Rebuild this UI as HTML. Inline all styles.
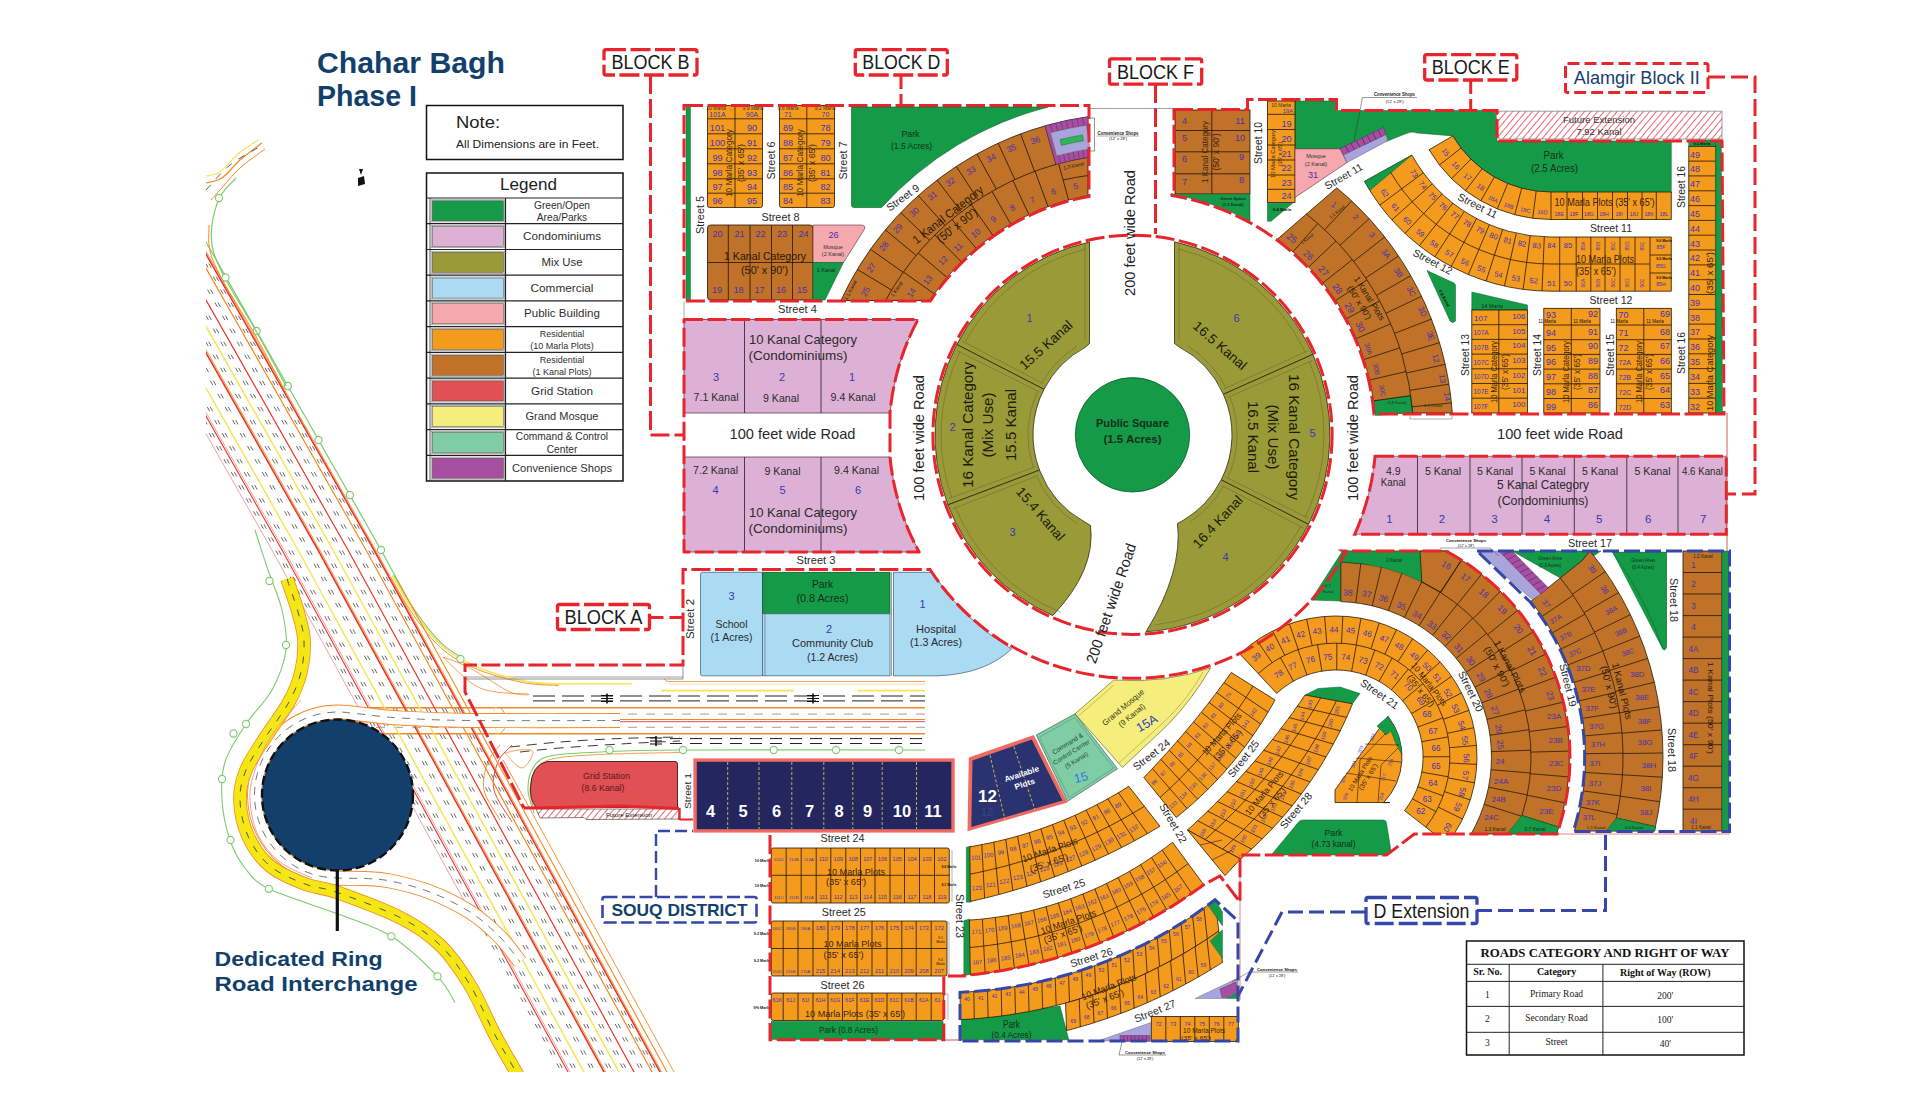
<!DOCTYPE html>
<html><head><meta charset="utf-8"><title>Chahar Bagh Phase I</title>
<style>html,body{margin:0;padding:0;background:#fff;}svg{display:block;}text{font-family:"Liberation Sans",sans-serif;}</style>
</head><body>
<svg width="1921" height="1101" viewBox="0 0 1921 1101">
<defs>
<pattern id="hatch" width="5" height="5" patternUnits="userSpaceOnUse" patternTransform="rotate(40)"><rect width="5" height="5" fill="#fff"/><line x1="0" y1="0" x2="0" y2="5" stroke="#E0444C" stroke-width="1.6"/></pattern>
<clipPath id="mapclip"><rect x="206" y="138" width="800" height="934"/></clipPath><clipPath id="clipRing"><rect x="1200" y="560" width="300" height="274"/></clipPath><clipPath id="clipA"><rect x="1600" y="440" width="126" height="100"/></clipPath>
</defs>
<rect x="0" y="0" width="1921" height="1101" fill="#fff" stroke="none" stroke-width="1" />
<g clip-path="url(#mapclip)">
<line x1="466" y1="677" x2="683" y2="677" stroke="#888" stroke-width="0.8" />
<path d="M664 679 Q665 681.5 670 681.5 H925" fill="none" stroke="#E9A25A" stroke-width="1" />
<line x1="668" y1="684" x2="925" y2="684" stroke="#F6DDA0" stroke-width="0.9" />
<line x1="535" y1="683.7" x2="632" y2="683.7" stroke="#F7E45A" stroke-width="1.6" />
<line x1="661" y1="690.6" x2="794" y2="690.6" stroke="#F7E45A" stroke-width="1.8" />
<line x1="857" y1="690.6" x2="925" y2="690.6" stroke="#F7E45A" stroke-width="1.8" />
<line x1="533" y1="696" x2="925" y2="696" stroke="#222" stroke-width="1" stroke-dasharray="22 7"/>
<line x1="533" y1="700.9" x2="925" y2="700.9" stroke="#222" stroke-width="1" stroke-dasharray="22 7"/>
<line x1="340" y1="707.7" x2="925" y2="707.7" stroke="#F08A24" stroke-width="1.4" />
<line x1="340" y1="714.1" x2="925" y2="714.1" stroke="#777" stroke-width="0.7" stroke-dasharray="9 9"/>
<line x1="340" y1="719.5" x2="925" y2="719.5" stroke="#F08A24" stroke-width="1.2" />
<line x1="340" y1="721.7" x2="925" y2="721.7" stroke="#E8372C" stroke-width="0.9" />
<line x1="340" y1="727.3" x2="925" y2="727.3" stroke="#777" stroke-width="0.7" stroke-dasharray="9 9"/>
<line x1="340" y1="733.7" x2="925" y2="733.7" stroke="#F08A24" stroke-width="1.4" />
<line x1="670" y1="738.6" x2="925" y2="738.6" stroke="#222" stroke-width="1" stroke-dasharray="12 8"/>
<line x1="670" y1="743.5" x2="925" y2="743.5" stroke="#222" stroke-width="1" stroke-dasharray="12 8"/>
<path d="M520 752 C526.7 751.3 543.3 749.3 560 748 C576.7 746.7 600 745.2 620 744 C640 742.8 670 741.5 680 741" fill="none" stroke="#222" stroke-width="0.9" stroke-dasharray="10 7"/>
<path d="M510 747 C518.3 746.2 541.7 743.4 560 742 C578.3 740.6 600 739.3 620 738.5 C640 737.7 670 737.2 680 737" fill="none" stroke="#222" stroke-width="0.9" stroke-dasharray="10 7"/>
<path d="M534 813 C533 809.2 528.2 797.5 528 790 C527.8 782.5 529.3 773.7 533 768 C536.7 762.3 538.8 758.7 550 756 C561.2 753.3 578.3 753 600 752 C621.7 751 625.8 750.3 680 750 C734.2 749.7 884.2 750 925 750" fill="none" stroke="#7CCB6E" stroke-width="1.1" />
<path d="M534 810 C533.3 806.7 529.7 796.7 530 790 C530.3 783.3 532.3 775.2 536 770 C539.7 764.8 541.3 761.6 552 759 C562.7 756.4 578.7 755.6 600 754.5 C621.3 753.4 666.7 752.8 680 752.5" fill="none" stroke="#F08A24" stroke-width="0.8" />
<circle cx="609.5" cy="750" r="3.6" fill="#fff" stroke="#7CCB6E" stroke-width="1.1" />
<circle cx="683" cy="750" r="3.6" fill="#fff" stroke="#7CCB6E" stroke-width="1.1" />
<circle cx="773.7" cy="750" r="3.6" fill="#fff" stroke="#7CCB6E" stroke-width="1.1" />
<circle cx="836" cy="750" r="3.6" fill="#fff" stroke="#7CCB6E" stroke-width="1.1" />
<circle cx="899" cy="750" r="3.6" fill="#fff" stroke="#7CCB6E" stroke-width="1.1" />
<path d="M601 695.5h12M601 698.5h12M601 701.5h12" fill="none" stroke="#111" stroke-width="1.1" />
<line x1="607" y1="693.5" x2="607" y2="703.5" stroke="#111" stroke-width="1.6" />
<path d="M807 695.5h12M807 698.5h12M807 701.5h12" fill="none" stroke="#111" stroke-width="1.1" />
<line x1="813" y1="693.5" x2="813" y2="703.5" stroke="#111" stroke-width="1.6" />
<path d="M650 738h12M650 741h12M650 744h12" fill="none" stroke="#111" stroke-width="1.1" />
<line x1="656" y1="736" x2="656" y2="746" stroke="#111" stroke-width="1.6" />
<path d="M392.5 576 C395.1 580.5 402.6 594.5 408 603 C413.4 611.5 419.3 619.8 425 627 C430.7 634.2 435.9 640.5 442 646 C448.1 651.5 453.6 655.4 461.6 659.7 C469.6 664 479.1 668.4 490 672 C500.9 675.6 515.3 679.5 527 681.5 C538.7 683.5 554.5 683.6 560 684" fill="none" stroke="#F7E45A" stroke-width="1.6" />
<path d="M391 577.5 C393.6 582 401.1 596 406.5 604.5 C411.9 613 417.8 621.3 423.5 628.5 C429.2 635.7 434.4 642 440.5 647.5 C446.6 653 452.1 656.9 460.1 661.2 C468.1 665.5 477.6 669.9 488.5 673.5 C499.4 677.1 513.8 681 525.5 683 C537.2 685 553 685.1 558.5 685.5" fill="none" stroke="#F08A24" stroke-width="0.9" />
<path d="M393.7 574.8 C396.3 579.3 403.8 593.3 409.2 601.8 C414.6 610.3 420.5 618.6 426.2 625.8 C431.9 633 437.1 639.3 443.2 644.8 C449.3 650.2 459.5 656.2 462.8 658.5" fill="none" stroke="#7CCB6E" stroke-width="1.1" />
<circle cx="460.5" cy="659" r="3.6" fill="#fff" stroke="#7CCB6E" stroke-width="1.1" />
<path d="M443 657 C447.5 658.8 458.8 662.2 470 668 C481.2 673.8 500.3 687.7 510 692 C519.7 696.3 533 694.7 528 694 C523 693.3 494.2 694.2 480 688 C465.8 681.8 449.2 662.2 443 657" fill="none" stroke="#F08A24" stroke-width="0.8" />
<path d="M500 707 C501 708.5 505 712.8 506 716 C507 719.2 507 723 506 726 C505 729 501 732.7 500 734" fill="none" stroke="#F08A24" stroke-width="0.9" />
<path d="M496 707 C495.3 709.2 491.7 715.5 492 720 C492.3 724.5 497 731.7 498 734" fill="none" stroke="#F7E45A" stroke-width="0.9" />
<path d="M500 745 C498 747.8 490.7 754.5 488 762 C485.3 769.5 482 780.3 484 790 C486 799.7 497.3 815 500 820" fill="none" stroke="#F08A24" stroke-width="0.9" />
<path d="M512 745 C509.7 747.8 501 754.5 498 762 C495 769.5 491.7 780 494 790 C496.3 800 509 816.7 512 822" fill="none" stroke="#E8372C" stroke-width="0.9" />
<path d="M505 753 C507.5 752.5 515.3 750.2 520 750 C524.7 749.8 532.7 749 533 752 C533.3 755 526.7 767.8 522 768 C517.3 768.2 507.8 755.5 505 753" fill="none" stroke="#F08A24" stroke-width="0.8" />
<polyline points="73.2,200 272,550 466.5,905" fill="none" stroke="#EE8A8A" stroke-width="0.8" />
<polyline points="83.2,200 282,550 572.4,1080" fill="none" stroke="#E8372C" stroke-width="1.1" />
<polyline points="85.2,200 284,550 574.4,1080" fill="none" stroke="#EE8A8A" stroke-width="0.8" />
<polyline points="53.8,120 298,550 588.4,1080" fill="none" stroke="#F7E45A" stroke-width="1.5" />
<polyline points="73.8,120 318,550 608.4,1080" fill="none" stroke="#E8372C" stroke-width="1.6" />
<polyline points="75.5,120 319.7,550 610.1,1080" fill="none" stroke="#F08A24" stroke-width="0.9" />
<polyline points="88.8,120 333,550 623.4,1080" fill="none" stroke="#F7E45A" stroke-width="1.5" />
<polyline points="103.8,120 348,550 638.4,1080" fill="none" stroke="#E8372C" stroke-width="1.2" />
<polyline points="121.8,120 366,550 656.4,1080" fill="none" stroke="#F08A24" stroke-width="1.2" />
<polyline points="129.8,120 374,550 664.4,1080" fill="none" stroke="#E8372C" stroke-width="1.6" />
<polyline points="131.4,120 375.6,550 666,1080" fill="none" stroke="#F08A24" stroke-width="0.9" />
<polyline points="182.2,200 381,550 396.3,578" fill="none" stroke="#7CCB6E" stroke-width="1.2" />
<polyline points="396.3,578 671.4,1080" fill="none" stroke="#F08A24" stroke-width="1.1" />
<polyline points="503.1,760 678.4,1080" fill="none" stroke="#F08A24" stroke-width="0.9" />
<polyline points="31.3,120 275.5,550 565.9,1080" fill="none" stroke="#444" stroke-width="0.8" stroke-dasharray="5 10"/>
<polyline points="34.3,120 278.5,550 568.9,1080" fill="none" stroke="#444" stroke-width="0.8" stroke-dasharray="5 10"/>
<polyline points="44.3,120 288.5,550 578.9,1080" fill="none" stroke="#444" stroke-width="0.8" stroke-dasharray="5 10"/>
<polyline points="47.3,120 291.5,550 581.9,1080" fill="none" stroke="#444" stroke-width="0.8" stroke-dasharray="5 10"/>
<polyline points="62.3,120 306.5,550 596.9,1080" fill="none" stroke="#444" stroke-width="0.8" stroke-dasharray="5 10"/>
<polyline points="65.3,120 309.5,550 599.9,1080" fill="none" stroke="#444" stroke-width="0.8" stroke-dasharray="5 10"/>
<polyline points="79.8,120 324,550 614.4,1080" fill="none" stroke="#444" stroke-width="0.8" stroke-dasharray="5 10"/>
<polyline points="82.8,120 327,550 617.4,1080" fill="none" stroke="#444" stroke-width="0.8" stroke-dasharray="5 10"/>
<polyline points="94.8,120 339,550 629.4,1080" fill="none" stroke="#444" stroke-width="0.8" stroke-dasharray="5 10"/>
<polyline points="97.8,120 342,550 632.4,1080" fill="none" stroke="#444" stroke-width="0.8" stroke-dasharray="5 10"/>
<polyline points="111.3,120 355.5,550 645.9,1080" fill="none" stroke="#444" stroke-width="0.8" stroke-dasharray="5 10"/>
<polyline points="114.3,120 358.5,550 648.9,1080" fill="none" stroke="#444" stroke-width="0.8" stroke-dasharray="5 10"/>
<polyline points="124.3,120 368.5,550 658.9,1080" fill="none" stroke="#444" stroke-width="0.8" stroke-dasharray="5 10"/>
<polyline points="127.3,120 371.5,550 661.9,1080" fill="none" stroke="#444" stroke-width="0.8" stroke-dasharray="5 10"/>
<circle cx="256.6" cy="331" r="3.6" fill="#fff" stroke="#7CCB6E" stroke-width="1.1" />
<circle cx="287.8" cy="386" r="3.6" fill="#fff" stroke="#7CCB6E" stroke-width="1.1" />
<circle cx="318.5" cy="440" r="3.6" fill="#fff" stroke="#7CCB6E" stroke-width="1.1" />
<circle cx="349.8" cy="495" r="3.6" fill="#fff" stroke="#7CCB6E" stroke-width="1.1" />
<circle cx="381" cy="550" r="3.6" fill="#fff" stroke="#7CCB6E" stroke-width="1.1" />
<path d="M206 183 C208.7 182.2 216.3 181.8 222 178 C227.7 174.2 233.3 165.8 240 160 C246.7 154.2 258.3 145.8 262 143" fill="none" stroke="#F08A24" stroke-width="1.2" />
<path d="M206 176 C208.3 175.3 214.7 175.7 220 172 C225.3 168.3 231.7 159.3 238 154 C244.3 148.7 254.7 142.3 258 140" fill="none" stroke="#F7E45A" stroke-width="1.2" />
<path d="M211 200 C212.5 198.3 215.2 195.3 220 190 C224.8 184.7 232.5 174.8 240 168 C247.5 161.2 260.8 152.2 265 149" fill="none" stroke="#F08A24" stroke-width="1" />
<path d="M206 190 C210 185.8 220.8 172.3 230 165 C239.2 157.7 255.8 149.2 261 146" fill="none" stroke="#333" stroke-width="0.8" stroke-dasharray="7 8"/>
<path d="M286 386 C281 376.8 266 348.7 256 331 C246 313.3 233.2 293.5 226 280 C218.8 266.5 215.3 259.2 213 250 C210.7 240.8 210.8 233.8 212 225 C213.2 216.2 216 204.8 220 197 C224 189.2 233.3 181.2 236 178" fill="none" stroke="#7CCB6E" stroke-width="1.2" />
<path d="M284 389 C279 379.7 264.2 351 254 333 C243.8 315 230.3 294.7 223 281 C215.7 267.3 212.3 260.3 210 251 C207.7 241.7 209.2 229.3 209 225" fill="none" stroke="#F08A24" stroke-width="1" />
<circle cx="219" cy="198" r="3.6" fill="#fff" stroke="#7CCB6E" stroke-width="1.1" />
<circle cx="225.5" cy="277.5" r="3.6" fill="#fff" stroke="#7CCB6E" stroke-width="1.1" />
<path d="M620 720.5 C595 720.5 506.7 720.9 470 720.5 C433.3 720.1 418.3 719.1 400 718 C381.7 716.9 370.4 715 360 714 C349.6 713 344.8 711.9 337.5 712 C330.2 712.1 322.9 713 316 714.8 C309.1 716.7 302.2 719.5 296 723.1 C289.8 726.7 283.9 731.2 278.8 736.3 C273.7 741.4 269.2 747.3 265.6 753.5 C262 759.7 259.2 766.6 257.3 773.5 C255.5 780.4 254.5 787.8 254.5 795 C254.5 802.2 255.5 809.6 257.3 816.5 C259.2 823.4 262 830.3 265.6 836.5 C269.2 842.7 273.7 848.6 278.8 853.7 C283.9 858.8 289.8 863.3 296 866.9 C302.2 870.5 309.1 873.3 316 875.2 C322.9 877 329.3 877.4 337.5 878 C345.7 878.6 356.2 878 365 878.5 C373.8 879 379.2 878.8 390 881 C400.8 883.2 416.7 886.8 430 892 C443.3 897.2 458.3 904.5 470 912 C481.7 919.5 491.7 928.7 500 937 C508.3 945.3 516.7 957.8 520 962" fill="none" stroke="#F08A24" stroke-width="15" />
<path d="M620 720.5 C595 720.5 506.7 720.9 470 720.5 C433.3 720.1 418.3 719.1 400 718 C381.7 716.9 370.4 715 360 714 C349.6 713 344.8 711.9 337.5 712 C330.2 712.1 322.9 713 316 714.8 C309.1 716.7 302.2 719.5 296 723.1 C289.8 726.7 283.9 731.2 278.8 736.3 C273.7 741.4 269.2 747.3 265.6 753.5 C262 759.7 259.2 766.6 257.3 773.5 C255.5 780.4 254.5 787.8 254.5 795 C254.5 802.2 255.5 809.6 257.3 816.5 C259.2 823.4 262 830.3 265.6 836.5 C269.2 842.7 273.7 848.6 278.8 853.7 C283.9 858.8 289.8 863.3 296 866.9 C302.2 870.5 309.1 873.3 316 875.2 C322.9 877 329.3 877.4 337.5 878 C345.7 878.6 356.2 878 365 878.5 C373.8 879 379.2 878.8 390 881 C400.8 883.2 416.7 886.8 430 892 C443.3 897.2 458.3 904.5 470 912 C481.7 919.5 491.7 928.7 500 937 C508.3 945.3 516.7 957.8 520 962" fill="none" stroke="#fff" stroke-width="13.2" />
<path d="M620 720.5 C595 720.5 506.7 720.9 470 720.5 C433.3 720.1 418.3 719.1 400 718 C381.7 716.9 370.4 715 360 714 C349.6 713 344.8 711.9 337.5 712 C330.2 712.1 322.9 713 316 714.8 C309.1 716.7 302.2 719.5 296 723.1 C289.8 726.7 283.9 731.2 278.8 736.3 C273.7 741.4 269.2 747.3 265.6 753.5 C262 759.7 259.2 766.6 257.3 773.5 C255.5 780.4 254.5 787.8 254.5 795 C254.5 802.2 255.5 809.6 257.3 816.5 C259.2 823.4 262 830.3 265.6 836.5 C269.2 842.7 273.7 848.6 278.8 853.7 C283.9 858.8 289.8 863.3 296 866.9 C302.2 870.5 309.1 873.3 316 875.2 C322.9 877 329.3 877.4 337.5 878 C345.7 878.6 356.2 878 365 878.5 C373.8 879 379.2 878.8 390 881 C400.8 883.2 416.7 886.8 430 892 C443.3 897.2 458.3 904.5 470 912 C481.7 919.5 491.7 928.7 500 937 C508.3 945.3 516.7 957.8 520 962" fill="none" stroke="#555" stroke-width="0.8" stroke-dasharray="8 7"/>
<path d="M287 579 C288.8 584.5 295.2 601.8 298 612 C300.8 622.2 303.5 630 304 640 C304.5 650 303.5 661.7 301 672 C298.5 682.3 295 691 289 702 C283 713 272.2 726.7 265 738 C257.8 749.3 250.2 759.7 246 770 C241.8 780.3 239.7 789 240 800 C240.3 811 243 825 248 836 C253 847 260.5 858 270 866 C279.5 874 293.8 879.6 305 884 C316.2 888.4 321.7 886.9 337.5 892.5 C353.3 898.1 382.9 908.8 400 917.5 C417.1 926.2 428.3 933.8 440 945 C451.7 956.2 460.8 970 470 985 C479.2 1000 487.3 1020.5 495 1035 C502.7 1049.5 511.5 1063.7 516 1072 C520.5 1080.3 521 1082.8 522 1085" fill="none" stroke="#F08A24" stroke-width="13.6" />
<path d="M287 579 C288.8 584.5 295.2 601.8 298 612 C300.8 622.2 303.5 630 304 640 C304.5 650 303.5 661.7 301 672 C298.5 682.3 295 691 289 702 C283 713 272.2 726.7 265 738 C257.8 749.3 250.2 759.7 246 770 C241.8 780.3 239.7 789 240 800 C240.3 811 243 825 248 836 C253 847 260.5 858 270 866 C279.5 874 293.8 879.6 305 884 C316.2 888.4 321.7 886.9 337.5 892.5 C353.3 898.1 382.9 908.8 400 917.5 C417.1 926.2 428.3 933.8 440 945 C451.7 956.2 460.8 970 470 985 C479.2 1000 487.3 1020.5 495 1035 C502.7 1049.5 511.5 1063.7 516 1072 C520.5 1080.3 521 1082.8 522 1085" fill="none" stroke="#F5E616" stroke-width="12" />
<path d="M287 579 C288.8 584.5 295.2 601.8 298 612 C300.8 622.2 303.5 630 304 640 C304.5 650 303.5 661.7 301 672 C298.5 682.3 295 691 289 702 C283 713 272.2 726.7 265 738 C257.8 749.3 250.2 759.7 246 770 C241.8 780.3 239.7 789 240 800 C240.3 811 243 825 248 836 C253 847 260.5 858 270 866 C279.5 874 293.8 879.6 305 884 C316.2 888.4 321.7 886.9 337.5 892.5 C353.3 898.1 382.9 908.8 400 917.5 C417.1 926.2 428.3 933.8 440 945 C451.7 956.2 460.8 970 470 985 C479.2 1000 487.3 1020.5 495 1035 C502.7 1049.5 511.5 1063.7 516 1072 C520.5 1080.3 521 1082.8 522 1085" fill="none" stroke="#444" stroke-width="0.9" stroke-dasharray="7 9"/>
<path d="M301 700 C296.2 705.8 279.7 723.3 272 735 C264.3 746.7 258.7 759.2 255 770 C251.3 780.8 249.5 789.2 250 800 C250.5 810.8 253 824.7 258 835 C263 845.3 271 854.8 280 862 C289 869.2 306.7 875.3 312 878" fill="none" stroke="#EE8A8A" stroke-width="0.8" />
<path d="M255 530 C257.2 536.7 263.5 556.7 268 570 C272.5 583.3 279 596.7 282 610 C285 623.3 287.7 636.7 286 650 C284.3 663.3 278.7 677.7 272 690 C265.3 702.3 253.8 712 246 724 C238.2 736 229 749.3 225 762 C221 774.7 221.2 787 222 800 C222.8 813 226.2 828.7 230 840 C233.8 851.3 238.5 859.9 245 868 C251.5 876.1 253.4 881.2 268.8 888.8 C284.2 896.4 317.1 905.9 337.5 913.8 C357.9 921.7 374.6 925.9 391.3 936.3 C408 946.7 426.9 965.3 437.5 976.3 C448.1 987.3 452.1 998.1 455 1002.5" fill="none" stroke="#7CCB6E" stroke-width="1.1" />
<circle cx="269.5" cy="581" r="3.6" fill="#fff" stroke="#7CCB6E" stroke-width="1.1" />
<circle cx="286" cy="645" r="3.6" fill="#fff" stroke="#7CCB6E" stroke-width="1.1" />
<circle cx="246" cy="724" r="3.6" fill="#fff" stroke="#7CCB6E" stroke-width="1.1" />
<circle cx="233.5" cy="733.5" r="3.6" fill="#fff" stroke="#7CCB6E" stroke-width="1.1" />
<circle cx="222" cy="779" r="3.6" fill="#fff" stroke="#7CCB6E" stroke-width="1.1" />
<circle cx="230.5" cy="840" r="3.6" fill="#fff" stroke="#7CCB6E" stroke-width="1.1" />
<circle cx="268.8" cy="888.8" r="3.6" fill="#fff" stroke="#7CCB6E" stroke-width="1.1" />
<circle cx="391.3" cy="936.3" r="3.6" fill="#fff" stroke="#7CCB6E" stroke-width="1.1" />
<circle cx="437.5" cy="976.3" r="3.6" fill="#fff" stroke="#7CCB6E" stroke-width="1.1" />
</g>
<circle cx="337.5" cy="795" r="75.5" fill="#123F6B" stroke="#111" stroke-width="2.4" stroke-dasharray="9 4"/>
<line x1="337.3" y1="870" x2="337.3" y2="931" stroke="#111" stroke-width="3.2" />
<path d="M547 761.5 H675 Q677.5 761.5 677.5 764 V807.5 H536 Q530 800 530.5 788 Q531 765 547 761.5 Z" fill="#E05055" stroke="#3a1a1a" stroke-width="0.9" />
<text x="606.5" y="779" font-size="8.6" fill="#5a1a1a" text-anchor="middle" textLength="47" lengthAdjust="spacingAndGlyphs" >Grid Station</text>
<text x="603" y="790.5" font-size="8.6" fill="#5a1a1a" text-anchor="middle" textLength="43" lengthAdjust="spacingAndGlyphs" >(8.6 Kanal)</text>
<polygon points="536,809 679,809 679,819 586,819.5 584,817.5 540,818" fill="url(#hatch)" stroke="#333" stroke-width="0.6" />
<text x="629" y="817" font-size="5.4" fill="#222" text-anchor="middle" textLength="46" lengthAdjust="spacingAndGlyphs" >Future Extension</text>
<polyline points="524,808 560,807.5 620,806 679,808.5" fill="none" stroke="#E8242C" stroke-width="2.8" />
<line x1="679.5" y1="808" x2="679.5" y2="820" stroke="#E8242C" stroke-width="2.4" />
<polyline points="679.5,819.5 693,819.5" fill="none" stroke="#E8242C" stroke-width="2" />
<path d="M956.8 344.5 A197.5 197.5 0 0 1 1089.5 242 L1089.5 343.5 L1085.5 347.1 A99.5 99.5 0 0 0 1044 389.3 Z" fill="#9A9A38" stroke="#2b2b10" stroke-width="0.8" />
<path d="M1174.5 241.8 A197.5 197.5 0 0 1 1312.9 354.4 L1223.4 394.3 A99.5 99.5 0 0 0 1178.5 346.5 L1174.5 343.5 Z" fill="#9A9A38" stroke="#2b2b10" stroke-width="0.8" />
<path d="M947.9 504.9 A197.5 197.5 0 0 1 956.8 344.5 L1044 389.3 A99.5 99.5 0 0 0 1039.5 470.1 Z" fill="#9A9A38" stroke="#2b2b10" stroke-width="0.8" />
<path d="M1312.9 354.4 A197.5 197.5 0 0 1 1308.5 524.4 L1221.2 479.9 A99.5 99.5 0 0 0 1223.4 394.3 Z" fill="#9A9A38" stroke="#2b2b10" stroke-width="0.8" />
<path d="M1052.8 615.5 A197.5 197.5 0 0 1 947.9 504.9 L1039.5 470.1 A99.5 99.5 0 0 0 1085.1 522.2 L1090.5 525.5 Q1096 570 1052.8 615.5 Z" fill="#9A9A38" stroke="#2b2b10" stroke-width="0.8" />
<path d="M1308.5 524.4 A197.5 197.5 0 0 1 1146 631.8 Q1183 571.5 1177.5 523.5 L1183.1 520.4 A99.5 99.5 0 0 0 1221.2 479.9 Z" fill="#9A9A38" stroke="#2b2b10" stroke-width="0.8" />
<path d="M965.3 341.3 A191.5 191.5 0 0 1 1085.9 249" fill="none" stroke="#6b6b3a" stroke-width="0.6" />
<path d="M951.8 498 A191.5 191.5 0 0 1 959.9 351.7" fill="none" stroke="#6b6b3a" stroke-width="0.6" />
<path d="M1060.8 612.3 A191.5 191.5 0 0 1 955.3 507.4" fill="none" stroke="#6b6b3a" stroke-width="0.6" />
<path d="M1178.1 248.8 A191.5 191.5 0 0 1 1305.3 352.3" fill="none" stroke="#6b6b3a" stroke-width="0.6" />
<path d="M1309.4 361.5 A191.5 191.5 0 0 1 1305.3 517.2" fill="none" stroke="#6b6b3a" stroke-width="0.6" />
<path d="M1300.8 526.1 A191.5 191.5 0 0 1 1155.8 624.8" fill="none" stroke="#6b6b3a" stroke-width="0.6" />
<path d="M1042.2 382.2 A104.5 104.5 0 0 1 1077.1 346.1" fill="none" stroke="#6b6b3a" stroke-width="0.6" />
<path d="M1033 466.7 A104.5 104.5 0 0 1 1037.2 391.9" fill="none" stroke="#6b6b3a" stroke-width="0.6" />
<path d="M1077.1 523.4 A104.5 104.5 0 0 1 1036.9 476.9" fill="none" stroke="#6b6b3a" stroke-width="0.6" />
<path d="M1187.9 346.1 A104.5 104.5 0 0 1 1225.6 387.3" fill="none" stroke="#6b6b3a" stroke-width="0.6" />
<path d="M1230.1 397.3 A104.5 104.5 0 0 1 1228 477.3" fill="none" stroke="#6b6b3a" stroke-width="0.6" />
<path d="M1223 487 A104.5 104.5 0 0 1 1190.9 521.4" fill="none" stroke="#6b6b3a" stroke-width="0.6" />
<path d="M1039.3 392L957.1 350.7M1043.5 383.9L962.1 341M1038.4 475.4L952.7 508.9M1035.2 466.8L948.8 498.7M1224.2 388.9L1307.9 350.7M1227.9 397.3L1312.3 360.6M1225.8 477.2L1308.2 518.2M1221.7 485.3L1303.3 527.9M1085 243V341M1179 243V341" fill="none" stroke="#6b6b3a" stroke-width="0.6" />
<circle cx="1132.5" cy="434.8" r="57.2" fill="#159A48" stroke="#0b5a2a" stroke-width="0.8" />
<text x="1132.5" y="426.5" font-size="11" fill="#10301c" text-anchor="middle" font-weight="bold" textLength="73" lengthAdjust="spacingAndGlyphs" >Public Square</text>
<text x="1132.5" y="442.5" font-size="11" fill="#10301c" text-anchor="middle" font-weight="bold" textLength="58" lengthAdjust="spacingAndGlyphs" >(1.5 Acres)</text>
<circle cx="1132.5" cy="434.8" r="199.6" fill="none" stroke="#E8242C" stroke-width="3" stroke-dasharray="19 4.5"/>
<text x="1029.5" y="322" font-size="11" fill="#3838B0" text-anchor="middle" >1</text>
<text x="1236.5" y="322" font-size="11" fill="#3838B0" text-anchor="middle" >6</text>
<text x="952.5" y="431" font-size="11" fill="#3838B0" text-anchor="middle" >2</text>
<text x="1312.5" y="437" font-size="11" fill="#3838B0" text-anchor="middle" >5</text>
<text x="1012.5" y="536" font-size="11" fill="#3838B0" text-anchor="middle" >3</text>
<text x="1225.5" y="561" font-size="11" fill="#3838B0" text-anchor="middle" >4</text>
<text x="1049" y="348.5" font-size="13.5" fill="#1c1c08" text-anchor="middle" transform="rotate(-42 1049 348.5)" textLength="66" lengthAdjust="spacingAndGlyphs" >15.5 Kanal</text>
<text x="1217" y="349" font-size="13.5" fill="#1c1c08" text-anchor="middle" transform="rotate(41 1217 349)" textLength="66" lengthAdjust="spacingAndGlyphs" >16.5 Kanal</text>
<text x="1037" y="517" font-size="13.5" fill="#1c1c08" text-anchor="middle" transform="rotate(49 1037 517)" textLength="66" lengthAdjust="spacingAndGlyphs" >15.4 Kanal</text>
<text x="1221" y="525" font-size="13.5" fill="#1c1c08" text-anchor="middle" transform="rotate(-47 1221 525)" textLength="66" lengthAdjust="spacingAndGlyphs" >16.4 Kanal</text>
<text x="973" y="425" font-size="15" fill="#1c1c08" text-anchor="middle" transform="rotate(-90 973 425)" textLength="126" lengthAdjust="spacingAndGlyphs" >16 Kanal Category</text>
<text x="993" y="425" font-size="15" fill="#1c1c08" text-anchor="middle" transform="rotate(-90 993 425)" textLength="65" lengthAdjust="spacingAndGlyphs" >(Mix Use)</text>
<text x="1016" y="425" font-size="15" fill="#1c1c08" text-anchor="middle" transform="rotate(-90 1016 425)" textLength="72" lengthAdjust="spacingAndGlyphs" >15.5 Kanal</text>
<text x="1289" y="437" font-size="15" fill="#1c1c08" text-anchor="middle" transform="rotate(90 1289 437)" textLength="126" lengthAdjust="spacingAndGlyphs" >16 Kanal Category</text>
<text x="1268" y="437" font-size="15" fill="#1c1c08" text-anchor="middle" transform="rotate(90 1268 437)" textLength="65" lengthAdjust="spacingAndGlyphs" >(Mix Use)</text>
<text x="1248" y="437" font-size="15" fill="#1c1c08" text-anchor="middle" transform="rotate(90 1248 437)" textLength="72" lengthAdjust="spacingAndGlyphs" >16.5 Kanal</text>
<text x="1135" y="233" font-size="15" fill="#222" text-anchor="middle" transform="rotate(-90 1135 233)" textLength="126" lengthAdjust="spacingAndGlyphs" >200 feet wide Road</text>
<text x="1116" y="605" font-size="15" fill="#222" text-anchor="middle" transform="rotate(-71 1116 605)" textLength="126" lengthAdjust="spacingAndGlyphs" >200 feet wide Road</text>
<text x="924" y="438" font-size="15" fill="#222" text-anchor="middle" transform="rotate(-90 924 438)" textLength="126" lengthAdjust="spacingAndGlyphs" >100 feet wide Road</text>
<text x="1358" y="438" font-size="15" fill="#222" text-anchor="middle" transform="rotate(-90 1358 438)" textLength="126" lengthAdjust="spacingAndGlyphs" >100 feet wide Road</text>
<line x1="1155.5" y1="84" x2="1155.5" y2="234" stroke="#E8242C" stroke-width="3" stroke-dasharray="19 5"/>
<path d="M684 319.5 L918 319.5 A243.5 243.5 0 0 0 890 413 L684 413 Z" fill="#DDB1D6" stroke="#5a3a55" stroke-width="0.8" />
<path d="M744.5 319.5V413M821 319.5V413" fill="none" stroke="#3a2a3a" stroke-width="0.9" />
<path d="M684 457 L890 457 A243.5 243.5 0 0 0 919.1 552 L684 552 Z" fill="#DDB1D6" stroke="#5a3a55" stroke-width="0.8" />
<path d="M744.5 457V552M821 457V552" fill="none" stroke="#3a2a3a" stroke-width="0.9" />
<path d="M684 319.5 L918 319.5 A243.5 243.5 0 0 0 890 413 L890 457 A243.5 243.5 0 0 0 919.1 552 L684 552 Z" fill="none" stroke="#E8242C" stroke-width="3" stroke-dasharray="19 4.5" stroke-linejoin="round"/>
<text x="803" y="343.5" font-size="13" fill="#2a2a2a" text-anchor="middle" textLength="108" lengthAdjust="spacingAndGlyphs" >10 Kanal Category</text>
<text x="798" y="360" font-size="13" fill="#2a2a2a" text-anchor="middle" textLength="99" lengthAdjust="spacingAndGlyphs" >(Condominiums)</text>
<text x="716" y="380.5" font-size="11" fill="#3838B0" text-anchor="middle" >3</text>
<text x="782" y="380.5" font-size="11" fill="#3838B0" text-anchor="middle" >2</text>
<text x="852" y="381" font-size="11" fill="#3838B0" text-anchor="middle" >1</text>
<text x="716" y="401" font-size="10.5" fill="#2a2a2a" text-anchor="middle" textLength="45" lengthAdjust="spacingAndGlyphs" >7.1 Kanal</text>
<text x="781" y="401.5" font-size="10.5" fill="#2a2a2a" text-anchor="middle" textLength="36" lengthAdjust="spacingAndGlyphs" >9 Kanal</text>
<text x="853" y="401" font-size="10.5" fill="#2a2a2a" text-anchor="middle" textLength="45" lengthAdjust="spacingAndGlyphs" >9.4 Kanal</text>
<text x="792.5" y="438.5" font-size="14.5" fill="#2a2a2a" text-anchor="middle" textLength="126" lengthAdjust="spacingAndGlyphs" >100 feet wide Road</text>
<text x="715.5" y="474" font-size="10.5" fill="#2a2a2a" text-anchor="middle" textLength="45" lengthAdjust="spacingAndGlyphs" >7.2 Kanal</text>
<text x="782.5" y="475" font-size="10.5" fill="#2a2a2a" text-anchor="middle" textLength="36" lengthAdjust="spacingAndGlyphs" >9 Kanal</text>
<text x="856.5" y="474" font-size="10.5" fill="#2a2a2a" text-anchor="middle" textLength="45" lengthAdjust="spacingAndGlyphs" >9.4 Kanal</text>
<text x="715.5" y="494" font-size="11" fill="#3838B0" text-anchor="middle" >4</text>
<text x="782.5" y="494" font-size="11" fill="#3838B0" text-anchor="middle" >5</text>
<text x="858" y="494" font-size="11" fill="#3838B0" text-anchor="middle" >6</text>
<text x="803" y="516.5" font-size="13" fill="#2a2a2a" text-anchor="middle" textLength="108" lengthAdjust="spacingAndGlyphs" >10 Kanal Category</text>
<text x="798" y="533" font-size="13" fill="#2a2a2a" text-anchor="middle" textLength="99" lengthAdjust="spacingAndGlyphs" >(Condominiums)</text>
<text x="797.5" y="313" font-size="10.5" fill="#2a2a2a" text-anchor="middle" textLength="39" lengthAdjust="spacingAndGlyphs" >Street 4</text>
<text x="816" y="564" font-size="10.5" fill="#2a2a2a" text-anchor="middle" textLength="39" lengthAdjust="spacingAndGlyphs" >Street 3</text>
<polyline points="650.5,75 650.5,435 684,435" fill="none" stroke="#E8242C" stroke-width="3" stroke-dasharray="19 5"/>
<rect x="700.5" y="572.3" width="62" height="103.5" fill="#ABDBF3" stroke="#4a6a7a" stroke-width="0.8" rx="2"/>
<rect x="762.5" y="572.3" width="127.5" height="41.5" fill="#159A48" stroke="#0b5a2a" stroke-width="0.8" />
<rect x="762.5" y="613.8" width="127.5" height="62" fill="#ABDBF3" stroke="#4a6a7a" stroke-width="0.8" />
<path d="M893.5 572.3 H932 A247 247 0 0 0 1011.5 649 Q985 674 938 675.8 H893.5 Z" fill="#ABDBF3" stroke="#4a6a7a" stroke-width="0.8" />
<path d="M765 572.3V675.8M891.5 572.3V675.8" fill="none" stroke="#4a6a7a" stroke-width="0.6" />
<text x="731.5" y="600" font-size="11" fill="#3838B0" text-anchor="middle" >3</text>
<text x="829" y="633" font-size="11" fill="#3838B0" text-anchor="middle" >2</text>
<text x="922.5" y="607.5" font-size="11" fill="#3838B0" text-anchor="middle" >1</text>
<text x="731.5" y="627.5" font-size="10.5" fill="#2a2a2a" text-anchor="middle" textLength="32" lengthAdjust="spacingAndGlyphs" >School</text>
<text x="731.5" y="641" font-size="10.5" fill="#2a2a2a" text-anchor="middle" textLength="42" lengthAdjust="spacingAndGlyphs" >(1 Acres)</text>
<text x="822.5" y="588" font-size="10.5" fill="#10301c" text-anchor="middle" textLength="21" lengthAdjust="spacingAndGlyphs" >Park</text>
<text x="822.5" y="602" font-size="10.5" fill="#10301c" text-anchor="middle" textLength="52" lengthAdjust="spacingAndGlyphs" >(0.8 Acres)</text>
<text x="832.5" y="647" font-size="10.5" fill="#2a2a2a" text-anchor="middle" textLength="81" lengthAdjust="spacingAndGlyphs" >Community Club</text>
<text x="832.5" y="660.5" font-size="10.5" fill="#2a2a2a" text-anchor="middle" textLength="51" lengthAdjust="spacingAndGlyphs" >(1.2 Acres)</text>
<text x="936" y="633" font-size="10.5" fill="#2a2a2a" text-anchor="middle" textLength="40" lengthAdjust="spacingAndGlyphs" >Hospital</text>
<text x="936" y="645.5" font-size="10.5" fill="#2a2a2a" text-anchor="middle" textLength="52" lengthAdjust="spacingAndGlyphs" >(1.3 Acres)</text>
<text x="694" y="619" font-size="10" fill="#2a2a2a" text-anchor="middle" transform="rotate(-90 694 619)" textLength="40" lengthAdjust="spacingAndGlyphs" >Street 2</text>
<path d="M1008 645 A243.5 243.5 0 0 1 930 569.5 H683 V665 H465 V692 L524 808 " fill="none" stroke="#E8242C" stroke-width="3" stroke-dasharray="19 4.5"/>
<line x1="649.5" y1="617.5" x2="683" y2="617.5" stroke="#E8242C" stroke-width="3" stroke-dasharray="14 6"/>
<polyline points="683,665 683,679 466,679" fill="none" stroke="#666" stroke-width="0.7" />
<rect x="686" y="106.5" width="4.5" height="194" fill="#159A48" stroke="#0b5a2a" stroke-width="0.4" />
<rect x="707.5" y="105.5" width="55" height="102" fill="#F49B1E" stroke="#20140a" stroke-width="0.8" rx="2"/>
<path d="M735 105.5V207.5M707.5 118.8H762.5M707.5 133.8H762.5M707.5 148.8H762.5M707.5 163.8H762.5M707.5 178.8H762.5M707.5 193.2H762.5" fill="none" stroke="#20140a" stroke-width="0.8" />
<rect x="779.5" y="105.5" width="55" height="102" fill="#F49B1E" stroke="#20140a" stroke-width="0.8" rx="2"/>
<path d="M806.8 105.5V207.5M779.5 118.8H834.5M779.5 133.8H834.5M779.5 148.8H834.5M779.5 163.8H834.5M779.5 178.8H834.5M779.5 193.2H834.5" fill="none" stroke="#20140a" stroke-width="0.8" />
<text x="717.5" y="117.2" font-size="7" fill="#4A2FB0" text-anchor="middle" >101A</text>
<text x="752" y="117.2" font-size="7" fill="#4A2FB0" text-anchor="middle" >90A</text>
<text x="788" y="117.2" font-size="7" fill="#4A2FB0" text-anchor="middle" >71</text>
<text x="825.5" y="117.2" font-size="7" fill="#4A2FB0" text-anchor="middle" >70</text>
<text x="717.5" y="130.6" font-size="9.2" fill="#4A2FB0" text-anchor="middle" >101</text>
<text x="752" y="130.6" font-size="9.2" fill="#4A2FB0" text-anchor="middle" >90</text>
<text x="788" y="130.6" font-size="9.2" fill="#4A2FB0" text-anchor="middle" >89</text>
<text x="825.5" y="130.6" font-size="9.2" fill="#4A2FB0" text-anchor="middle" >78</text>
<text x="717.5" y="145.6" font-size="9.2" fill="#4A2FB0" text-anchor="middle" >100</text>
<text x="752" y="145.6" font-size="9.2" fill="#4A2FB0" text-anchor="middle" >91</text>
<text x="788" y="145.6" font-size="9.2" fill="#4A2FB0" text-anchor="middle" >88</text>
<text x="825.5" y="145.6" font-size="9.2" fill="#4A2FB0" text-anchor="middle" >79</text>
<text x="717.5" y="160.6" font-size="9.2" fill="#4A2FB0" text-anchor="middle" >99</text>
<text x="752" y="160.6" font-size="9.2" fill="#4A2FB0" text-anchor="middle" >92</text>
<text x="788" y="160.6" font-size="9.2" fill="#4A2FB0" text-anchor="middle" >87</text>
<text x="825.5" y="160.6" font-size="9.2" fill="#4A2FB0" text-anchor="middle" >80</text>
<text x="717.5" y="175.6" font-size="9.2" fill="#4A2FB0" text-anchor="middle" >98</text>
<text x="752" y="175.6" font-size="9.2" fill="#4A2FB0" text-anchor="middle" >93</text>
<text x="788" y="175.6" font-size="9.2" fill="#4A2FB0" text-anchor="middle" >86</text>
<text x="825.5" y="175.6" font-size="9.2" fill="#4A2FB0" text-anchor="middle" >81</text>
<text x="717.5" y="190.1" font-size="9.2" fill="#4A2FB0" text-anchor="middle" >97</text>
<text x="752" y="190.1" font-size="9.2" fill="#4A2FB0" text-anchor="middle" >94</text>
<text x="788" y="190.1" font-size="9.2" fill="#4A2FB0" text-anchor="middle" >85</text>
<text x="825.5" y="190.1" font-size="9.2" fill="#4A2FB0" text-anchor="middle" >82</text>
<text x="717.5" y="204.3" font-size="9.2" fill="#4A2FB0" text-anchor="middle" >96</text>
<text x="752" y="204.3" font-size="9.2" fill="#4A2FB0" text-anchor="middle" >95</text>
<text x="788" y="204.3" font-size="9.2" fill="#4A2FB0" text-anchor="middle" >84</text>
<text x="825.5" y="204.3" font-size="9.2" fill="#4A2FB0" text-anchor="middle" >83</text>
<text x="716" y="109.8" font-size="5" fill="#333" text-anchor="middle" >10 Marla</text>
<text x="753" y="109.8" font-size="5" fill="#333" text-anchor="middle" >9.9 Marla</text>
<text x="788" y="109.8" font-size="5" fill="#333" text-anchor="middle" >9.6 Marla</text>
<text x="825" y="109.8" font-size="5" fill="#333" text-anchor="middle" >9.2 Marla</text>
<text x="732" y="163" font-size="9.5" fill="#3a2a10" text-anchor="middle" transform="rotate(-90 732 163)" textLength="68" lengthAdjust="spacingAndGlyphs" >10 Marla Category</text>
<text x="744" y="163" font-size="9.5" fill="#3a2a10" text-anchor="middle" transform="rotate(-90 744 163)" textLength="38" lengthAdjust="spacingAndGlyphs" >(35' x 65')</text>
<text x="803" y="163" font-size="9.5" fill="#3a2a10" text-anchor="middle" transform="rotate(-90 803 163)" textLength="68" lengthAdjust="spacingAndGlyphs" >10 Marla Category</text>
<text x="815" y="163" font-size="9.5" fill="#3a2a10" text-anchor="middle" transform="rotate(-90 815 163)" textLength="38" lengthAdjust="spacingAndGlyphs" >(35' x 65')</text>
<text x="703.5" y="215" font-size="10.5" fill="#2a2a2a" text-anchor="middle" transform="rotate(-90 703.5 215)" textLength="38" lengthAdjust="spacingAndGlyphs" >Street 5</text>
<text x="774.5" y="160.5" font-size="10.5" fill="#2a2a2a" text-anchor="middle" transform="rotate(-90 774.5 160.5)" textLength="38" lengthAdjust="spacingAndGlyphs" >Street 6</text>
<text x="847" y="160.5" font-size="10.5" fill="#2a2a2a" text-anchor="middle" transform="rotate(-90 847 160.5)" textLength="38" lengthAdjust="spacingAndGlyphs" >Street 7</text>
<text x="780.5" y="221" font-size="10.5" fill="#2a2a2a" text-anchor="middle" textLength="38" lengthAdjust="spacingAndGlyphs" >Street 8</text>
<text x="905" y="200.5" font-size="10.5" fill="#2a2a2a" text-anchor="middle" transform="rotate(-36 905 200.5)" textLength="38" lengthAdjust="spacingAndGlyphs" >Street 9</text>
<path d="M851.5 107 H1047.9 A338.5 338.5 0 0 0 881.6 207.5 L854 207.5 Q851.5 207.5 851.5 205 Z" fill="#159A48" stroke="#0b5a2a" stroke-width="0.6" />
<text x="910.5" y="137" font-size="9.5" fill="#10301c" text-anchor="middle" textLength="18" lengthAdjust="spacingAndGlyphs" >Park</text>
<text x="911.5" y="148.5" font-size="9.5" fill="#10301c" text-anchor="middle" textLength="41" lengthAdjust="spacingAndGlyphs" >(1.5 Acres)</text>
<rect x="707.5" y="225" width="105.5" height="75" fill="#BF7228" stroke="#20140a" stroke-width="0.8" rx="3"/>
<path d="M728.3 225V300M750 225V300M771.5 225V300M792.5 225V300M707.5 262.5H813" fill="none" stroke="#20140a" stroke-width="0.8" />
<text x="717.5" y="237" font-size="9.2" fill="#4A2FB0" text-anchor="middle" >20</text>
<text x="739.5" y="237" font-size="9.2" fill="#4A2FB0" text-anchor="middle" >21</text>
<text x="760.5" y="237" font-size="9.2" fill="#4A2FB0" text-anchor="middle" >22</text>
<text x="782" y="237" font-size="9.2" fill="#4A2FB0" text-anchor="middle" >23</text>
<text x="803.5" y="237" font-size="9.2" fill="#4A2FB0" text-anchor="middle" >24</text>
<text x="717" y="292.5" font-size="9.2" fill="#4A2FB0" text-anchor="middle" >19</text>
<text x="738.5" y="292.5" font-size="9.2" fill="#4A2FB0" text-anchor="middle" >18</text>
<text x="759.5" y="292.5" font-size="9.2" fill="#4A2FB0" text-anchor="middle" >17</text>
<text x="781" y="292.5" font-size="9.2" fill="#4A2FB0" text-anchor="middle" >16</text>
<text x="802" y="292.5" font-size="9.2" fill="#4A2FB0" text-anchor="middle" >15</text>
<text x="765" y="260" font-size="11.5" fill="#2a1a08" text-anchor="middle" textLength="82" lengthAdjust="spacingAndGlyphs" >1 Kanal Category</text>
<text x="764.5" y="273.5" font-size="11.5" fill="#2a1a08" text-anchor="middle" textLength="47" lengthAdjust="spacingAndGlyphs" >(50' x 90')</text>
<path d="M813 225 H861 Q866.5 225 864 230 L843.5 262.5 H813 Z" fill="#F5A8AE" stroke="#5a3030" stroke-width="0.6" />
<text x="833.5" y="238" font-size="9.2" fill="#4A2FB0" text-anchor="middle" >26</text>
<text x="833" y="248.5" font-size="5.5" fill="#333" text-anchor="middle" >Mosque</text>
<text x="833" y="255.5" font-size="5.5" fill="#333" text-anchor="middle" >(2 Kanal)</text>
<polygon points="813,262.5 843.5,262.5 825,300 813,300" fill="#159A48" stroke="#0b5a2a" stroke-width="0.5" />
<text x="826" y="272" font-size="5.5" fill="#10301c" text-anchor="middle" >1 Kanal</text>
<path d="M840.9 300.5 A321 321 0 0 1 1088 116.8 L1088 195.4 A243.5 243.5 0 0 0 929.4 300.5 Z" fill="#BF7228" stroke="#20140a" stroke-width="0.8" />
<path d="M885.6 300.5 A281 281 0 0 1 1088 157.3M891.6 290L857.3 269.4M903.2 272.4L870.5 249.3M916.1 255.4L885.3 229.9M929.7 240.3L900.8 212.6M945 225.4L918.3 195.6M961.4 211.8L937.1 180.1M978.2 199.9L956.3 166.5M996.3 189L976.9 154M1014.9 179.6L998.1 143.2M1034.6 171.4L1020.6 133.9M1056 164.4L1045.1 125.9M934 293.7L903.4 272M946.8 277.3L918.2 253M961.2 261.7L934.8 235M976 248.2L951.9 219.5M992.8 235.3L971.3 204.6M1010.7 223.9L992 191.4M1028.8 214.4L1012.9 180.5M1048 206.4L1035 171.2M1068.5 199.8L1058.6 163.6M1063.1 180 A263 263 0 0 1 1088 175.5" fill="none" stroke="#20140a" stroke-width="0.8" />
<path d="M1045.1 125.9 A321 321 0 0 1 1088 116.8 L1088 157.3 A281 281 0 0 0 1056 164.4 Z" fill="#A84EA0" stroke="#5a2a5a" stroke-width="0.5" />
<path d="M1050.4 132.7 A313 313 0 0 1 1086.4 125.2 L1089.9 148.9 A289 289 0 0 0 1056.7 155.9 Z" fill="#A9A4DB" stroke="#555" stroke-width="0.4" />
<path d="M1060 139.5 A304 304 0 0 1 1082.5 134.9 L1083.5 140.8 A298 298 0 0 0 1061.4 145.4 Z" fill="#2FB457" stroke="#0b5a2a" stroke-width="0.4" />
<path d="M1060.6 163.1L1058.6 155.4M1052.4 132.2L1050.4 124.4M1065.3 161.9L1063.4 154.1M1057.6 130.8L1055.7 123.1M1069.9 160.8L1068.2 153M1062.8 129.6L1061 121.8M1074.6 159.8L1073 151.9M1068 128.5L1066.4 120.6M1079.3 158.8L1077.8 151M1073.3 127.4L1071.8 119.5M1084.1 158L1082.7 150.1M1078.5 126.4L1077.2 118.6M1088.8 157.2L1087.6 149.3M1083.8 125.6L1082.6 117.7" fill="none" stroke="#4a2a6a" stroke-width="0.5" />
<text x="868" y="293" font-size="8.5" fill="#4A2FB0" text-anchor="middle" transform="rotate(-61.3 868 293)" >25</text>
<text x="873.8" y="269.2" font-size="8.5" fill="#4A2FB0" text-anchor="middle" transform="rotate(-56.9 873.8 269.2)" >27</text>
<text x="886.2" y="248" font-size="8.5" fill="#4A2FB0" text-anchor="middle" transform="rotate(-52.4 886.2 248)" >28</text>
<text x="900" y="230.5" font-size="8.5" fill="#4A2FB0" text-anchor="middle" transform="rotate(-48.3 900 230.5)" >29</text>
<text x="916.2" y="214.2" font-size="8.5" fill="#4A2FB0" text-anchor="middle" transform="rotate(-44.1 916.2 214.2)" >30</text>
<text x="934.2" y="198" font-size="8.5" fill="#4A2FB0" text-anchor="middle" transform="rotate(-39.6 934.2 198)" >31</text>
<text x="952" y="184.2" font-size="8.5" fill="#4A2FB0" text-anchor="middle" transform="rotate(-35.5 952 184.2)" >32</text>
<text x="972.5" y="173" font-size="8.5" fill="#4A2FB0" text-anchor="middle" transform="rotate(-31.1 972.5 173)" >33</text>
<text x="992.5" y="160.5" font-size="8.5" fill="#4A2FB0" text-anchor="middle" transform="rotate(-26.8 992.5 160.5)" >34</text>
<text x="1012.5" y="151" font-size="8.5" fill="#4A2FB0" text-anchor="middle" transform="rotate(-22.7 1012.5 151)" >35</text>
<text x="1036.2" y="143" font-size="8.5" fill="#4A2FB0" text-anchor="middle" transform="rotate(-18.1 1036.2 143)" >36</text>
<text x="913.8" y="294.2" font-size="8.5" fill="#4A2FB0" text-anchor="middle" transform="rotate(-56.7 913.8 294.2)" >14</text>
<text x="930" y="281.7" font-size="8.5" fill="#4A2FB0" text-anchor="middle" transform="rotate(-52.4 930 281.7)" >13</text>
<text x="945" y="262.5" font-size="8.5" fill="#4A2FB0" text-anchor="middle" transform="rotate(-46.9 945 262.5)" >12</text>
<text x="960" y="249.2" font-size="8.5" fill="#4A2FB0" text-anchor="middle" transform="rotate(-42.5 960 249.2)" >11</text>
<text x="977.5" y="235.5" font-size="8.5" fill="#4A2FB0" text-anchor="middle" transform="rotate(-37.5 977.5 235.5)" >10</text>
<text x="995" y="221.7" font-size="8.5" fill="#4A2FB0" text-anchor="middle" transform="rotate(-32.5 995 221.7)" >9</text>
<text x="1013.8" y="210.5" font-size="8.5" fill="#4A2FB0" text-anchor="middle" transform="rotate(-27.6 1013.8 210.5)" >8</text>
<text x="1033.8" y="202.5" font-size="8.5" fill="#4A2FB0" text-anchor="middle" transform="rotate(-22.8 1033.8 202.5)" >7</text>
<text x="1054.5" y="194.2" font-size="8.5" fill="#4A2FB0" text-anchor="middle" transform="rotate(-17.8 1054.5 194.2)" >6</text>
<text x="1076.2" y="189" font-size="8.5" fill="#4A2FB0" text-anchor="middle" transform="rotate(-12.7 1076.2 189)" >5</text>
<text x="1074" y="167.5" font-size="5" fill="#222" text-anchor="middle" transform="rotate(-12 1074 167.5)" >1.3 Kanal</text>
<text x="852" y="291" font-size="5" fill="#222" text-anchor="middle" transform="rotate(-62 852 291)" >1.1 Kanal</text>
<text x="898" y="290" font-size="5" fill="#222" text-anchor="middle" transform="rotate(-55 898 290)" >1 Kanal</text>
<text x="950.5" y="218" font-size="12" fill="#2a1a08" text-anchor="middle" transform="rotate(-38 950.5 218)" textLength="86" lengthAdjust="spacingAndGlyphs" >1 Kanal Category</text>
<text x="959.5" y="228.5" font-size="12" fill="#2a1a08" text-anchor="middle" transform="rotate(-38 959.5 228.5)" textLength="48" lengthAdjust="spacingAndGlyphs" >(50' x 90')</text>
<polyline points="1090,118 1094.5,118 1094.5,151 1090,151" fill="none" stroke="#666" stroke-width="0.7" />
<text x="1118" y="134.5" font-size="4.6" fill="#222" text-anchor="middle" font-weight="bold" textLength="41" lengthAdjust="spacingAndGlyphs" >Convenience Shops</text>
<text x="1118" y="140" font-size="4.2" fill="#222" text-anchor="middle" >(12' x 28')</text>
<line x1="1097" y1="136" x2="1139" y2="136" stroke="#333" stroke-width="0.4" />
<path d="M684 105.5 H1089 V196.4 A242.5 242.5 0 0 0 930.2 301.1 H684 Z" fill="none" stroke="#E8242C" stroke-width="3" stroke-dasharray="19 4.5"/>
<line x1="901" y1="75" x2="901" y2="105" stroke="#E8242C" stroke-width="3" stroke-dasharray="14 5"/>
<line x1="1089" y1="108.5" x2="1174" y2="108.5" stroke="#777" stroke-width="0.7" />
<line x1="684" y1="301" x2="684" y2="319" stroke="#777" stroke-width="0.6" />
<path d="M1295 101 H1336 V110.5 H1497 V141 H1671.3 V193 H1551 A114 114 0 0 1 1452.8 135.9 L1417 133 Q1412 130.5 1405 134 L1387.5 141 L1340 149 H1295 Z" fill="#159A48" stroke="#0b5a2a" stroke-width="0.5" />
<text x="1553.5" y="159" font-size="10.5" fill="#10301c" text-anchor="middle" textLength="20" lengthAdjust="spacingAndGlyphs" >Park</text>
<text x="1554.5" y="171.5" font-size="10.5" fill="#10301c" text-anchor="middle" textLength="47" lengthAdjust="spacingAndGlyphs" >(2.5 Acres)</text>
<polygon points="1495.5,111.2 1722,111.2 1722,139 1499,139" fill="url(#hatch)" stroke="#777" stroke-width="0.7" />
<text x="1599" y="123" font-size="9.5" fill="#333" text-anchor="middle" textLength="72" lengthAdjust="spacingAndGlyphs" >Future Extension</text>
<text x="1599" y="134.5" font-size="9.5" fill="#333" text-anchor="middle" textLength="45" lengthAdjust="spacingAndGlyphs" >7.92 Kanal</text>
<rect x="1175" y="110" width="75" height="84" fill="#BF7228" stroke="#20140a" stroke-width="0.8" />
<path d="M1211.8 110V194M1175 130.5H1250M1175 151.8H1250M1175 173.8H1250" fill="none" stroke="#20140a" stroke-width="0.8" />
<text x="1184.5" y="124" font-size="9.2" fill="#4A2FB0" text-anchor="middle" >4</text>
<text x="1240" y="124" font-size="9.2" fill="#4A2FB0" text-anchor="middle" >11</text>
<text x="1184.5" y="140.5" font-size="9.2" fill="#4A2FB0" text-anchor="middle" >5</text>
<text x="1240" y="140.5" font-size="9.2" fill="#4A2FB0" text-anchor="middle" >10</text>
<text x="1184.5" y="161.5" font-size="9.2" fill="#4A2FB0" text-anchor="middle" >6</text>
<text x="1241.5" y="160" font-size="9.2" fill="#4A2FB0" text-anchor="middle" >9</text>
<text x="1184.5" y="184.5" font-size="9.2" fill="#4A2FB0" text-anchor="middle" >7</text>
<text x="1241.5" y="183" font-size="9.2" fill="#4A2FB0" text-anchor="middle" >8</text>
<text x="1208" y="152" font-size="8.5" fill="#3a2410" text-anchor="middle" transform="rotate(-90 1208 152)" textLength="62" lengthAdjust="spacingAndGlyphs" >1 Kanal Category</text>
<text x="1219" y="152" font-size="8.5" fill="#3a2410" text-anchor="middle" transform="rotate(-90 1219 152)" textLength="37" lengthAdjust="spacingAndGlyphs" >(50' x 90')</text>
<path d="M1170.9 194.3 H1250 V221.5 A243.5 243.5 0 0 0 1170.9 194.3 Z" fill="#159A48" stroke="#0b5a2a" stroke-width="0.5" />
<text x="1233" y="199.5" font-size="4.2" fill="#10301c" text-anchor="middle" font-weight="bold" >Green Space</text>
<text x="1233" y="205.5" font-size="4.2" fill="#10301c" text-anchor="middle" font-weight="bold" >(1.1 Kanal)</text>
<text x="1262" y="143" font-size="10.5" fill="#2a2a2a" text-anchor="middle" transform="rotate(-90 1262 143)" textLength="42" lengthAdjust="spacingAndGlyphs" >Street 10</text>
<rect x="1267.5" y="101" width="27.5" height="101.5" fill="#F49B1E" stroke="#20140a" stroke-width="0.8" />
<path d="M1267.5 114.3H1295M1267.5 129.5H1295M1267.5 145H1295M1267.5 160H1295M1267.5 175H1295M1267.5 189.3H1295" fill="none" stroke="#20140a" stroke-width="0.8" />
<text x="1288" y="113" font-size="6" fill="#4A2FB0" text-anchor="middle" >19A</text>
<text x="1286.5" y="126.5" font-size="9.2" fill="#4A2FB0" text-anchor="middle" >19</text>
<text x="1286.5" y="141.5" font-size="9.2" fill="#4A2FB0" text-anchor="middle" >20</text>
<text x="1286.5" y="156.5" font-size="9.2" fill="#4A2FB0" text-anchor="middle" >21</text>
<text x="1286.5" y="171" font-size="9.2" fill="#4A2FB0" text-anchor="middle" >22</text>
<text x="1286.5" y="186" font-size="9.2" fill="#4A2FB0" text-anchor="middle" >23</text>
<text x="1286.5" y="199" font-size="9.2" fill="#4A2FB0" text-anchor="middle" >24</text>
<text x="1281" y="106.5" font-size="5" fill="#333" text-anchor="middle" >10 Marla</text>
<text x="1275" y="154" font-size="5.8" fill="#3a2410" text-anchor="middle" transform="rotate(-90 1275 154)" textLength="48" lengthAdjust="spacingAndGlyphs" >10 Marla Category</text>
<text x="1282" y="154" font-size="5.8" fill="#3a2410" text-anchor="middle" transform="rotate(-90 1282 154)" textLength="24" lengthAdjust="spacingAndGlyphs" >(35' x 65')</text>
<polygon points="1267.5,203.3 1292.5,203.3 1271,221.3 1267.5,221.3" fill="#159A48" stroke="#0b5a2a" stroke-width="0.5" />
<text x="1282" y="211" font-size="4.2" fill="#111" text-anchor="middle" font-weight="bold" >0.4 Marla</text>
<polygon points="1295,148.8 1340,148.8 1347,162.5 1295,197.5" fill="#F5A8AE" stroke="#5a3030" stroke-width="0.6" />
<text x="1316" y="158" font-size="5.5" fill="#333" text-anchor="middle" >Mosque</text>
<text x="1316" y="166" font-size="5.5" fill="#333" text-anchor="middle" >(2 Kanal)</text>
<text x="1313" y="177.5" font-size="9.2" fill="#4A2FB0" text-anchor="middle" >31</text>
<polygon points="1340,148.5 1383.5,127.5 1386,134.5 1343.5,155" fill="#A84EA0" stroke="#4a2a6a" stroke-width="0.5" />
<polygon points="1343.5,155 1386,134.5 1388,140.5 1347,162.5" fill="#A9A4DB" stroke="#555" stroke-width="0.5" />
<path d="M1345.4 145.9L1348.9 152.4M1350.9 143.2L1354.4 149.8M1356.3 140.6L1359.8 147.1M1361.8 138L1365.2 144.5M1367.2 135.4L1370.7 141.9M1372.6 132.8L1376.1 139.2M1378.1 130.1L1381.6 136.6" fill="none" stroke="#3a1a5a" stroke-width="0.6" />
<polyline points="1354,141 1362.5,97.5 1417,97.5" fill="none" stroke="#333" stroke-width="0.5" />
<text x="1394.5" y="96" font-size="4.6" fill="#222" text-anchor="middle" font-weight="bold" textLength="41" lengthAdjust="spacingAndGlyphs" >Convenience Shops</text>
<text x="1394.5" y="102.5" font-size="4.2" fill="#222" text-anchor="middle" >(12' x 28')</text>
<text x="1345.5" y="179.5" font-size="10.5" fill="#2a2a2a" text-anchor="middle" transform="rotate(-30 1345.5 179.5)" textLength="42" lengthAdjust="spacingAndGlyphs" >Street 11</text>
<path d="M1429.1 149.8 A141.5 141.5 0 0 0 1551 219.5 H1671.3 V192 H1551 A114 114 0 0 1 1452.8 135.9 Z" fill="#F49B1E" stroke="#2a1a08" stroke-width="0.8" />
<path d="M1461.1 148.1L1439.4 165M1470.9 159.1L1451.6 178.7M1482.1 168.8L1465.5 190.7M1494.4 177L1480.8 200.9M1507.7 183.5L1497.3 208.9M1521.7 188.2L1514.7 214.8M1536.2 191L1532.7 218.3M1551 192L1551 219.5M1567 192V219.5M1582.5 192V219.5M1597.5 192V219.5M1612.5 192V219.5M1627.5 192V219.5M1642 192V219.5M1656.3 192V219.5" fill="none" stroke="#2a1a08" stroke-width="0.8" />
<text x="1443.5" y="153.6" font-size="7.2" fill="#4A2FB0" text-anchor="middle" transform="rotate(55.8 1443.5 153.6)" >15</text>
<text x="1453.9" y="166.9" font-size="7.2" fill="#4A2FB0" text-anchor="middle" transform="rotate(48.3 1453.9 166.9)" >16</text>
<text x="1465.9" y="178.8" font-size="7.2" fill="#4A2FB0" text-anchor="middle" transform="rotate(40.9 1465.9 178.8)" >17</text>
<text x="1479.3" y="188.9" font-size="7.2" fill="#4A2FB0" text-anchor="middle" transform="rotate(33.5 1479.3 188.9)" >18</text>
<text x="1492.2" y="200.9" font-size="5.6" fill="#4A2FB0" text-anchor="middle" transform="rotate(26 1492.2 200.9)" >18A</text>
<text x="1508.3" y="207.5" font-size="5.6" fill="#4A2FB0" text-anchor="middle" transform="rotate(18.6 1508.3 207.5)" >18B</text>
<text x="1525.1" y="212" font-size="5.6" fill="#4A2FB0" text-anchor="middle" transform="rotate(11.2 1525.1 212)" >18C</text>
<text x="1542.3" y="214.2" font-size="5.6" fill="#4A2FB0" text-anchor="middle" transform="rotate(3.7 1542.3 214.2)" >18D</text>
<text x="1559" y="216" font-size="5.2" fill="#4A2FB0" text-anchor="middle" >18E</text>
<text x="1574" y="216" font-size="5.2" fill="#4A2FB0" text-anchor="middle" >18F</text>
<text x="1589" y="216" font-size="5.2" fill="#4A2FB0" text-anchor="middle" >18G</text>
<text x="1604" y="216" font-size="5.2" fill="#4A2FB0" text-anchor="middle" >18H</text>
<text x="1619" y="216" font-size="5.2" fill="#4A2FB0" text-anchor="middle" >18I</text>
<text x="1634" y="216" font-size="5.2" fill="#4A2FB0" text-anchor="middle" >18J</text>
<text x="1649" y="216" font-size="5.2" fill="#4A2FB0" text-anchor="middle" >18K</text>
<text x="1664" y="216" font-size="5.2" fill="#4A2FB0" text-anchor="middle" >18L</text>
<text x="1604.5" y="206" font-size="10.5" fill="#3a2410" text-anchor="middle" textLength="100" lengthAdjust="spacingAndGlyphs" >10 Marla Plots (35' x 65')</text>
<path d="M1364.5 181.4 A213.2 213.2 0 0 0 1551 291.2 H1671.3 V237 H1551 A159 159 0 0 1 1411.9 155.1 Z" fill="#F49B1E" stroke="#2a1a08" stroke-width="0.8" />
<polygon points="1364.5,181.4 1411.9,155.1 1369.8,190.4" fill="#159A48" stroke="#0b5a2a" stroke-width="0.5" />
<path d="M1390.7 172.4 A186 186 0 0 0 1551 264 H1650M1423.3 172.8L1379.8 205.1M1432.3 183.8L1391.8 219.9M1442.1 193.9L1405 233.4M1452.9 203.1L1419.4 245.8M1464.4 211.3L1434.8 256.8M1476.6 218.5L1451.2 266.4M1489.4 224.6L1468.3 274.6M1502.6 229.5L1486.1 281.1M1516.3 233.2L1504.4 286.1M1530.2 235.6L1523.1 289.4M1544.3 236.9L1542 291.1M1559.7 237V291.25M1576.2 237V291.25M1590.8 237V291.25M1605 237V291.25M1620 237V291.25M1635 237V291.25M1650 237V291.25M1650 255H1671.3M1650 273H1671.3" fill="none" stroke="#2a1a08" stroke-width="0.8" />
<text x="1411.8" y="174.9" font-size="7.6" fill="#4A2FB0" text-anchor="middle" transform="rotate(56 1411.8 174.9)" >73</text>
<text x="1382.6" y="194.6" font-size="7.6" fill="#4A2FB0" text-anchor="middle" transform="rotate(56 1382.6 194.6)" >62</text>
<text x="1420.7" y="186.9" font-size="7.6" fill="#4A2FB0" text-anchor="middle" transform="rotate(50.9 1420.7 186.9)" >74</text>
<text x="1393.4" y="209.1" font-size="7.6" fill="#4A2FB0" text-anchor="middle" transform="rotate(50.9 1393.4 209.1)" >61</text>
<text x="1430.7" y="198" font-size="7.6" fill="#4A2FB0" text-anchor="middle" transform="rotate(45.8 1430.7 198)" >75</text>
<text x="1405.4" y="222.6" font-size="7.6" fill="#4A2FB0" text-anchor="middle" transform="rotate(45.8 1405.4 222.6)" >60</text>
<text x="1441.5" y="208.3" font-size="7.6" fill="#4A2FB0" text-anchor="middle" transform="rotate(40.7 1441.5 208.3)" >76</text>
<text x="1418.6" y="235" font-size="7.6" fill="#4A2FB0" text-anchor="middle" transform="rotate(40.7 1418.6 235)" >59</text>
<text x="1453.3" y="217.5" font-size="7.6" fill="#4A2FB0" text-anchor="middle" transform="rotate(35.6 1453.3 217.5)" >77</text>
<text x="1432.8" y="246.2" font-size="7.6" fill="#4A2FB0" text-anchor="middle" transform="rotate(35.6 1432.8 246.2)" >58</text>
<text x="1465.8" y="225.6" font-size="7.6" fill="#4A2FB0" text-anchor="middle" transform="rotate(30.5 1465.8 225.6)" >78</text>
<text x="1448" y="256" font-size="7.6" fill="#4A2FB0" text-anchor="middle" transform="rotate(30.5 1448 256)" >57</text>
<text x="1479" y="232.6" font-size="7.6" fill="#4A2FB0" text-anchor="middle" transform="rotate(25.4 1479 232.6)" >79</text>
<text x="1463.9" y="264.5" font-size="7.6" fill="#4A2FB0" text-anchor="middle" transform="rotate(25.4 1463.9 264.5)" >56</text>
<text x="1492.8" y="238.4" font-size="7.6" fill="#4A2FB0" text-anchor="middle" transform="rotate(20.3 1492.8 238.4)" >80</text>
<text x="1480.6" y="271.5" font-size="7.6" fill="#4A2FB0" text-anchor="middle" transform="rotate(20.3 1480.6 271.5)" >55</text>
<text x="1507.1" y="243" font-size="7.6" fill="#4A2FB0" text-anchor="middle" transform="rotate(15.2 1507.1 243)" >81</text>
<text x="1497.8" y="277" font-size="7.6" fill="#4A2FB0" text-anchor="middle" transform="rotate(15.2 1497.8 277)" >54</text>
<text x="1521.6" y="246.2" font-size="7.6" fill="#4A2FB0" text-anchor="middle" transform="rotate(10.1 1521.6 246.2)" >82</text>
<text x="1515.5" y="280.9" font-size="7.6" fill="#4A2FB0" text-anchor="middle" transform="rotate(10.1 1515.5 280.9)" >53</text>
<text x="1536.5" y="248.2" font-size="7.6" fill="#4A2FB0" text-anchor="middle" transform="rotate(5 1536.5 248.2)" >83</text>
<text x="1533.4" y="283.3" font-size="7.6" fill="#4A2FB0" text-anchor="middle" transform="rotate(5 1533.4 283.3)" >52</text>
<text x="1551.4" y="248.3" font-size="7.6" fill="#4A2FB0" text-anchor="middle" >84</text>
<text x="1551.4" y="286.3" font-size="7.6" fill="#4A2FB0" text-anchor="middle" >51</text>
<text x="1568" y="248.3" font-size="7.6" fill="#4A2FB0" text-anchor="middle" >85</text>
<text x="1568" y="286.3" font-size="7.6" fill="#4A2FB0" text-anchor="middle" >50</text>
<text x="1585" y="246" font-size="5" fill="#4A2FB0" text-anchor="middle" transform="rotate(-90 1585 246)" >85A</text>
<text x="1599.8" y="246" font-size="5" fill="#4A2FB0" text-anchor="middle" transform="rotate(-90 1599.8 246)" >85B</text>
<text x="1614.5" y="246" font-size="5" fill="#4A2FB0" text-anchor="middle" transform="rotate(-90 1614.5 246)" >85C</text>
<text x="1629.2" y="246" font-size="5" fill="#4A2FB0" text-anchor="middle" transform="rotate(-90 1629.2 246)" >85D</text>
<text x="1644" y="246" font-size="5" fill="#4A2FB0" text-anchor="middle" transform="rotate(-90 1644 246)" >85E</text>
<text x="1585" y="283" font-size="5" fill="#4A2FB0" text-anchor="middle" transform="rotate(-90 1585 283)" >50A</text>
<text x="1599.8" y="283" font-size="5" fill="#4A2FB0" text-anchor="middle" transform="rotate(-90 1599.8 283)" >50B</text>
<text x="1614.5" y="283" font-size="5" fill="#4A2FB0" text-anchor="middle" transform="rotate(-90 1614.5 283)" >50C</text>
<text x="1629.2" y="283" font-size="5" fill="#4A2FB0" text-anchor="middle" transform="rotate(-90 1629.2 283)" >50D</text>
<text x="1644" y="283" font-size="5" fill="#4A2FB0" text-anchor="middle" transform="rotate(-90 1644 283)" >50E</text>
<text x="1661" y="249" font-size="5.2" fill="#4A2FB0" text-anchor="middle" >85F</text>
<text x="1664" y="241.5" font-size="3.6" fill="#111" text-anchor="middle" font-weight="bold" >9.0 Marla</text>
<text x="1661" y="267.5" font-size="5.2" fill="#4A2FB0" text-anchor="middle" >85G</text>
<text x="1664" y="260" font-size="3.6" fill="#111" text-anchor="middle" font-weight="bold" >9.0 Marla</text>
<text x="1661" y="286" font-size="5.2" fill="#4A2FB0" text-anchor="middle" >85H</text>
<text x="1664" y="278.5" font-size="3.6" fill="#111" text-anchor="middle" font-weight="bold" >9.0 Marla</text>
<text x="1605" y="262.5" font-size="10.5" fill="#3a2410" text-anchor="middle" textLength="58" lengthAdjust="spacingAndGlyphs" >10 Marla Plots</text>
<text x="1596" y="274.5" font-size="10.5" fill="#3a2410" text-anchor="middle" textLength="40" lengthAdjust="spacingAndGlyphs" >(35' x 65')</text>
<text x="1611" y="232" font-size="10.5" fill="#2a2a2a" text-anchor="middle" textLength="42" lengthAdjust="spacingAndGlyphs" >Street 11</text>
<text x="1611" y="303.8" font-size="10.5" fill="#2a2a2a" text-anchor="middle" textLength="43" lengthAdjust="spacingAndGlyphs" >Street 12</text>
<text x="1476" y="209" font-size="10.5" fill="#2a2a2a" text-anchor="middle" transform="rotate(27 1476 209)" textLength="43" lengthAdjust="spacingAndGlyphs" >Street 11</text>
<text x="1431" y="265" font-size="10.5" fill="#2a2a2a" text-anchor="middle" transform="rotate(28 1431 265)" textLength="43" lengthAdjust="spacingAndGlyphs" >Street 12</text>
<path d="M1427 270.5 L1454 283 Q1455.5 284 1455.5 286 V321 Q1453 324 1450 321 Z" fill="#159A48" stroke="#0b5a2a" stroke-width="0.5" />
<text x="1443" y="299" font-size="4.2" fill="#111" text-anchor="middle" transform="rotate(62 1443 299)" font-weight="bold" >0.8 Kanal</text>
<polygon points="1471.8,292 1527.5,305 1527.5,310 1471.8,310" fill="#159A48" stroke="#0b5a2a" stroke-width="0.5" />
<text x="1492" y="308" font-size="5.5" fill="#10301c" text-anchor="middle" >14 Marla</text>
<rect x="1471.8" y="310" width="55.7" height="103" fill="#F49B1E" stroke="#20140a" stroke-width="0.8" />
<path d="M1498.8 310V413M1471.8 324.7H1527.5M1471.8 339.4H1527.5M1471.8 354.1H1527.5M1471.8 368.8H1527.5M1471.8 383.5H1527.5M1471.8 398.2H1527.5" fill="none" stroke="#20140a" stroke-width="0.8" />
<text x="1474" y="320.5" font-size="8" fill="#4A2FB0" text-anchor="start" >107</text>
<text x="1525.5" y="319" font-size="8" fill="#4A2FB0" text-anchor="end" >106</text>
<text x="1473.5" y="335.2" font-size="6.5" fill="#4A2FB0" text-anchor="start" >107A</text>
<text x="1525.5" y="333.7" font-size="8" fill="#4A2FB0" text-anchor="end" >105</text>
<text x="1473.5" y="349.9" font-size="6.5" fill="#4A2FB0" text-anchor="start" >107B</text>
<text x="1525.5" y="348.4" font-size="8" fill="#4A2FB0" text-anchor="end" >104</text>
<text x="1473.5" y="364.6" font-size="6.5" fill="#4A2FB0" text-anchor="start" >107C</text>
<text x="1525.5" y="363.1" font-size="8" fill="#4A2FB0" text-anchor="end" >103</text>
<text x="1473.5" y="379.3" font-size="6.5" fill="#4A2FB0" text-anchor="start" >107D</text>
<text x="1525.5" y="377.8" font-size="8" fill="#4A2FB0" text-anchor="end" >102</text>
<text x="1473.5" y="394" font-size="6.5" fill="#4A2FB0" text-anchor="start" >107E</text>
<text x="1525.5" y="392.5" font-size="8" fill="#4A2FB0" text-anchor="end" >101</text>
<text x="1473.5" y="408.7" font-size="6.5" fill="#4A2FB0" text-anchor="start" >107F</text>
<text x="1525.5" y="407.2" font-size="8" fill="#4A2FB0" text-anchor="end" >100</text>
<rect x="1543.8" y="308.3" width="56.2" height="104.7" fill="#F49B1E" stroke="#20140a" stroke-width="0.8" />
<path d="M1571.3 308.3V413M1543.8 325H1600M1543.8 339.7H1600M1543.8 354.4H1600M1543.8 369.1H1600M1543.8 383.8H1600M1543.8 398.5H1600" fill="none" stroke="#20140a" stroke-width="0.8" />
<text x="1546" y="318.3" font-size="9" fill="#4A2FB0" text-anchor="start" >93</text>
<text x="1598" y="316.8" font-size="9" fill="#4A2FB0" text-anchor="end" >92</text>
<text x="1546" y="336" font-size="9" fill="#4A2FB0" text-anchor="start" >94</text>
<text x="1598" y="334.5" font-size="9" fill="#4A2FB0" text-anchor="end" >91</text>
<text x="1546" y="350.7" font-size="9" fill="#4A2FB0" text-anchor="start" >95</text>
<text x="1598" y="349.2" font-size="9" fill="#4A2FB0" text-anchor="end" >90</text>
<text x="1546" y="365.4" font-size="9" fill="#4A2FB0" text-anchor="start" >96</text>
<text x="1598" y="363.9" font-size="9" fill="#4A2FB0" text-anchor="end" >89</text>
<text x="1546" y="380.1" font-size="9" fill="#4A2FB0" text-anchor="start" >97</text>
<text x="1598" y="378.6" font-size="9" fill="#4A2FB0" text-anchor="end" >88</text>
<text x="1546" y="394.8" font-size="9" fill="#4A2FB0" text-anchor="start" >98</text>
<text x="1598" y="393.3" font-size="9" fill="#4A2FB0" text-anchor="end" >87</text>
<text x="1546" y="409.5" font-size="9" fill="#4A2FB0" text-anchor="start" >99</text>
<text x="1598" y="408" font-size="9" fill="#4A2FB0" text-anchor="end" >86</text>
<rect x="1616.3" y="308.3" width="55" height="104.7" fill="#F49B1E" stroke="#20140a" stroke-width="0.8" />
<path d="M1643.8 308.3V413M1616.3 325H1671.3M1616.3 339.7H1671.3M1616.3 354.4H1671.3M1616.3 369.1H1671.3M1616.3 383.8H1671.3M1616.3 398.5H1671.3" fill="none" stroke="#20140a" stroke-width="0.8" />
<text x="1618.5" y="318.3" font-size="9" fill="#4A2FB0" text-anchor="start" >70</text>
<text x="1670" y="316.8" font-size="9" fill="#4A2FB0" text-anchor="end" >69</text>
<text x="1618.5" y="336" font-size="9" fill="#4A2FB0" text-anchor="start" >71</text>
<text x="1670" y="334.5" font-size="9" fill="#4A2FB0" text-anchor="end" >68</text>
<text x="1618.5" y="350.7" font-size="9" fill="#4A2FB0" text-anchor="start" >72</text>
<text x="1670" y="349.2" font-size="9" fill="#4A2FB0" text-anchor="end" >67</text>
<text x="1618.5" y="365.4" font-size="7" fill="#4A2FB0" text-anchor="start" >72A</text>
<text x="1670" y="363.9" font-size="9" fill="#4A2FB0" text-anchor="end" >66</text>
<text x="1618.5" y="380.1" font-size="7" fill="#4A2FB0" text-anchor="start" >72B</text>
<text x="1670" y="378.6" font-size="9" fill="#4A2FB0" text-anchor="end" >65</text>
<text x="1618.5" y="394.8" font-size="7" fill="#4A2FB0" text-anchor="start" >72C</text>
<text x="1670" y="393.3" font-size="9" fill="#4A2FB0" text-anchor="end" >64</text>
<text x="1618.5" y="409.5" font-size="7" fill="#4A2FB0" text-anchor="start" >72D</text>
<text x="1670" y="408" font-size="9" fill="#4A2FB0" text-anchor="end" >63</text>
<text x="1547" y="323" font-size="4.6" fill="#111" text-anchor="middle" >11 Marla</text>
<text x="1582" y="323" font-size="4.6" fill="#111" text-anchor="middle" >11 Marla</text>
<text x="1619" y="323" font-size="4.6" fill="#111" text-anchor="middle" >11 Marla</text>
<text x="1655" y="323" font-size="4.6" fill="#111" text-anchor="middle" >11 Marla</text>
<text x="1497" y="372" font-size="8.5" fill="#3a2410" text-anchor="middle" transform="rotate(-90 1497 372)" textLength="62" lengthAdjust="spacingAndGlyphs" >10 Marla Category</text>
<text x="1507.5" y="372" font-size="8.5" fill="#3a2410" text-anchor="middle" transform="rotate(-90 1507.5 372)" textLength="36" lengthAdjust="spacingAndGlyphs" >(35' x 65')</text>
<text x="1569" y="372" font-size="8.5" fill="#3a2410" text-anchor="middle" transform="rotate(-90 1569 372)" textLength="62" lengthAdjust="spacingAndGlyphs" >10 Marla Category</text>
<text x="1579.5" y="372" font-size="8.5" fill="#3a2410" text-anchor="middle" transform="rotate(-90 1579.5 372)" textLength="36" lengthAdjust="spacingAndGlyphs" >(35' x 65')</text>
<text x="1641.5" y="372" font-size="8.5" fill="#3a2410" text-anchor="middle" transform="rotate(-90 1641.5 372)" textLength="62" lengthAdjust="spacingAndGlyphs" >10 Marla Category</text>
<text x="1652" y="372" font-size="8.5" fill="#3a2410" text-anchor="middle" transform="rotate(-90 1652 372)" textLength="36" lengthAdjust="spacingAndGlyphs" >(35' x 65')</text>
<text x="1468.5" y="355" font-size="10.5" fill="#2a2a2a" text-anchor="middle" transform="rotate(-90 1468.5 355)" textLength="42" lengthAdjust="spacingAndGlyphs" >Street 13</text>
<text x="1541" y="355" font-size="10.5" fill="#2a2a2a" text-anchor="middle" transform="rotate(-90 1541 355)" textLength="42" lengthAdjust="spacingAndGlyphs" >Street 14</text>
<text x="1613.5" y="355" font-size="10.5" fill="#2a2a2a" text-anchor="middle" transform="rotate(-90 1613.5 355)" textLength="42" lengthAdjust="spacingAndGlyphs" >Street 15</text>
<text x="1684.5" y="353" font-size="10.5" fill="#2a2a2a" text-anchor="middle" transform="rotate(-90 1684.5 353)" textLength="42" lengthAdjust="spacingAndGlyphs" >Street 16</text>
<text x="1684.5" y="187" font-size="10.5" fill="#2a2a2a" text-anchor="middle" transform="rotate(-90 1684.5 187)" textLength="42" lengthAdjust="spacingAndGlyphs" >Street 16</text>
<rect x="1688.8" y="140" width="27" height="6.3" fill="#159A48" stroke="#0b5a2a" stroke-width="0.4" />
<text x="1702" y="145" font-size="4" fill="#111" text-anchor="middle" font-weight="bold" >9.5 Marla</text>
<rect x="1688.8" y="146.3" width="27" height="266.7" fill="#F49B1E" stroke="#20140a" stroke-width="0.8" />
<path d="M1688.8 161.1H1715.8M1688.8 175.9H1715.8M1688.8 190.8H1715.8M1688.8 205.6H1715.8M1688.8 220.4H1715.8M1688.8 235.2H1715.8M1688.8 250H1715.8M1688.8 264.9H1715.8M1688.8 279.7H1715.8M1688.8 294.5H1715.8M1688.8 309.3H1715.8M1688.8 324.1H1715.8M1688.8 339H1715.8M1688.8 353.8H1715.8M1688.8 368.6H1715.8M1688.8 383.4H1715.8M1688.8 398.2H1715.8" fill="none" stroke="#20140a" stroke-width="0.8" />
<text x="1690" y="157.6" font-size="9" fill="#4A2FB0" text-anchor="start" >49</text>
<text x="1690" y="172.4" font-size="9" fill="#4A2FB0" text-anchor="start" >48</text>
<text x="1690" y="187.2" font-size="9" fill="#4A2FB0" text-anchor="start" >47</text>
<text x="1690" y="202.1" font-size="9" fill="#4A2FB0" text-anchor="start" >46</text>
<text x="1690" y="216.9" font-size="9" fill="#4A2FB0" text-anchor="start" >45</text>
<text x="1690" y="231.7" font-size="9" fill="#4A2FB0" text-anchor="start" >44</text>
<text x="1690" y="246.5" font-size="9" fill="#4A2FB0" text-anchor="start" >43</text>
<text x="1690" y="261.3" font-size="9" fill="#4A2FB0" text-anchor="start" >42</text>
<text x="1690" y="276.2" font-size="9" fill="#4A2FB0" text-anchor="start" >41</text>
<text x="1690" y="291" font-size="9" fill="#4A2FB0" text-anchor="start" >40</text>
<text x="1690" y="305.8" font-size="9" fill="#4A2FB0" text-anchor="start" >39</text>
<text x="1690" y="320.6" font-size="9" fill="#4A2FB0" text-anchor="start" >38</text>
<text x="1690" y="335.4" font-size="9" fill="#4A2FB0" text-anchor="start" >37</text>
<text x="1690" y="350.3" font-size="9" fill="#4A2FB0" text-anchor="start" >36</text>
<text x="1690" y="365.1" font-size="9" fill="#4A2FB0" text-anchor="start" >35</text>
<text x="1690" y="379.9" font-size="9" fill="#4A2FB0" text-anchor="start" >34</text>
<text x="1690" y="394.7" font-size="9" fill="#4A2FB0" text-anchor="start" >33</text>
<text x="1690" y="409.5" font-size="9" fill="#4A2FB0" text-anchor="start" >32</text>
<text x="1712.5" y="373" font-size="8.5" fill="#3a2410" text-anchor="middle" transform="rotate(-90 1712.5 373)" textLength="76" lengthAdjust="spacingAndGlyphs" >10 Marla Category</text>
<text x="1712.5" y="273" font-size="8.5" fill="#3a2410" text-anchor="middle" transform="rotate(-90 1712.5 273)" textLength="42" lengthAdjust="spacingAndGlyphs" >(35' x 65')</text>
<polygon points="1715.8,140 1721.3,140 1722.5,413 1715.8,413" fill="#159A48" stroke="#0b5a2a" stroke-width="0.4" />
<path d="M1336.8 187.8 A320.5 320.5 0 0 1 1452.3 413 H1375 A243.5 243.5 0 0 0 1277.5 239.1 Z" fill="#BF7228" stroke="#2a1a08" stroke-width="0.8" />
<path d="M1410.8 395.6 A281 281 0 0 1 1412.6 412.6 L1375.2 415.5 A243.5 243.5 0 0 0 1373.6 400.9 Z" fill="#159A48" stroke="#0b5a2a" stroke-width="0.5" />
<path d="M1305.8 213.6 A281 281 0 0 1 1412.7 413M1293.1 251.7L1317.8 223.5M1308.8 266.8L1336 241M1322.9 283L1352.3 259.6M1335.7 300.5L1367 279.9M1346.6 318.7L1379.6 300.9M1356.2 338.6L1390.7 323.8M1364.1 359.5L1399.7 347.9M1369.8 380L1406.3 371.5M1373.6 400.9L1410.8 395.6M1324.7 229.7L1351.7 200.9M1340 245.3L1369.2 218.6M1353.6 261.4L1384.7 237M1365.7 278L1398.5 256M1376.5 295.3L1410.8 275.7M1385.9 313.3L1421.5 296.3M1394.6 333.4L1431.4 319.1M1401.6 354L1439.5 342.7M1406.6 373L1445.2 364.3M1410 390.3L1449 384.1M1412.1 406.8L1451.4 402.9" fill="none" stroke="#2a1a08" stroke-width="0.8" />
<text x="1290" y="240.7" font-size="9.2" fill="#4A2FB0" text-anchor="middle" transform="rotate(38.6 1290 240.7)" >25</text>
<text x="1306.2" y="257.5" font-size="9.2" fill="#4A2FB0" text-anchor="middle" transform="rotate(43.9 1306.2 257.5)" >26</text>
<text x="1321.2" y="273.2" font-size="9.2" fill="#4A2FB0" text-anchor="middle" transform="rotate(48.9 1321.2 273.2)" >27</text>
<text x="1335" y="290.7" font-size="9.2" fill="#4A2FB0" text-anchor="middle" transform="rotate(54 1335 290.7)" >28</text>
<text x="1347" y="309.5" font-size="9.2" fill="#4A2FB0" text-anchor="middle" transform="rotate(59.1 1347 309.5)" >29</text>
<text x="1357.5" y="328.2" font-size="9.2" fill="#4A2FB0" text-anchor="middle" transform="rotate(64 1357.5 328.2)" >30</text>
<text x="1366.2" y="349.8" font-size="6.6" fill="#4A2FB0" text-anchor="middle" transform="rotate(69.5 1366.2 349.8)" >30A</text>
<text x="1374.2" y="369.8" font-size="6.6" fill="#4A2FB0" text-anchor="middle" transform="rotate(74.5 1374.2 369.8)" >30B</text>
<text x="1380.2" y="391.1" font-size="6.6" fill="#4A2FB0" text-anchor="middle" transform="rotate(79.5 1380.2 391.1)" >30C</text>
<text x="1332.5" y="206.6" font-size="8" fill="#4A2FB0" text-anchor="middle" transform="rotate(40.9 1332.5 206.6)" >1</text>
<text x="1353.8" y="219.1" font-size="8" fill="#4A2FB0" text-anchor="middle" transform="rotate(45.4 1353.8 219.1)" >2</text>
<text x="1370" y="236.6" font-size="8" fill="#4A2FB0" text-anchor="middle" transform="rotate(49.8 1370 236.6)" >3</text>
<text x="1383.8" y="255.3" font-size="8" fill="#4A2FB0" text-anchor="middle" transform="rotate(54 1383.8 255.3)" >3A</text>
<text x="1396.2" y="274.1" font-size="8" fill="#4A2FB0" text-anchor="middle" transform="rotate(58.2 1396.2 274.1)" >3B</text>
<text x="1408.8" y="292.8" font-size="8" fill="#4A2FB0" text-anchor="middle" transform="rotate(62.3 1408.8 292.8)" >3C</text>
<text x="1420" y="312.8" font-size="8" fill="#4A2FB0" text-anchor="middle" transform="rotate(66.5 1420 312.8)" >3D</text>
<text x="1428" y="336.8" font-size="8" fill="#4A2FB0" text-anchor="middle" transform="rotate(71.2 1428 336.8)" >3E</text>
<text x="1433.3" y="359" font-size="8" fill="#4A2FB0" text-anchor="middle" transform="rotate(75.4 1433.3 359)" >12</text>
<text x="1439.7" y="379.2" font-size="8" fill="#4A2FB0" text-anchor="middle" transform="rotate(79.2 1439.7 379.2)" >13</text>
<text x="1444.6" y="396.9" font-size="8" fill="#4A2FB0" text-anchor="middle" transform="rotate(82.6 1444.6 396.9)" >14</text>
<text x="1397" y="404" font-size="4.4" fill="#10301c" text-anchor="middle" >0.8 Kanal</text>
<text x="1433" y="407" font-size="4.4" fill="#222" text-anchor="middle" >1.1 Kanal</text>
<text x="1367" y="300" font-size="8.5" fill="#2a1a08" text-anchor="middle" transform="rotate(58 1367 300)" textLength="50" lengthAdjust="spacingAndGlyphs" >1 Kanal Plots</text>
<text x="1357" y="304" font-size="8.5" fill="#2a1a08" text-anchor="middle" transform="rotate(58 1357 304)" textLength="38" lengthAdjust="spacingAndGlyphs" >(50' x 90')</text>
<text x="1308" y="240" font-size="4.4" fill="#222" text-anchor="middle" transform="rotate(-38 1308 240)" >1 Kanal</text>
<text x="1338" y="213" font-size="4.4" fill="#222" text-anchor="middle" transform="rotate(-38 1338 213)" >1.1 Kanal</text>
<path d="M1174 109.5 H1247.5 V99.5 H1336.5 V110.5 H1497 V141 H1722 L1724 414 H1374 A242.5 242.5 0 0 0 1170.8 195.3 L1174 194.3 Z" fill="none" stroke="#E8242C" stroke-width="3" stroke-dasharray="19 4.5"/>
<line x1="1470.7" y1="80" x2="1470.7" y2="110" stroke="#E8242C" stroke-width="3" stroke-dasharray="14 5"/>
<path d="M1375 456.3 H1726.3 V534.3 H1354.7 A243.5 243.5 0 0 0 1375 456.3 Z" fill="#DDB1D6" stroke="#5a3a55" stroke-width="0.6" />
<path d="M1417.5 456.3V534.3M1470 456.3V534.3M1522 456.3V534.3M1574.3 456.3V534.3M1626.8 456.3V534.3M1678 456.3V534.3" fill="none" stroke="#3a2a3a" stroke-width="0.9" />
<path d="M1375 456.3 H1726.3 V534.3 H1354.7 A243.5 243.5 0 0 0 1375 456.3 Z" fill="none" stroke="#E8242C" stroke-width="3" stroke-dasharray="19 4.5"/>
<text x="1393.3" y="474.5" font-size="10.5" fill="#2a2a2a" text-anchor="middle" >4.9</text>
<text x="1393.3" y="486.3" font-size="10.5" fill="#2a2a2a" text-anchor="middle" textLength="25" lengthAdjust="spacingAndGlyphs" >Kanal</text>
<text x="1443" y="474.5" font-size="10.5" fill="#2a2a2a" text-anchor="middle" textLength="36" lengthAdjust="spacingAndGlyphs" >5 Kanal</text>
<text x="1495" y="474.5" font-size="10.5" fill="#2a2a2a" text-anchor="middle" textLength="36" lengthAdjust="spacingAndGlyphs" >5 Kanal</text>
<text x="1547.5" y="474.5" font-size="10.5" fill="#2a2a2a" text-anchor="middle" textLength="36" lengthAdjust="spacingAndGlyphs" >5 Kanal</text>
<text x="1600" y="474.5" font-size="10.5" fill="#2a2a2a" text-anchor="middle" textLength="36" lengthAdjust="spacingAndGlyphs" >5 Kanal</text>
<text x="1652.5" y="474.5" font-size="10.5" fill="#2a2a2a" text-anchor="middle" textLength="36" lengthAdjust="spacingAndGlyphs" >5 Kanal</text>
<text x="1682" y="474.5" font-size="10.5" fill="#2a2a2a" text-anchor="start" textLength="41" lengthAdjust="spacingAndGlyphs" clip-path="url(#clipA)">4.6 Kanal</text>
<text x="1543" y="488.8" font-size="13" fill="#2a2a2a" text-anchor="middle" textLength="92" lengthAdjust="spacingAndGlyphs" >5 Kanal Category</text>
<text x="1543" y="504.5" font-size="13" fill="#2a2a2a" text-anchor="middle" textLength="91" lengthAdjust="spacingAndGlyphs" >(Condominiums)</text>
<text x="1389.5" y="522.5" font-size="11.5" fill="#3838B0" text-anchor="middle" >1</text>
<text x="1442" y="522.5" font-size="11.5" fill="#3838B0" text-anchor="middle" >2</text>
<text x="1494.5" y="522.5" font-size="11.5" fill="#3838B0" text-anchor="middle" >3</text>
<text x="1547" y="522.5" font-size="11.5" fill="#3838B0" text-anchor="middle" >4</text>
<text x="1599.3" y="522.5" font-size="11.5" fill="#3838B0" text-anchor="middle" >5</text>
<text x="1648.3" y="522.5" font-size="11.5" fill="#3838B0" text-anchor="middle" >6</text>
<text x="1703.3" y="522.5" font-size="11.5" fill="#3838B0" text-anchor="middle" >7</text>
<text x="1560" y="438.5" font-size="14.5" fill="#2a2a2a" text-anchor="middle" textLength="126" lengthAdjust="spacingAndGlyphs" >100 feet wide Road</text>
<text x="1590" y="547" font-size="10.5" fill="#2a2a2a" text-anchor="middle" textLength="44" lengthAdjust="spacingAndGlyphs" >Street 17</text>
<polyline points="1708,77 1755,77 1755,494 1727.5,494" fill="none" stroke="#E8242C" stroke-width="3" stroke-dasharray="17 6"/>
<line x1="1727" y1="413" x2="1727" y2="551" stroke="#C33" stroke-width="0.8" />
<polyline points="1410,416 1410,419 1452,419 1452,416" fill="none" stroke="#777" stroke-width="0.6" />
<g clip-path="url(#clipRing)">
<path d="M1239.8 653.9 A141 141 0 0 1 1447.1 843.8 L1404.6 810.6 A87 87 0 0 0 1276.7 693.4 Z" fill="#F49B1E" stroke="#2a1a08" stroke-width="0.8" />
<path d="M1258.3 673.6 A114 114 0 0 1 1425.8 827.2M1272.1 662.6L1256.9 640.2M1284.8 655.2L1272.6 631M1298.3 649.4L1289.4 623.9M1312.2 645.5L1306.6 619.1M1326.8 643.4L1324.6 616.5M1341.5 643.1L1342.8 616.2M1356.2 644.8L1361 618.2M1371 648.5L1379.3 622.8M1384.9 654L1396.5 629.6M1398.1 661.4L1412.8 638.7M1410.2 670.4L1427.8 649.9M1420.2 680.1L1440.1 661.9M1429.5 691.8L1451.6 676.3M1437.5 705.2L1461.6 692.9M1443.6 719.2L1469 710.3M1447.5 733.3L1473.9 727.7M1449.6 747.7L1476.5 745.4M1449.8 763L1476.8 764.4M1448.1 777.9L1474.6 782.8M1444.6 791.7L1470.3 799.9M1438.4 807.2L1462.6 819M1293.5 681.1L1280.3 657.5M1307 675L1297.9 649.5M1321.9 671.2L1317.5 644.5M1336.7 670L1336.9 643M1351.6 671.4L1356.4 644.8M1365.7 675.2L1374.9 649.8M1379 681.4L1392.3 657.9M1391.3 689.9L1408.5 669M1402.5 700.9L1423.1 683.5M1411.4 713.6L1434.8 700.1M1417.7 727.1L1443.1 717.8M1421.6 741.7L1448.2 736.9M1423 756.8L1450 756.7M1421.7 772.1L1448.3 776.8M1417.8 786.7L1443.2 795.9M1412.3 798.7L1436 811.7" fill="none" stroke="#2a1a08" stroke-width="0.8" />
<text x="1258" y="659.1" font-size="8.2" fill="#4A2FB0" text-anchor="middle" transform="rotate(-37.7 1258 659.1)" >39</text>
<text x="1271.3" y="650.1" font-size="8.2" fill="#4A2FB0" text-anchor="middle" transform="rotate(-30.5 1271.3 650.1)" >40</text>
<text x="1286.4" y="642.5" font-size="8.2" fill="#4A2FB0" text-anchor="middle" transform="rotate(-22.9 1286.4 642.5)" >41</text>
<text x="1301.5" y="637.3" font-size="8.2" fill="#4A2FB0" text-anchor="middle" transform="rotate(-15.7 1301.5 637.3)" >42</text>
<text x="1317.4" y="633.9" font-size="8.2" fill="#4A2FB0" text-anchor="middle" transform="rotate(-8.4 1317.4 633.9)" >43</text>
<text x="1334" y="632.5" font-size="8.2" fill="#4A2FB0" text-anchor="middle" transform="rotate(-0.9 1334 632.5)" >44</text>
<text x="1350.2" y="633.3" font-size="8.2" fill="#4A2FB0" text-anchor="middle" transform="rotate(6.4 1350.2 633.3)" >45</text>
<text x="1366.8" y="636.3" font-size="8.2" fill="#4A2FB0" text-anchor="middle" transform="rotate(14 1366.8 636.3)" >46</text>
<text x="1383.3" y="641.6" font-size="8.2" fill="#4A2FB0" text-anchor="middle" transform="rotate(21.8 1383.3 641.6)" >47</text>
<text x="1397.8" y="648.5" font-size="8.2" fill="#4A2FB0" text-anchor="middle" transform="rotate(29 1397.8 648.5)" >48</text>
<text x="1412.7" y="658.2" font-size="8.2" fill="#4A2FB0" text-anchor="middle" transform="rotate(37 1412.7 658.2)" >49</text>
<text x="1424.9" y="668.6" font-size="8.2" fill="#4A2FB0" text-anchor="middle" transform="rotate(44.2 1424.9 668.6)" >50</text>
<text x="1435.1" y="679.8" font-size="8.2" fill="#4A2FB0" text-anchor="middle" transform="rotate(51 1435.1 679.8)" >51</text>
<text x="1445.5" y="694.7" font-size="8.2" fill="#4A2FB0" text-anchor="middle" transform="rotate(59.2 1445.5 694.7)" >52</text>
<text x="1453.1" y="709.6" font-size="8.2" fill="#4A2FB0" text-anchor="middle" transform="rotate(66.7 1453.1 709.6)" >53</text>
<text x="1458.9" y="726.1" font-size="8.2" fill="#4A2FB0" text-anchor="middle" transform="rotate(74.6 1458.9 726.1)" >54</text>
<text x="1462.1" y="740.9" font-size="8.2" fill="#4A2FB0" text-anchor="middle" transform="rotate(81.4 1462.1 740.9)" >55</text>
<text x="1463.5" y="758.2" font-size="8.2" fill="#4A2FB0" text-anchor="middle" transform="rotate(89.2 1463.5 758.2)" >56</text>
<text x="1462.6" y="775.1" font-size="8.2" fill="#4A2FB0" text-anchor="middle" transform="rotate(96.8 1462.6 775.1)" >57</text>
<text x="1459.5" y="791.5" font-size="8.2" fill="#4A2FB0" text-anchor="middle" transform="rotate(104.3 1459.5 791.5)" >58</text>
<text x="1455" y="805.9" font-size="8.2" fill="#4A2FB0" text-anchor="middle" transform="rotate(111.1 1455 805.9)" >59</text>
<text x="1445.2" y="825.9" font-size="8.2" fill="#4A2FB0" text-anchor="middle" transform="rotate(121.1 1445.2 825.9)" >60</text>
<text x="1280.2" y="676.4" font-size="8.2" fill="#4A2FB0" text-anchor="middle" transform="rotate(-33.7 1280.2 676.4)" >78</text>
<text x="1293.8" y="668.8" font-size="8.2" fill="#4A2FB0" text-anchor="middle" transform="rotate(-24.8 1293.8 668.8)" >77</text>
<text x="1311.3" y="662.6" font-size="8.2" fill="#4A2FB0" text-anchor="middle" transform="rotate(-14.2 1311.3 662.6)" >76</text>
<text x="1328.1" y="659.8" font-size="8.2" fill="#4A2FB0" text-anchor="middle" transform="rotate(-4.5 1328.1 659.8)" >75</text>
<text x="1345.5" y="659.9" font-size="8.2" fill="#4A2FB0" text-anchor="middle" transform="rotate(5.4 1345.5 659.9)" >74</text>
<text x="1362.4" y="663" font-size="8.2" fill="#4A2FB0" text-anchor="middle" transform="rotate(15.2 1362.4 663)" >73</text>
<text x="1378" y="668.7" font-size="8.2" fill="#4A2FB0" text-anchor="middle" transform="rotate(24.7 1378 668.7)" >72</text>
<text x="1392.9" y="677.2" font-size="8.2" fill="#4A2FB0" text-anchor="middle" transform="rotate(34.5 1392.9 677.2)" >71</text>
<text x="1406.4" y="688.3" font-size="8.2" fill="#4A2FB0" text-anchor="middle" transform="rotate(44.5 1406.4 688.3)" >70</text>
<text x="1418.5" y="702.6" font-size="8.2" fill="#4A2FB0" text-anchor="middle" transform="rotate(55.2 1418.5 702.6)" >69</text>
<text x="1427" y="717.4" font-size="8.2" fill="#4A2FB0" text-anchor="middle" >68</text>
<text x="1433" y="733.8" font-size="8.2" fill="#4A2FB0" text-anchor="middle" >67</text>
<text x="1436.1" y="750.9" font-size="8.2" fill="#4A2FB0" text-anchor="middle" >66</text>
<text x="1436.1" y="768.6" font-size="8.2" fill="#4A2FB0" text-anchor="middle" >65</text>
<text x="1433" y="786.2" font-size="8.2" fill="#4A2FB0" text-anchor="middle" >64</text>
<text x="1427.2" y="802.2" font-size="8.2" fill="#4A2FB0" text-anchor="middle" >63</text>
<text x="1420.8" y="814" font-size="8.2" fill="#4A2FB0" text-anchor="middle" >62</text>
</g>
<text x="1427" y="686" font-size="8.5" fill="#3a2410" text-anchor="middle" transform="rotate(52 1427 686)" textLength="52" lengthAdjust="spacingAndGlyphs" >10 Marla Plots</text>
<text x="1418.5" y="692.5" font-size="8.5" fill="#3a2410" text-anchor="middle" transform="rotate(52 1418.5 692.5)" textLength="38" lengthAdjust="spacingAndGlyphs" >(35' x 65')</text>
<path d="M1075 713.8 L1113.8 680 A246 246 0 0 0 1210.6 668 Q1192 700 1167.5 725 L1122.5 767.5 Z" fill="#F6EE7C" stroke="#6b6b2a" stroke-width="0.7" />
<path d="M1079 715.5 L1114 685 M1119 763 L1165 721 Q1188 699 1203 672" fill="none" stroke="#8a8a3a" stroke-width="0.5" />
<text x="1125" y="709.5" font-size="8.2" fill="#3a3a10" text-anchor="middle" transform="rotate(-40 1125 709.5)" textLength="52" lengthAdjust="spacingAndGlyphs" >Grand Mosque</text>
<text x="1133.5" y="717.5" font-size="8.2" fill="#3a3a10" text-anchor="middle" transform="rotate(-40 1133.5 717.5)" textLength="32" lengthAdjust="spacingAndGlyphs" >(9 Kanal)</text>
<text x="1148.8" y="727" font-size="12.5" fill="#2E3FC0" text-anchor="middle" transform="rotate(-30 1148.8 727)" >15A</text>
<polygon points="1036.3,735 1075,713.8 1117.5,768.8 1067.5,801.3" fill="#80CCA5" stroke="#3a6a55" stroke-width="0.7" />
<polygon points="1039.5,737 1074.5,717.5 1113.5,768 1069,797.5" fill="none" stroke="#4a8a6a" stroke-width="0.5" />
<text x="1068.8" y="745.5" font-size="6.6" fill="#1a4a35" text-anchor="middle" transform="rotate(-32 1068.8 745.5)" textLength="35" lengthAdjust="spacingAndGlyphs" >Command &amp;</text>
<text x="1072.5" y="754" font-size="6.6" fill="#1a4a35" text-anchor="middle" transform="rotate(-32 1072.5 754)" textLength="42" lengthAdjust="spacingAndGlyphs" >Control Center</text>
<text x="1077.5" y="762" font-size="6.2" fill="#1a4a35" text-anchor="middle" transform="rotate(-32 1077.5 762)" textLength="26" lengthAdjust="spacingAndGlyphs" >(5 Kanal)</text>
<text x="1082" y="781.5" font-size="12.5" fill="#2B78E4" text-anchor="middle" transform="rotate(-15 1082 781.5)" >15</text>
<polygon points="968.8,757.5 1033.8,735 1067.5,802.5 967.5,831.3" fill="#EE6A62" stroke="none" stroke-width="1" />
<polygon points="972.5,760.5 1031.8,739.5 1062.5,800.5 971.3,827" fill="#2A3270" stroke="none" stroke-width="1" />
<path d="M990 755L1005 820M1013.8 746.5L1035 810" fill="none" stroke="#E8D44A" stroke-width="0.8" stroke-dasharray="3 2"/>
<text x="987.5" y="802" font-size="17" fill="#fff" text-anchor="middle" font-weight="bold" >12</text>
<text x="987" y="816" font-size="11" fill="#3a4488" text-anchor="middle" >12</text>
<text x="1022.5" y="776.5" font-size="8" fill="#fff" text-anchor="middle" transform="rotate(-18 1022.5 776.5)" font-weight="bold" textLength="36" lengthAdjust="spacingAndGlyphs" >Available</text>
<text x="1025.5" y="786.5" font-size="8" fill="#fff" text-anchor="middle" transform="rotate(-18 1025.5 786.5)" font-weight="bold" textLength="21" lengthAdjust="spacingAndGlyphs" >Plots</text>
<polygon points="966.3,847.3 971,846 971.5,902 966.3,902.3" fill="#159A48" stroke="#0b5a2a" stroke-width="0.4" />
<polygon points="969.8,846.8 976.8,845.6 983.8,844.2 990.8,842.8 997.8,841.2 1004.7,839.6 1011.6,837.8 1018.5,835.9 1025.3,833.9 1032.1,831.7 1038.9,829.5 1045.7,827.1 1052.4,824.6 1059,822 1065.6,819.3 1072.2,816.5 1078.7,813.6 1085.1,810.5 1091.5,807.4 1097.9,804.1 1104.2,800.8 1110.4,797.3 1116.6,793.8 1122.7,790.1 1128.8,786.3 1160,826.3 1152.7,830.6 1145.2,834.9 1137.8,839 1130.3,843.1 1122.7,847 1115.1,850.8 1107.4,854.6 1099.6,858.2 1091.9,861.7 1084,865.1 1076.2,868.4 1068.3,871.6 1060.3,874.7 1052.3,877.7 1044.3,880.6 1036.2,883.3 1028.1,886 1019.9,888.5 1011.8,890.9 1003.5,893.3 995.3,895.5 987,897.6 978.7,899.6 970.4,901.4" fill="#F49B1E" stroke="#2a1a08" stroke-width="0.8" />
<path d="M981.8 844.6L984.6 898.1M993.8 842.1L998.8 894.5M1005.7 839.3L1012.9 890.6M1017.5 836.2L1026.9 886.3M1029.2 832.6L1040.8 881.8M1040.9 828.8L1054.6 876.8M1052.4 824.6L1068.3 871.6M1063.7 820.1L1081.8 866.1M1075 815.3L1095.2 860.2M1086.1 810.1L1108.5 854M1097 804.6L1121.6 847.5M1107.8 798.8L1134.6 840.8M1118.4 792.7L1147.4 833.7M970.1 874.1 L977.8 872.6 L985.4 870.9 L993 869.1 L1000.7 867.3 L1008.2 865.3 L1015.8 863.1 L1023.3 860.9 L1030.8 858.6 L1038.2 856.1 L1045.6 853.6 L1053 850.9 L1060.3 848.1 L1067.6 845.2 L1074.8 842.2 L1082 839.1 L1089.2 835.9 L1096.3 832.5 L1103.3 829.1 L1110.3 825.6 L1117.2 821.9 L1124.1 818.2 L1130.9 814.3 L1137.7 810.4 L1144.4 806.3" fill="none" stroke="#2a1a08" stroke-width="0.8" />
<text x="976.2" y="859.7" font-size="6" fill="#4A2FB0" text-anchor="middle" transform="rotate(-1.8 976.2 859.7)" >101</text>
<text x="988.7" y="857.2" font-size="6" fill="#4A2FB0" text-anchor="middle" transform="rotate(-4.3 988.7 857.2)" >100</text>
<text x="1001.1" y="854.3" font-size="6" fill="#4A2FB0" text-anchor="middle" transform="rotate(-6.8 1001.1 854.3)" >99</text>
<text x="1013.4" y="851" font-size="6" fill="#4A2FB0" text-anchor="middle" transform="rotate(-9.3 1013.4 851)" >98</text>
<text x="1025.7" y="847.5" font-size="6" fill="#4A2FB0" text-anchor="middle" transform="rotate(-11.9 1025.7 847.5)" >97</text>
<text x="1037.8" y="843.5" font-size="6" fill="#4A2FB0" text-anchor="middle" transform="rotate(-14.6 1037.8 843.5)" >96</text>
<text x="1049.9" y="839.3" font-size="6" fill="#4A2FB0" text-anchor="middle" transform="rotate(-17.3 1049.9 839.3)" >95</text>
<text x="1061.8" y="834.7" font-size="6" fill="#4A2FB0" text-anchor="middle" transform="rotate(-20.1 1061.8 834.7)" >94</text>
<text x="1073.6" y="829.8" font-size="6" fill="#4A2FB0" text-anchor="middle" transform="rotate(-22.9 1073.6 829.8)" >93</text>
<text x="1085.2" y="824.6" font-size="6" fill="#4A2FB0" text-anchor="middle" transform="rotate(-25.6 1085.2 824.6)" >92</text>
<text x="1096.7" y="819.1" font-size="6" fill="#4A2FB0" text-anchor="middle" transform="rotate(-28.4 1096.7 819.1)" >91</text>
<text x="1108.1" y="813.2" font-size="6" fill="#4A2FB0" text-anchor="middle" transform="rotate(-31.2 1108.1 813.2)" >90</text>
<text x="1119.2" y="807" font-size="6" fill="#4A2FB0" text-anchor="middle" transform="rotate(-33.9 1119.2 807)" >89</text>
<text x="977.1" y="890" font-size="6" fill="#4A2FB0" text-anchor="middle" transform="rotate(-1.8 977.1 890)" >123</text>
<text x="990.9" y="886.8" font-size="6" fill="#4A2FB0" text-anchor="middle" transform="rotate(-4.3 990.9 886.8)" >121</text>
<text x="1004.5" y="883.3" font-size="6" fill="#4A2FB0" text-anchor="middle" transform="rotate(-6.8 1004.5 883.3)" >122</text>
<text x="1018.1" y="879.5" font-size="6" fill="#4A2FB0" text-anchor="middle" transform="rotate(-9.3 1018.1 879.5)" >123</text>
<text x="1031.6" y="875.3" font-size="6" fill="#4A2FB0" text-anchor="middle" transform="rotate(-11.9 1031.6 875.3)" >124</text>
<text x="1044.9" y="870.7" font-size="6" fill="#4A2FB0" text-anchor="middle" transform="rotate(-14.6 1044.9 870.7)" >125</text>
<text x="1058.2" y="865.9" font-size="6" fill="#4A2FB0" text-anchor="middle" transform="rotate(-17.3 1058.2 865.9)" >126</text>
<text x="1071.3" y="860.7" font-size="6" fill="#4A2FB0" text-anchor="middle" transform="rotate(-20.1 1071.3 860.7)" >127</text>
<text x="1084.3" y="855.3" font-size="6" fill="#4A2FB0" text-anchor="middle" transform="rotate(-22.9 1084.3 855.3)" >128</text>
<text x="1097.2" y="849.5" font-size="6" fill="#4A2FB0" text-anchor="middle" transform="rotate(-25.6 1097.2 849.5)" >129</text>
<text x="1109.9" y="843.4" font-size="6" fill="#4A2FB0" text-anchor="middle" transform="rotate(-28.4 1109.9 843.4)" >130</text>
<text x="1122.4" y="837" font-size="6" fill="#4A2FB0" text-anchor="middle" transform="rotate(-31.2 1122.4 837)" >131</text>
<text x="1134.8" y="830.2" font-size="6" fill="#4A2FB0" text-anchor="middle" transform="rotate(-33.9 1134.8 830.2)" >132</text>
<text x="1051" y="853" font-size="9.5" fill="#3a2410" text-anchor="middle" transform="rotate(-19 1051 853)" textLength="58" lengthAdjust="spacingAndGlyphs" >10 Marla Plots</text>
<text x="1050" y="866" font-size="9.5" fill="#3a2410" text-anchor="middle" transform="rotate(-19 1050 866)" textLength="40" lengthAdjust="spacingAndGlyphs" >(35' x 65')</text>
<polygon points="963.8,920.5 970,919 974,974 963.8,975.5" fill="#159A48" stroke="#0b5a2a" stroke-width="0.4" />
<polygon points="969.4,920.1 978.6,919.4 987.8,918.4 996.9,917.2 1006,915.8 1015,914.1 1024,912.2 1033,910.2 1041.8,907.8 1050.7,905.3 1059.5,902.5 1068.2,899.6 1076.8,896.4 1085.3,893 1093.8,889.4 1102.2,885.6 1110.4,881.5 1118.6,877.3 1126.7,872.9 1134.6,868.3 1142.4,863.5 1150.1,858.4 1157.7,853.2 1165.2,847.9 1172.5,842.3 1203.8,884.8 1195.2,891 1186.5,896.9 1177.7,902.7 1168.7,908.3 1159.6,913.6 1150.4,918.8 1141.1,923.8 1131.7,928.5 1122.2,933.1 1112.6,937.4 1102.9,941.5 1093.1,945.5 1083.2,949.1 1073.2,952.6 1063.2,955.9 1053,958.9 1042.9,961.7 1032.6,964.3 1022.3,966.6 1012,968.7 1001.6,970.6 991.2,972.3 980.7,973.7 970.3,974.9" fill="#F49B1E" stroke="#2a1a08" stroke-width="0.8" />
<path d="M982.4 919L985.1 973.1M995.3 917.4L999.8 970.9M1008.1 915.4L1014.4 968.2M1020.8 912.9L1029 965.1M1033.5 910L1043.5 961.5M1046 906.7L1057.8 957.5M1058.4 902.9L1072 953M1070.7 898.7L1086.1 948.1M1082.8 894L1100 942.7M1094.8 888.9L1113.7 936.9M1106.5 883.5L1127.2 930.7M1118.1 877.6L1140.6 924.1M1129.5 871.3L1153.7 917M1140.6 864.6L1166.6 909.5M1151.5 857.5L1179.3 901.7M1162.1 850.1L1191.7 893.4M969.9 947.5 L979.7 946.5 L989.5 945.3 L999.2 943.9 L1009 942.2 L1018.7 940.4 L1028.3 938.3 L1037.9 935.9 L1047.4 933.4 L1056.9 930.6 L1066.3 927.6 L1075.7 924.4 L1084.9 920.9 L1094.1 917.3 L1103.2 913.4 L1112.2 909.3 L1121.1 905 L1129.9 900.5 L1138.5 895.9 L1147.1 891 L1155.6 885.9 L1163.9 880.6 L1172.1 875.1 L1180.2 869.4 L1188.2 863.6" fill="none" stroke="#2a1a08" stroke-width="0.8" />
<text x="976.3" y="933.6" font-size="5.8" fill="#4A2FB0" text-anchor="middle" transform="rotate(-1.8 976.3 933.6)" >171</text>
<text x="989.6" y="932.1" font-size="5.8" fill="#4A2FB0" text-anchor="middle" transform="rotate(-3.8 989.6 932.1)" >170</text>
<text x="1002.9" y="930.2" font-size="5.8" fill="#4A2FB0" text-anchor="middle" transform="rotate(-5.9 1002.9 930.2)" >169</text>
<text x="1016.1" y="927.8" font-size="5.8" fill="#4A2FB0" text-anchor="middle" transform="rotate(-7.9 1016.1 927.8)" >168</text>
<text x="1029.2" y="925" font-size="5.8" fill="#4A2FB0" text-anchor="middle" transform="rotate(-9.9 1029.2 925)" >167</text>
<text x="1042.2" y="921.7" font-size="5.8" fill="#4A2FB0" text-anchor="middle" transform="rotate(-12 1042.2 921.7)" >166</text>
<text x="1055" y="918" font-size="5.8" fill="#4A2FB0" text-anchor="middle" transform="rotate(-14.1 1055 918)" >165</text>
<text x="1067.8" y="913.8" font-size="5.8" fill="#4A2FB0" text-anchor="middle" transform="rotate(-16.2 1067.8 913.8)" >164</text>
<text x="1080.4" y="909.2" font-size="5.8" fill="#4A2FB0" text-anchor="middle" transform="rotate(-18.3 1080.4 909.2)" >163</text>
<text x="1092.8" y="904.2" font-size="5.8" fill="#4A2FB0" text-anchor="middle" transform="rotate(-20.5 1092.8 904.2)" >162</text>
<text x="1105" y="898.8" font-size="5.8" fill="#4A2FB0" text-anchor="middle" transform="rotate(-22.6 1105 898.8)" >161</text>
<text x="1117.1" y="892.9" font-size="5.8" fill="#4A2FB0" text-anchor="middle" transform="rotate(-24.7 1117.1 892.9)" >160</text>
<text x="1129" y="886.7" font-size="5.8" fill="#4A2FB0" text-anchor="middle" transform="rotate(-26.9 1129 886.7)" >159</text>
<text x="1140.6" y="880" font-size="5.8" fill="#4A2FB0" text-anchor="middle" transform="rotate(-29 1140.6 880)" >158</text>
<text x="1152" y="873" font-size="5.8" fill="#4A2FB0" text-anchor="middle" transform="rotate(-31.1 1152 873)" >157</text>
<text x="1163.1" y="865.5" font-size="5.8" fill="#4A2FB0" text-anchor="middle" transform="rotate(-33.2 1163.1 865.5)" >156</text>
<text x="977.3" y="964.1" font-size="5.8" fill="#4A2FB0" text-anchor="middle" transform="rotate(-1.8 977.3 964.1)" >187</text>
<text x="991.6" y="962.3" font-size="5.8" fill="#4A2FB0" text-anchor="middle" transform="rotate(-3.8 991.6 962.3)" >186</text>
<text x="1005.9" y="960" font-size="5.8" fill="#4A2FB0" text-anchor="middle" transform="rotate(-5.9 1005.9 960)" >185</text>
<text x="1020.1" y="957.2" font-size="5.8" fill="#4A2FB0" text-anchor="middle" transform="rotate(-7.9 1020.1 957.2)" >184</text>
<text x="1034.3" y="954" font-size="5.8" fill="#4A2FB0" text-anchor="middle" transform="rotate(-9.9 1034.3 954)" >183</text>
<text x="1048.3" y="950.3" font-size="5.8" fill="#4A2FB0" text-anchor="middle" transform="rotate(-12 1048.3 950.3)" >182</text>
<text x="1062.1" y="946.2" font-size="5.8" fill="#4A2FB0" text-anchor="middle" transform="rotate(-14.1 1062.1 946.2)" >181</text>
<text x="1075.9" y="941.7" font-size="5.8" fill="#4A2FB0" text-anchor="middle" transform="rotate(-16.2 1075.9 941.7)" >180</text>
<text x="1089.5" y="936.7" font-size="5.8" fill="#4A2FB0" text-anchor="middle" transform="rotate(-18.3 1089.5 936.7)" >179</text>
<text x="1102.9" y="931.3" font-size="5.8" fill="#4A2FB0" text-anchor="middle" transform="rotate(-20.5 1102.9 931.3)" >178</text>
<text x="1116.1" y="925.4" font-size="5.8" fill="#4A2FB0" text-anchor="middle" transform="rotate(-22.6 1116.1 925.4)" >177</text>
<text x="1129.2" y="919.2" font-size="5.8" fill="#4A2FB0" text-anchor="middle" transform="rotate(-24.7 1129.2 919.2)" >176</text>
<text x="1142" y="912.5" font-size="5.8" fill="#4A2FB0" text-anchor="middle" transform="rotate(-26.9 1142 912.5)" >175</text>
<text x="1154.7" y="905.4" font-size="5.8" fill="#4A2FB0" text-anchor="middle" transform="rotate(-29 1154.7 905.4)" >174</text>
<text x="1167" y="897.9" font-size="5.8" fill="#4A2FB0" text-anchor="middle" transform="rotate(-31.1 1167 897.9)" >165</text>
<text x="1179.2" y="890" font-size="5.8" fill="#4A2FB0" text-anchor="middle" transform="rotate(-33.2 1179.2 890)" >167</text>
<text x="1069.5" y="925" font-size="9.5" fill="#3a2410" text-anchor="middle" transform="rotate(-19 1069.5 925)" textLength="58" lengthAdjust="spacingAndGlyphs" >10 Marla Plots</text>
<text x="1064" y="937" font-size="9.5" fill="#3a2410" text-anchor="middle" transform="rotate(-19 1064 937)" textLength="40" lengthAdjust="spacingAndGlyphs" >(35' x 65')</text>
<polygon points="961.3,1019.8 1060,1006 1068.8,1039.8 961.3,1039.8" fill="#159A48" stroke="#0b5a2a" stroke-width="0.5" />
<polygon points="960,992.3 969.8,991.8 979.6,991 989.4,990.1 999.2,988.9 1008.9,987.5 1018.7,986 1028.3,984.1 1038,982.1 1047.5,979.9 1057.1,977.5 1066.6,974.8 1076,972 1085.3,968.9 1094.6,965.7 1103.8,962.2 1113,958.6 1122,954.7 1131,950.7 1139.9,946.4 1148.7,942 1157.3,937.4 1165.9,932.5 1174.4,927.5 1182.7,922.3 1191,917 1199.1,911.4 1207.1,905.7 1215,899.8 1218.8,931 1210.6,936.6 1202.4,942.1 1194,947.4 1185.6,952.4 1177,957.4 1168.3,962.1 1159.6,966.7 1150.7,971.1 1141.8,975.3 1132.8,979.4 1123.7,983.2 1114.5,986.9 1105.3,990.4 1095.9,993.7 1086.6,996.8 1077.1,999.7 1067.6,1002.5 1058.1,1005 1048.5,1007.3 1038.8,1009.5 1029.1,1011.5 1019.4,1013.2 1009.7,1014.8 999.9,1016.2 990.1,1017.3 980.2,1018.3 970.4,1019.1 960.5,1019.6" fill="#F49B1E" stroke="#2a1a08" stroke-width="0.8" />
<polygon points="1065.5,1003 1071.4,1001.4 1077.2,999.7 1083,997.9 1088.8,996.1 1094.6,994.2 1100.3,992.2 1106,990.1 1111.7,988 1117.4,985.8 1123,983.5 1128.6,981.1 1134.2,978.7 1139.8,976.3 1145.3,973.7 1150.8,971.1 1156.2,968.4 1161.6,965.6 1167,962.8 1172.4,959.9 1177.7,957 1182.9,954 1188.2,950.9 1193.4,947.7 1198.5,944.5 1203.7,941.3 1208.7,937.9 1213.8,934.5 1218.8,931 1222.5,962.3 1217.3,965.6 1212.2,968.8 1206.9,972 1201.7,975.1 1196.4,978.1 1191.1,981.1 1185.7,984 1180.3,986.9 1174.9,989.6 1169.4,992.4 1163.9,995.1 1158.4,997.7 1152.8,1000.2 1147.3,1002.7 1141.7,1005.1 1136,1007.5 1130.4,1009.8 1124.7,1012 1119,1014.1 1113.2,1016.2 1107.5,1018.3 1101.7,1020.2 1095.9,1022.1 1090.1,1024 1084.2,1025.7 1078.4,1027.4 1072.5,1029.1 1066.6,1030.6" fill="#F49B1E" stroke="#2a1a08" stroke-width="0.8" />
<path d="M973.8 991.5L974.3 1018.8M987.5 990.3L988.1 1017.5M1001.2 988.7L1001.8 1015.9M1014.8 986.6L1015.5 1013.9M1028.3 984.1L1029.1 1011.5M1041.8 981.3L1042.7 1008.7M1055.2 978L1056.2 1005.5M1068.5 974.3L1069.5 1001.9M1081.6 970.2L1082.8 998M1094.6 965.7L1095.9 993.7M1107.5 960.8L1109 989M1120.2 955.5L1121.9 984M1132.8 949.8L1134.6 978.6M1145.2 943.8L1147.2 972.8M1157.3 937.4L1159.6 966.7M1169.3 930.6L1171.8 960.2M1181.1 923.4L1183.8 953.4M1192.6 915.9L1195.7 946.3M1203.9 908L1207.3 938.8M1079.2 999.1L1080.3 1026.9M1092.7 994.8L1094 1022.7M1106 990.1L1107.5 1018.3M1119.3 985L1120.9 1013.4M1132.4 979.5L1134.1 1008.2M1145.3 973.7L1147.3 1002.7M1158 967.5L1160.2 996.8M1170.6 960.9L1173 990.6M1182.9 954L1185.7 984M1195.1 946.7L1198.2 977.1M1207 939L1210.4 969.9" fill="none" stroke="#2a1a08" stroke-width="0.8" />
<text x="967" y="1000.5" font-size="5" fill="#4A2FB0" text-anchor="middle" >40</text>
<text x="980.8" y="999.5" font-size="5" fill="#4A2FB0" text-anchor="middle" >41</text>
<text x="994.5" y="998.1" font-size="5" fill="#4A2FB0" text-anchor="middle" >42</text>
<text x="1008.1" y="996.2" font-size="5" fill="#4A2FB0" text-anchor="middle" >43</text>
<text x="1021.7" y="994" font-size="5" fill="#4A2FB0" text-anchor="middle" >44</text>
<text x="1035.3" y="991.3" font-size="5" fill="#4A2FB0" text-anchor="middle" >45</text>
<text x="1048.7" y="988.3" font-size="5" fill="#4A2FB0" text-anchor="middle" >46</text>
<text x="1062.1" y="984.8" font-size="5" fill="#4A2FB0" text-anchor="middle" >47</text>
<text x="1075.3" y="980.9" font-size="5" fill="#4A2FB0" text-anchor="middle" >48</text>
<text x="1088.4" y="976.7" font-size="5" fill="#4A2FB0" text-anchor="middle" >49</text>
<text x="1101.4" y="972" font-size="5" fill="#4A2FB0" text-anchor="middle" >50</text>
<text x="1114.3" y="967" font-size="5" fill="#4A2FB0" text-anchor="middle" >51</text>
<text x="1126.9" y="961.6" font-size="5" fill="#4A2FB0" text-anchor="middle" >52</text>
<text x="1139.4" y="955.8" font-size="5" fill="#4A2FB0" text-anchor="middle" >53</text>
<text x="1151.8" y="949.6" font-size="5" fill="#4A2FB0" text-anchor="middle" >54</text>
<text x="1163.9" y="943.1" font-size="5" fill="#4A2FB0" text-anchor="middle" >55</text>
<text x="1175.9" y="936.2" font-size="5" fill="#4A2FB0" text-anchor="middle" >56</text>
<text x="1187.6" y="928.9" font-size="5" fill="#4A2FB0" text-anchor="middle" >57</text>
<text x="1199.1" y="921.3" font-size="5" fill="#4A2FB0" text-anchor="middle" >58</text>
<text x="1210.4" y="913.4" font-size="5" fill="#4A2FB0" text-anchor="middle" ></text>
<text x="1073.2" y="1023" font-size="5" fill="#4A2FB0" text-anchor="middle" >69</text>
<text x="1086.8" y="1019.1" font-size="5" fill="#4A2FB0" text-anchor="middle" >68</text>
<text x="1100.4" y="1014.7" font-size="5" fill="#4A2FB0" text-anchor="middle" >67</text>
<text x="1113.8" y="1010" font-size="5" fill="#4A2FB0" text-anchor="middle" >66</text>
<text x="1127.1" y="1004.9" font-size="5" fill="#4A2FB0" text-anchor="middle" >65</text>
<text x="1140.2" y="999.4" font-size="5" fill="#4A2FB0" text-anchor="middle" >64</text>
<text x="1153.2" y="993.6" font-size="5" fill="#4A2FB0" text-anchor="middle" >63</text>
<text x="1166" y="987.5" font-size="5" fill="#4A2FB0" text-anchor="middle" >62</text>
<text x="1178.7" y="981" font-size="5" fill="#4A2FB0" text-anchor="middle" >61</text>
<text x="1191.1" y="974.1" font-size="5" fill="#4A2FB0" text-anchor="middle" >60</text>
<text x="1203.4" y="966.9" font-size="5" fill="#4A2FB0" text-anchor="middle" >59</text>
<text x="1215.5" y="959.4" font-size="5" fill="#4A2FB0" text-anchor="middle" ></text>
<polygon points="1215,899.8 1208.5,906 1222.5,926 1222.5,912" fill="#159A48" stroke="#0b5a2a" stroke-width="0.4" />
<polygon points="1222.5,929.8 1210,941 1222.5,958.5" fill="#159A48" stroke="#0b5a2a" stroke-width="0.4" />
<text x="1110" y="990" font-size="9.5" fill="#3a2410" text-anchor="middle" transform="rotate(-21 1110 990)" textLength="58" lengthAdjust="spacingAndGlyphs" >10 Marla Plots</text>
<text x="1106" y="1002" font-size="9.5" fill="#3a2410" text-anchor="middle" transform="rotate(-21 1106 1002)" textLength="40" lengthAdjust="spacingAndGlyphs" >(35' x 65')</text>
<text x="1011.5" y="1027.5" font-size="10" fill="#10301c" text-anchor="middle" textLength="17" lengthAdjust="spacingAndGlyphs" >Park</text>
<text x="1011.5" y="1037.5" font-size="8.5" fill="#10301c" text-anchor="middle" textLength="40" lengthAdjust="spacingAndGlyphs" >(0.4 Acres)</text>
<rect x="1151.3" y="1016.5" width="87" height="25" fill="#F49B1E" stroke="#20140a" stroke-width="0.8" />
<path d="M1165.8 1016.5V1041.5M1180.3 1016.5V1041.5M1194.8 1016.5V1041.5M1209.3 1016.5V1041.5M1223.8 1016.5V1041.5" fill="none" stroke="#20140a" stroke-width="0.8" />
<text x="1158.5" y="1025.5" font-size="5.6" fill="#4A2FB0" text-anchor="middle" >72</text>
<text x="1173" y="1025.5" font-size="5.6" fill="#4A2FB0" text-anchor="middle" >73</text>
<text x="1187.5" y="1025.5" font-size="5.6" fill="#4A2FB0" text-anchor="middle" >74</text>
<text x="1202" y="1025.5" font-size="5.6" fill="#4A2FB0" text-anchor="middle" >75</text>
<text x="1216.5" y="1025.5" font-size="5.6" fill="#4A2FB0" text-anchor="middle" >76</text>
<text x="1231" y="1025.5" font-size="5.6" fill="#4A2FB0" text-anchor="middle" >77</text>
<text x="1204" y="1033" font-size="6.5" fill="#3a2410" text-anchor="middle" textLength="42" lengthAdjust="spacingAndGlyphs" >10 Marla Plots</text>
<text x="1196" y="1040" font-size="6.2" fill="#3a2410" text-anchor="middle" textLength="30" lengthAdjust="spacingAndGlyphs" >(35' x 65')</text>
<polygon points="1097.5,1041 1151,1022.5 1151,1041" fill="#A9A4DB" stroke="#555" stroke-width="0.4" />
<rect x="1120" y="1035.5" width="30" height="6" fill="#A84EA0" stroke="#4a2a6a" stroke-width="0.4" />
<path d="M1123.8 1035.5V1041.5M1127.5 1035.5V1041.5M1131.2 1035.5V1041.5M1135 1035.5V1041.5M1138.8 1035.5V1041.5M1142.5 1035.5V1041.5M1146.2 1035.5V1041.5" fill="none" stroke="#3a1a5a" stroke-width="0.4" />
<polyline points="1122,1042 1119,1055 1166,1055" fill="none" stroke="#333" stroke-width="0.5" />
<text x="1145" y="1054" font-size="4.2" fill="#111" text-anchor="middle" font-weight="bold" textLength="40" lengthAdjust="spacingAndGlyphs" >Convenience Shops</text>
<text x="1145" y="1060" font-size="3.8" fill="#111" text-anchor="middle" >(12' x 28')</text>
<polygon points="1195,998.5 1238,978 1238,998.5" fill="#A9A4DB" stroke="#555" stroke-width="0.4" />
<polygon points="1220,989 1236,982 1237.5,997 1222,997.5" fill="#A84EA0" stroke="#4a2a6a" stroke-width="0.4" />
<polygon points="1226,998.5 1238,992 1238,998.5" fill="#159A48" stroke="none" stroke-width="1" />
<polyline points="1232,982 1249,972 1298,972" fill="none" stroke="#333" stroke-width="0.5" />
<text x="1277" y="970.5" font-size="4.2" fill="#111" text-anchor="middle" font-weight="bold" textLength="40" lengthAdjust="spacingAndGlyphs" >Convenience Shops</text>
<text x="1277" y="976.5" font-size="3.8" fill="#111" text-anchor="middle" >(12' x 28')</text>
<text x="1065" y="892" font-size="10.5" fill="#2a2a2a" text-anchor="middle" transform="rotate(-17 1065 892)" textLength="44" lengthAdjust="spacingAndGlyphs" >Street 25</text>
<text x="1092.5" y="961" font-size="10.5" fill="#2a2a2a" text-anchor="middle" transform="rotate(-17 1092.5 961)" textLength="44" lengthAdjust="spacingAndGlyphs" >Street 26</text>
<text x="1156.3" y="1014.5" font-size="10.5" fill="#2a2a2a" text-anchor="middle" transform="rotate(-22 1156.3 1014.5)" textLength="44" lengthAdjust="spacingAndGlyphs" >Street 27</text>
<polygon points="1143.8,777.5 1147.8,773.4 1151.7,769.3 1155.6,765.1 1159.5,760.9 1163.3,756.7 1167.2,752.5 1170.9,748.3 1174.7,744 1178.5,739.7 1182.2,735.4 1185.9,731 1189.5,726.7 1193.2,722.3 1196.8,717.9 1200.4,713.4 1203.9,709 1207.4,704.5 1210.9,700 1214.4,695.4 1217.8,690.9 1221.2,686.3 1224.6,681.7 1228,677.1 1231.3,672.5 1275,700 1271.9,705.6 1268.6,711.2 1265.3,716.7 1261.9,722.2 1258.4,727.6 1254.8,732.9 1251.2,738.2 1247.4,743.4 1243.6,748.6 1239.6,753.7 1235.6,758.7 1231.5,763.7 1227.3,768.6 1223.1,773.4 1218.7,778.1 1214.3,782.8 1209.8,787.4 1205.2,792 1200.6,796.4 1195.9,800.8 1191.1,805.1 1186.2,809.3 1181.3,813.4 1176.3,817.5" fill="#F49B1E" stroke="#2a1a08" stroke-width="0.8" />
<path d="M1152.4 768.5L1187.1 808.5M1160.9 759.4L1197.6 799.2M1169.2 750.2L1207.8 789.5M1177.4 740.9L1217.5 779.4M1185.5 731.4L1227 769M1193.5 721.9L1236 758.3M1201.3 712.2L1244.6 747.2M1209 702.4L1252.9 735.8M1216.6 692.6L1260.7 724.1M1224 682.6L1268.1 712.2M1160 797.5 L1164.5 793.4 L1169 789.3 L1173.3 785.1 L1177.7 780.9 L1182 776.6 L1186.2 772.2 L1190.4 767.8 L1194.5 763.4 L1198.6 758.9 L1202.6 754.4 L1206.6 749.8 L1210.5 745.2 L1214.4 740.5 L1218.2 735.8 L1222 731 L1225.7 726.2 L1229.3 721.3 L1232.9 716.4 L1236.4 711.5 L1239.9 706.5 L1243.3 701.5 L1246.6 696.5 L1249.9 691.4 L1253.1 686.2" fill="none" stroke="#2a1a08" stroke-width="0.8" />
<text x="1155.5" y="783.7" font-size="5.4" fill="#4A2FB0" text-anchor="middle" transform="rotate(-40 1155.5 783.7)" >88</text>
<text x="1164.5" y="774.7" font-size="5.4" fill="#4A2FB0" text-anchor="middle" transform="rotate(-41.8 1164.5 774.7)" >87</text>
<text x="1173.4" y="765.4" font-size="5.4" fill="#4A2FB0" text-anchor="middle" transform="rotate(-43.6 1173.4 765.4)" >86</text>
<text x="1182" y="756" font-size="5.4" fill="#4A2FB0" text-anchor="middle" transform="rotate(-45.3 1182 756)" >85</text>
<text x="1190.5" y="746.4" font-size="5.4" fill="#4A2FB0" text-anchor="middle" transform="rotate(-46.9 1190.5 746.4)" >84</text>
<text x="1198.8" y="736.7" font-size="5.4" fill="#4A2FB0" text-anchor="middle" transform="rotate(-48.6 1198.8 736.7)" >83</text>
<text x="1206.9" y="726.8" font-size="5.4" fill="#4A2FB0" text-anchor="middle" transform="rotate(-50.2 1206.9 726.8)" >82</text>
<text x="1214.8" y="716.7" font-size="5.4" fill="#4A2FB0" text-anchor="middle" transform="rotate(-51.9 1214.8 716.7)" >81</text>
<text x="1222.5" y="706.5" font-size="5.4" fill="#4A2FB0" text-anchor="middle" transform="rotate(-53.5 1222.5 706.5)" >80</text>
<text x="1230" y="696.2" font-size="5.4" fill="#4A2FB0" text-anchor="middle" transform="rotate(-55.2 1230 696.2)" >79</text>
<text x="1174.4" y="806.2" font-size="5.4" fill="#4A2FB0" text-anchor="middle" transform="rotate(-40 1174.4 806.2)" >133</text>
<text x="1184.5" y="797" font-size="5.4" fill="#4A2FB0" text-anchor="middle" transform="rotate(-41.8 1184.5 797)" >134</text>
<text x="1194.4" y="787.6" font-size="5.4" fill="#4A2FB0" text-anchor="middle" transform="rotate(-43.6 1194.4 787.6)" >135</text>
<text x="1204" y="777.8" font-size="5.4" fill="#4A2FB0" text-anchor="middle" transform="rotate(-45.3 1204 777.8)" >136</text>
<text x="1213.3" y="767.8" font-size="5.4" fill="#4A2FB0" text-anchor="middle" transform="rotate(-46.9 1213.3 767.8)" >137</text>
<text x="1222.3" y="757.4" font-size="5.4" fill="#4A2FB0" text-anchor="middle" transform="rotate(-48.6 1222.3 757.4)" >138</text>
<text x="1230.9" y="746.8" font-size="5.4" fill="#4A2FB0" text-anchor="middle" transform="rotate(-50.2 1230.9 746.8)" >139</text>
<text x="1239.2" y="735.9" font-size="5.4" fill="#4A2FB0" text-anchor="middle" transform="rotate(-51.9 1239.2 735.9)" >140</text>
<text x="1247.1" y="724.8" font-size="5.4" fill="#4A2FB0" text-anchor="middle" transform="rotate(-53.5 1247.1 724.8)" >141</text>
<text x="1254.7" y="713.4" font-size="5.4" fill="#4A2FB0" text-anchor="middle" transform="rotate(-55.2 1254.7 713.4)" >142</text>
<text x="1224" y="736" font-size="9" fill="#3a2410" text-anchor="middle" transform="rotate(-48 1224 736)" textLength="54" lengthAdjust="spacingAndGlyphs" >10 Marla Plots</text>
<text x="1230" y="747" font-size="9" fill="#3a2410" text-anchor="middle" transform="rotate(-48 1230 747)" textLength="38" lengthAdjust="spacingAndGlyphs" >(35' x 65')</text>
<polygon points="1305,695 1318,688.5 1340,687 1360,693.5 1352.5,703.8 1330,700" fill="#159A48" stroke="#0b5a2a" stroke-width="0.5" />
<polygon points="1187.5,830 1193,825 1198.5,819.9 1203.9,814.8 1209.3,809.6 1214.6,804.3 1219.9,799 1225.1,793.7 1230.3,788.2 1235.4,782.8 1240.4,777.3 1245.4,771.7 1250.4,766.1 1255.3,760.4 1260.1,754.7 1264.8,749 1269.5,743.1 1274.2,737.3 1278.8,731.4 1283.3,725.4 1287.8,719.4 1292.2,713.4 1296.5,707.3 1300.8,701.2 1305,695 1352.5,703.8 1349.4,711.2 1346.1,718.6 1342.7,725.9 1339.1,733.1 1335.4,740.2 1331.6,747.3 1327.6,754.3 1323.5,761.2 1319.3,768.1 1314.9,774.8 1310.4,781.5 1305.7,788.1 1300.9,794.5 1296,800.9 1291,807.2 1285.9,813.4 1280.6,819.5 1275.2,825.5 1269.7,831.3 1264.1,837.1 1258.4,842.7 1252.5,848.3 1246.6,853.7 1240.5,859" fill="#F49B1E" stroke="#2a1a08" stroke-width="0.8" />
<path d="M1197.7 820.7L1251.6 849.1M1207.7 811.2L1262.3 838.8M1217.5 801.5L1272.7 828.2M1227.1 791.6L1282.6 817.2M1236.6 781.5L1292.2 805.8M1245.8 771.3L1301.3 794M1254.9 760.9L1310 782M1263.7 750.3L1318.3 769.6M1272.4 739.5L1326.1 757M1280.9 728.6L1333.4 744.1M1289.1 717.6L1340.2 730.9M1297.2 706.4L1346.6 717.4M1205 839.6 L1210.7 834.5 L1216.3 829.3 L1221.9 824 L1227.4 818.6 L1232.8 813.2 L1238.2 807.7 L1243.4 802.2 L1248.6 796.5 L1253.8 790.8 L1258.8 785.1 L1263.8 779.2 L1268.6 773.3 L1273.4 767.4 L1278.2 761.3 L1282.8 755.3 L1287.4 749.1 L1291.8 742.9 L1296.2 736.6 L1300.5 730.3 L1304.7 723.9 L1308.8 717.5 L1312.9 711 L1316.8 704.5 L1320.7 697.9M1222.5 849.1 L1228.4 843.9 L1234.2 838.6 L1239.9 833.2 L1245.5 827.7 L1251 822.1 L1256.4 816.5 L1261.7 810.7 L1267 804.8 L1272.1 798.9 L1277.1 792.9 L1282.1 786.8 L1286.9 780.6 L1291.6 774.3 L1296.2 768 L1300.8 761.6 L1305.2 755.1 L1309.5 748.5 L1313.6 741.9 L1317.7 735.2 L1321.7 728.4 L1325.5 721.6 L1329.2 714.7 L1332.9 707.8 L1336.4 700.8" fill="none" stroke="#2a1a08" stroke-width="0.8" />
<text x="1204.4" y="833.5" font-size="5.2" fill="#4A2FB0" text-anchor="middle" transform="rotate(-61.7 1204.4 833.5)" >155</text>
<text x="1214.6" y="823.9" font-size="5.2" fill="#4A2FB0" text-anchor="middle" transform="rotate(-62.7 1214.6 823.9)" >154</text>
<text x="1224.7" y="814.1" font-size="5.2" fill="#4A2FB0" text-anchor="middle" transform="rotate(-63.6 1224.7 814.1)" >153</text>
<text x="1234.5" y="804.1" font-size="5.2" fill="#4A2FB0" text-anchor="middle" transform="rotate(-64.7 1234.5 804.1)" >152</text>
<text x="1244.1" y="793.9" font-size="5.2" fill="#4A2FB0" text-anchor="middle" transform="rotate(-65.8 1244.1 793.9)" >151</text>
<text x="1253.4" y="783.4" font-size="5.2" fill="#4A2FB0" text-anchor="middle" transform="rotate(-67.1 1253.4 783.4)" >150</text>
<text x="1262.6" y="772.7" font-size="5.2" fill="#4A2FB0" text-anchor="middle" transform="rotate(-68.4 1262.6 772.7)" >149</text>
<text x="1271.4" y="761.9" font-size="5.2" fill="#4A2FB0" text-anchor="middle" transform="rotate(-69.7 1271.4 761.9)" >148</text>
<text x="1280" y="750.8" font-size="5.2" fill="#4A2FB0" text-anchor="middle" transform="rotate(-71.2 1280 750.8)" >147</text>
<text x="1288.4" y="739.5" font-size="5.2" fill="#4A2FB0" text-anchor="middle" transform="rotate(-72.8 1288.4 739.5)" >146</text>
<text x="1296.4" y="728.1" font-size="5.2" fill="#4A2FB0" text-anchor="middle" transform="rotate(-74.5 1296.4 728.1)" >145</text>
<text x="1304.2" y="716.5" font-size="5.2" fill="#4A2FB0" text-anchor="middle" transform="rotate(-76.4 1304.2 716.5)" >144</text>
<text x="1311.8" y="704.7" font-size="5.2" fill="#4A2FB0" text-anchor="middle" transform="rotate(-78.4 1311.8 704.7)" >143</text>
<text x="1234.3" y="849.6" font-size="5.2" fill="#4A2FB0" text-anchor="middle" transform="rotate(-61.7 1234.3 849.6)" >189</text>
<text x="1245.1" y="839.7" font-size="5.2" fill="#4A2FB0" text-anchor="middle" transform="rotate(-62.7 1245.1 839.7)" >190</text>
<text x="1255.5" y="829.4" font-size="5.2" fill="#4A2FB0" text-anchor="middle" transform="rotate(-63.6 1255.5 829.4)" >191</text>
<text x="1265.5" y="818.8" font-size="5.2" fill="#4A2FB0" text-anchor="middle" transform="rotate(-64.7 1265.5 818.8)" >192</text>
<text x="1275.2" y="807.8" font-size="5.2" fill="#4A2FB0" text-anchor="middle" transform="rotate(-65.8 1275.2 807.8)" >193</text>
<text x="1284.6" y="796.6" font-size="5.2" fill="#4A2FB0" text-anchor="middle" transform="rotate(-67.1 1284.6 796.6)" >194</text>
<text x="1293.5" y="785" font-size="5.2" fill="#4A2FB0" text-anchor="middle" transform="rotate(-68.4 1293.5 785)" >195</text>
<text x="1302.1" y="773.2" font-size="5.2" fill="#4A2FB0" text-anchor="middle" transform="rotate(-69.7 1302.1 773.2)" >196</text>
<text x="1310.3" y="761.1" font-size="5.2" fill="#4A2FB0" text-anchor="middle" transform="rotate(-71.2 1310.3 761.1)" >197</text>
<text x="1318.1" y="748.8" font-size="5.2" fill="#4A2FB0" text-anchor="middle" transform="rotate(-72.8 1318.1 748.8)" >198</text>
<text x="1325.5" y="736.2" font-size="5.2" fill="#4A2FB0" text-anchor="middle" transform="rotate(-74.5 1325.5 736.2)" >199</text>
<text x="1332.4" y="723.3" font-size="5.2" fill="#4A2FB0" text-anchor="middle" transform="rotate(-76.4 1332.4 723.3)" >200</text>
<text x="1338.9" y="710.3" font-size="5.2" fill="#4A2FB0" text-anchor="middle" transform="rotate(-78.4 1338.9 710.3)" >201</text>
<polygon points="1187.5,830 1225,875.6 1240.5,859" fill="#F49B1E" stroke="#2a1a08" stroke-width="0.8" />
<path d="M1200 845L1222 840M1212 860L1232 850" fill="none" stroke="#2a1a08" stroke-width="0.6" />
<text x="1266.5" y="795" font-size="9" fill="#3a2410" text-anchor="middle" transform="rotate(-50 1266.5 795)" textLength="54" lengthAdjust="spacingAndGlyphs" >10 Marla Plots</text>
<text x="1274" y="805" font-size="9" fill="#3a2410" text-anchor="middle" transform="rotate(-50 1274 805)" textLength="38" lengthAdjust="spacingAndGlyphs" >(35' x 65')</text>
<text x="1170" y="825" font-size="10.5" fill="#2a2a2a" text-anchor="middle" transform="rotate(60 1170 825)" textLength="44" lengthAdjust="spacingAndGlyphs" >Street 22</text>
<text x="1153.8" y="757.5" font-size="10.5" fill="#2a2a2a" text-anchor="middle" transform="rotate(-38 1153.8 757.5)" textLength="44" lengthAdjust="spacingAndGlyphs" >Street 24</text>
<text x="1246.3" y="761" font-size="10.5" fill="#2a2a2a" text-anchor="middle" transform="rotate(-52 1246.3 761)" textLength="44" lengthAdjust="spacingAndGlyphs" >Street 25</text>
<text x="1298.8" y="813" font-size="10.5" fill="#2a2a2a" text-anchor="middle" transform="rotate(-50 1298.8 813)" textLength="44" lengthAdjust="spacingAndGlyphs" >Street 28</text>
<path d="M1272.5 853.5 L1299 821.5 Q1300 820 1303 820 H1383 Q1386 820 1386.5 823 L1391 851 L1386 855 H1272 Z" fill="#159A48" stroke="#0b5a2a" stroke-width="0.5" />
<text x="1333.5" y="835.5" font-size="9.5" fill="#10301c" text-anchor="middle" textLength="18" lengthAdjust="spacingAndGlyphs" >Park</text>
<text x="1333.5" y="846.5" font-size="9.5" fill="#10301c" text-anchor="middle" textLength="44" lengthAdjust="spacingAndGlyphs" >(4.73 kanal)</text>
<path d="M1335 802.5 V790 L1388 716.4 A66 66 0 0 1 1383.5 802.8 L1390 802.5 Z" fill="#F49B1E" stroke="#2a1a08" stroke-width="0.8" />
<path d="M1377 726 L1388 716.4 A66 66 0 0 1 1402 754.7 L1396 744 L1391 731 L1386 735 Z" fill="#159A48" stroke="#0b5a2a" stroke-width="0.5" />
<path d="M1346 773L1396 781 M1356 758L1401 762 M1365 744 L1399 745 M1357 802.5L1360 760 L1386 733 M1378 802.5 L1381 765 L1398 748" fill="none" stroke="#2a1a08" stroke-width="0.6" />
<text x="1362" y="775" font-size="6.5" fill="#3a2410" text-anchor="middle" transform="rotate(-58 1362 775)" textLength="40" lengthAdjust="spacingAndGlyphs" >10 Marla Plots</text>
<text x="1370" y="778" font-size="6.5" fill="#3a2410" text-anchor="middle" transform="rotate(-58 1370 778)" textLength="30" lengthAdjust="spacingAndGlyphs" >(35' x 65')</text>
<text x="1347" y="797" font-size="4.6" fill="#4A2FB0" text-anchor="middle" transform="rotate(-70 1347 797)" >206</text>
<text x="1345" y="780" font-size="4.6" fill="#4A2FB0" text-anchor="middle" transform="rotate(-70 1345 780)" >205</text>
<text x="1355" y="765" font-size="4.6" fill="#4A2FB0" text-anchor="middle" transform="rotate(-70 1355 765)" >204</text>
<text x="1362" y="750" font-size="4.6" fill="#4A2FB0" text-anchor="middle" transform="rotate(-70 1362 750)" >203</text>
<text x="1374" y="738" font-size="4.6" fill="#4A2FB0" text-anchor="middle" transform="rotate(-70 1374 738)" >202</text>
<text x="1383" y="797" font-size="4.6" fill="#4A2FB0" text-anchor="middle" transform="rotate(-70 1383 797)" >218</text>
<text x="1385" y="778" font-size="4.6" fill="#4A2FB0" text-anchor="middle" transform="rotate(-70 1385 778)" >217</text>
<text x="1392" y="763" font-size="4.6" fill="#4A2FB0" text-anchor="middle" transform="rotate(-70 1392 763)" >216</text>
<rect x="771.3" y="848" width="178" height="55" fill="#F49B1E" stroke="#20140a" stroke-width="0.8" rx="2"/>
<path d="M786.2 848V903M801.2 848V903M816.2 848V903M830.8 848V903M845.8 848V903M860.5 848V903M875 848V903M890 848V903M904.5 848V903M919.5 848V903M934.5 848V903M771.3 875.3H949.3" fill="none" stroke="#20140a" stroke-width="0.8" />
<text x="778.8" y="861" font-size="4.4" fill="#4A2FB0" text-anchor="middle" >110C</text>
<text x="778.8" y="898.5" font-size="4.4" fill="#4A2FB0" text-anchor="middle" >111C</text>
<text x="793.8" y="861" font-size="4.4" fill="#4A2FB0" text-anchor="middle" >110B</text>
<text x="793.8" y="898.5" font-size="4.4" fill="#4A2FB0" text-anchor="middle" >111B</text>
<text x="808.8" y="861" font-size="4.4" fill="#4A2FB0" text-anchor="middle" >110A</text>
<text x="808.8" y="898.5" font-size="4.4" fill="#4A2FB0" text-anchor="middle" >111A</text>
<text x="823.5" y="861" font-size="5.6" fill="#4A2FB0" text-anchor="middle" >110</text>
<text x="823.5" y="898.5" font-size="5.6" fill="#4A2FB0" text-anchor="middle" >111</text>
<text x="838.2" y="861" font-size="5.6" fill="#4A2FB0" text-anchor="middle" >109</text>
<text x="838.2" y="898.5" font-size="5.6" fill="#4A2FB0" text-anchor="middle" >112</text>
<text x="853.1" y="861" font-size="5.6" fill="#4A2FB0" text-anchor="middle" >108</text>
<text x="853.1" y="898.5" font-size="5.6" fill="#4A2FB0" text-anchor="middle" >113</text>
<text x="867.8" y="861" font-size="5.6" fill="#4A2FB0" text-anchor="middle" >107</text>
<text x="867.8" y="898.5" font-size="5.6" fill="#4A2FB0" text-anchor="middle" >114</text>
<text x="882.5" y="861" font-size="5.6" fill="#4A2FB0" text-anchor="middle" >106</text>
<text x="882.5" y="898.5" font-size="5.6" fill="#4A2FB0" text-anchor="middle" >115</text>
<text x="897.2" y="861" font-size="5.6" fill="#4A2FB0" text-anchor="middle" >105</text>
<text x="897.2" y="898.5" font-size="5.6" fill="#4A2FB0" text-anchor="middle" >116</text>
<text x="912" y="861" font-size="5.6" fill="#4A2FB0" text-anchor="middle" >104</text>
<text x="912" y="898.5" font-size="5.6" fill="#4A2FB0" text-anchor="middle" >117</text>
<text x="927" y="861" font-size="5.6" fill="#4A2FB0" text-anchor="middle" >103</text>
<text x="927" y="898.5" font-size="5.6" fill="#4A2FB0" text-anchor="middle" >118</text>
<text x="941.9" y="861" font-size="5.6" fill="#4A2FB0" text-anchor="middle" >102</text>
<text x="941.9" y="898.5" font-size="5.6" fill="#4A2FB0" text-anchor="middle" >119</text>
<text x="856" y="874.5" font-size="9.5" fill="#3a2410" text-anchor="middle" textLength="58" lengthAdjust="spacingAndGlyphs" >10 Marla Plots</text>
<text x="846" y="885" font-size="9.5" fill="#3a2410" text-anchor="middle" textLength="40" lengthAdjust="spacingAndGlyphs" >(35' x 65')</text>
<text x="842.5" y="842.3" font-size="10.5" fill="#2a2a2a" text-anchor="middle" textLength="44" lengthAdjust="spacingAndGlyphs" >Street 24</text>
<rect x="771.3" y="921" width="175.7" height="55" fill="#F49B1E" stroke="#20140a" stroke-width="0.8" rx="2"/>
<path d="M783.2 921V976M798 921V976M813 921V976M828 921V976M842.5 921V976M857 921V976M872 921V976M887 921V976M901.8 921V976M916.2 921V976M931.2 921V976M771.3 948.5H947" fill="none" stroke="#20140a" stroke-width="0.8" />
<text x="777.3" y="930" font-size="4.2" fill="#4A2FB0" text-anchor="middle" >180C</text>
<text x="777.3" y="972.5" font-size="4.2" fill="#4A2FB0" text-anchor="middle" >216C</text>
<text x="790.6" y="930" font-size="4.2" fill="#4A2FB0" text-anchor="middle" >180B</text>
<text x="790.6" y="972.5" font-size="4.2" fill="#4A2FB0" text-anchor="middle" >216B</text>
<text x="805.5" y="930" font-size="4.2" fill="#4A2FB0" text-anchor="middle" >180A</text>
<text x="805.5" y="972.5" font-size="4.2" fill="#4A2FB0" text-anchor="middle" >216A</text>
<text x="820.5" y="930" font-size="5.8" fill="#4A2FB0" text-anchor="middle" >180</text>
<text x="820.5" y="972.5" font-size="5.8" fill="#4A2FB0" text-anchor="middle" >215</text>
<text x="835.2" y="930" font-size="5.8" fill="#4A2FB0" text-anchor="middle" >179</text>
<text x="835.2" y="972.5" font-size="5.8" fill="#4A2FB0" text-anchor="middle" >214</text>
<text x="849.8" y="930" font-size="5.8" fill="#4A2FB0" text-anchor="middle" >178</text>
<text x="849.8" y="972.5" font-size="5.8" fill="#4A2FB0" text-anchor="middle" >213</text>
<text x="864.5" y="930" font-size="5.8" fill="#4A2FB0" text-anchor="middle" >177</text>
<text x="864.5" y="972.5" font-size="5.8" fill="#4A2FB0" text-anchor="middle" >212</text>
<text x="879.5" y="930" font-size="5.8" fill="#4A2FB0" text-anchor="middle" >176</text>
<text x="879.5" y="972.5" font-size="5.8" fill="#4A2FB0" text-anchor="middle" >211</text>
<text x="894.4" y="930" font-size="5.8" fill="#4A2FB0" text-anchor="middle" >175</text>
<text x="894.4" y="972.5" font-size="5.8" fill="#4A2FB0" text-anchor="middle" >210</text>
<text x="909" y="930" font-size="5.8" fill="#4A2FB0" text-anchor="middle" >174</text>
<text x="909" y="972.5" font-size="5.8" fill="#4A2FB0" text-anchor="middle" >209</text>
<text x="923.8" y="930" font-size="5.8" fill="#4A2FB0" text-anchor="middle" >173</text>
<text x="923.8" y="972.5" font-size="5.8" fill="#4A2FB0" text-anchor="middle" >208</text>
<text x="939.1" y="930" font-size="5.8" fill="#4A2FB0" text-anchor="middle" >172</text>
<text x="939.1" y="972.5" font-size="5.8" fill="#4A2FB0" text-anchor="middle" >207</text>
<text x="852.5" y="946.5" font-size="9.5" fill="#3a2410" text-anchor="middle" textLength="58" lengthAdjust="spacingAndGlyphs" >10 Marla Plots</text>
<text x="843.5" y="958" font-size="9.5" fill="#3a2410" text-anchor="middle" textLength="40" lengthAdjust="spacingAndGlyphs" >(35' x 65')</text>
<text x="843.8" y="915.5" font-size="10.5" fill="#2a2a2a" text-anchor="middle" textLength="44" lengthAdjust="spacingAndGlyphs" >Street 25</text>
<rect x="771.3" y="993" width="172.5" height="27.5" fill="#F49B1E" stroke="#20140a" stroke-width="0.8" rx="2"/>
<path d="M783.2 993V1020.5M798 993V1020.5M813 993V1020.5M828 993V1020.5M842.5 993V1020.5M857 993V1020.5M872 993V1020.5M887 993V1020.5M901.8 993V1020.5M916.2 993V1020.5M931.2 993V1020.5" fill="none" stroke="#20140a" stroke-width="0.8" />
<text x="777.3" y="1001.5" font-size="5.4" fill="#4A2FB0" text-anchor="middle" >61K</text>
<text x="790.6" y="1001.5" font-size="5.4" fill="#4A2FB0" text-anchor="middle" >61J</text>
<text x="805.5" y="1001.5" font-size="5.4" fill="#4A2FB0" text-anchor="middle" >61I</text>
<text x="820.5" y="1001.5" font-size="5.4" fill="#4A2FB0" text-anchor="middle" >61H</text>
<text x="835.2" y="1001.5" font-size="5.4" fill="#4A2FB0" text-anchor="middle" >61G</text>
<text x="849.8" y="1001.5" font-size="5.4" fill="#4A2FB0" text-anchor="middle" >61F</text>
<text x="864.5" y="1001.5" font-size="5.4" fill="#4A2FB0" text-anchor="middle" >61E</text>
<text x="879.5" y="1001.5" font-size="5.4" fill="#4A2FB0" text-anchor="middle" >61D</text>
<text x="894.4" y="1001.5" font-size="5.4" fill="#4A2FB0" text-anchor="middle" >61C</text>
<text x="909" y="1001.5" font-size="5.4" fill="#4A2FB0" text-anchor="middle" >61B</text>
<text x="923.8" y="1001.5" font-size="5.4" fill="#4A2FB0" text-anchor="middle" >61A</text>
<text x="937.5" y="1001.5" font-size="5.4" fill="#4A2FB0" text-anchor="middle" >61</text>
<text x="855" y="1016.5" font-size="9.5" fill="#3a2410" text-anchor="middle" textLength="100" lengthAdjust="spacingAndGlyphs" >10 Marla Plots (35' x 65')</text>
<text x="842.5" y="988.5" font-size="10.5" fill="#2a2a2a" text-anchor="middle" textLength="44" lengthAdjust="spacingAndGlyphs" >Street 26</text>
<rect x="771.3" y="1021.5" width="171.7" height="17.8" fill="#159A48" stroke="#0b5a2a" stroke-width="0.5" />
<text x="848.5" y="1032.5" font-size="9" fill="#10301c" text-anchor="middle" textLength="59" lengthAdjust="spacingAndGlyphs" >Park (0.8 Acres)</text>
<text x="770" y="861.5" font-size="3.8" fill="#111" text-anchor="end" font-weight="bold" >10 Marla</text>
<text x="770" y="887" font-size="3.8" fill="#111" text-anchor="end" font-weight="bold" >10 Marla</text>
<text x="770" y="935" font-size="3.8" fill="#111" text-anchor="end" font-weight="bold" >9.2 Marla</text>
<text x="770" y="962" font-size="3.8" fill="#111" text-anchor="end" font-weight="bold" >9.2 Marla</text>
<text x="770" y="1009" font-size="3.8" fill="#111" text-anchor="end" font-weight="bold" >9% Marla</text>
<text x="940.5" y="939" font-size="3.4" fill="#111" text-anchor="middle" >9.1</text>
<text x="940.5" y="943" font-size="3.4" fill="#111" text-anchor="middle" >Marla</text>
<text x="940.5" y="961" font-size="3.4" fill="#111" text-anchor="middle" >9.4</text>
<text x="940.5" y="965" font-size="3.4" fill="#111" text-anchor="middle" >Marla</text>
<text x="941.5" y="868" font-size="3.4" fill="#111" text-anchor="start" font-weight="bold" >9.9 Marla</text>
<text x="941.5" y="886" font-size="3.4" fill="#111" text-anchor="start" font-weight="bold" >9.1 Marla</text>
<text x="956.3" y="916" font-size="10.5" fill="#2a2a2a" text-anchor="middle" transform="rotate(90 956.3 916)" textLength="44" lengthAdjust="spacingAndGlyphs" >Street 23</text>
<polyline points="952,850 952,902" fill="none" stroke="#666" stroke-width="0.5" />
<polyline points="946,922 949,922 949,976" fill="none" stroke="#666" stroke-width="0.5" />
<polyline points="945,994 948,994 948,1020" fill="none" stroke="#666" stroke-width="0.5" />
<polygon points="1342.5,551 1449,551 1416,588 1340.8,575 1340.8,601 1311,600" fill="#159A48" stroke="#0b5a2a" stroke-width="0.5" />
<path d="M1445.9 551 A233.5 233.5 0 0 1 1556.4 834 L1471.1 834 A155.5 155.5 0 0 0 1340.8 601.6 L1340.8 562 L1430.5 569 Z" fill="#BF7228" stroke="#2a1a08" stroke-width="0.8" />
<path d="M1342.5 551 L1449 551 L1421.8 581.9 A195 195 0 0 0 1342.8 562.1 L1340.8 562.1 Z" fill="#159A48" stroke="#0b5a2a" stroke-width="0.5" />
<polygon points="1421.8,581.9 1420,551 1445.9,551 1461.5,560.1 1440.2,592.2" fill="#BF7228" stroke="#2a1a08" stroke-width="0.8" />
<text x="1394" y="561.5" font-size="4.6" fill="#10301c" text-anchor="middle" >2 Kanal</text>
<text x="1328" y="587" font-size="4.2" fill="#10301c" text-anchor="middle" >0.7</text>
<text x="1328" y="592.5" font-size="4.2" fill="#10301c" text-anchor="middle" >Kanal</text>
<path d="M1421.8 581.9 A195 195 0 0 1 1515.2 834M1440.8 592.5L1461.5 560.1M1457.4 604.4L1481.4 574.3M1473.3 618.5L1500.4 591.2M1487.8 634.5L1517.7 610.4M1500.6 652.5L1533.2 631.9M1511 671.1L1545.6 654.1M1519.3 690.5L1555.5 677.3M1525.5 711.1L1563 702.1M1529.3 731.5L1567.5 726.5M1530.9 752.1L1569.4 751.1M1530.3 773.7L1568.6 776.9M1527.2 795.2L1565 802.8M1522 815.6L1558.7 827.2M1355.8 602.8L1360.8 563.6M1372.2 605.8L1381.4 567.3M1388.4 610.6L1401.7 573.4M1404.4 617.4L1421.8 581.9M1419.1 625.6L1440.2 592.2M1432.7 635.2L1457.3 604.3M1445.1 646.2L1472.8 618M1456.2 658.3L1486.7 633.2M1466.3 672.1L1499.4 650.5M1474.9 687.1L1510.2 669.4M1481.7 702.8L1518.8 689M1486.9 719.4L1525.2 709.8M1490 735.2L1529.1 729.7M1491.4 751.6L1530.9 750.2M1491 769.7L1530.3 773M1488.5 787.2L1527.3 794.9M1484.1 804.3L1521.8 816.3" fill="none" stroke="#2a1a08" stroke-width="0.8" />
<path d="M1558.7 827.2 A233.5 233.5 0 0 1 1556.4 834 L1520.1 821.3 A195 195 0 0 0 1522 815.6 Z" fill="#159A48" stroke="#0b5a2a" stroke-width="0.5" />
<polygon points="1522,815.6 1558.7,827.2 1556.4,834 1507.2,834" fill="#159A48" stroke="#0b5a2a" stroke-width="0.5" />
<text x="1535" y="831" font-size="5" fill="#10301c" text-anchor="middle" >0.7 Kanal</text>
<text x="1495" y="831" font-size="5" fill="#222" text-anchor="middle" >1.3 Kanal</text>
<text x="1444.9" y="567.8" font-size="8.5" fill="#4A2FB0" text-anchor="middle" transform="rotate(29.5 1444.9 567.8)" >16</text>
<text x="1463.8" y="580" font-size="8.5" fill="#4A2FB0" text-anchor="middle" transform="rotate(35.4 1463.8 580)" >17</text>
<text x="1481.9" y="595.5" font-size="8.5" fill="#4A2FB0" text-anchor="middle" transform="rotate(41.6 1481.9 595.5)" >18</text>
<text x="1500.3" y="611.5" font-size="8.5" fill="#4A2FB0" text-anchor="middle" transform="rotate(47.9 1500.3 611.5)" >19</text>
<text x="1516.3" y="630.5" font-size="8.5" fill="#4A2FB0" text-anchor="middle" transform="rotate(54.3 1516.3 630.5)" >20</text>
<text x="1529.4" y="652.3" font-size="8.5" fill="#4A2FB0" text-anchor="middle" transform="rotate(60.9 1529.4 652.3)" >21</text>
<text x="1539.7" y="672.7" font-size="8.5" fill="#4A2FB0" text-anchor="middle" transform="rotate(66.8 1539.7 672.7)" >22</text>
<text x="1547.5" y="696.6" font-size="8.5" fill="#4A2FB0" text-anchor="middle" transform="rotate(73.3 1547.5 696.6)" >23</text>
<text x="1554.2" y="719.4" font-size="8" fill="#4A2FB0" text-anchor="middle" >23A</text>
<text x="1555.7" y="742.7" font-size="8" fill="#4A2FB0" text-anchor="middle" >23B</text>
<text x="1556.3" y="766" font-size="8" fill="#4A2FB0" text-anchor="middle" >23C</text>
<text x="1554.2" y="791.4" font-size="8" fill="#4A2FB0" text-anchor="middle" >23D</text>
<text x="1546.4" y="814.1" font-size="8" fill="#4A2FB0" text-anchor="middle" >23E</text>
<text x="1347.8" y="595.5" font-size="8.5" fill="#4A2FB0" text-anchor="middle" transform="rotate(4.1 1347.8 595.5)" >38</text>
<text x="1366.2" y="596.9" font-size="8.5" fill="#4A2FB0" text-anchor="middle" transform="rotate(10.5 1366.2 596.9)" >37</text>
<text x="1382.8" y="601.3" font-size="8.5" fill="#4A2FB0" text-anchor="middle" transform="rotate(16.4 1382.8 601.3)" >36</text>
<text x="1400.3" y="608.6" font-size="8.5" fill="#4A2FB0" text-anchor="middle" transform="rotate(23 1400.3 608.6)" >35</text>
<text x="1415.7" y="617.3" font-size="8.5" fill="#4A2FB0" text-anchor="middle" transform="rotate(29.2 1415.7 617.3)" >34</text>
<text x="1430.3" y="627.5" font-size="8.5" fill="#4A2FB0" text-anchor="middle" transform="rotate(35.4 1430.3 627.5)" >33</text>
<text x="1444.3" y="637.8" font-size="8.5" fill="#4A2FB0" text-anchor="middle" transform="rotate(41.5 1444.3 637.8)" >32</text>
<text x="1456.6" y="650" font-size="8.5" fill="#4A2FB0" text-anchor="middle" transform="rotate(47.6 1456.6 650)" >31</text>
<text x="1468.2" y="662.5" font-size="8.5" fill="#4A2FB0" text-anchor="middle" transform="rotate(53.6 1468.2 662.5)" >30</text>
<text x="1478.4" y="678.6" font-size="8.5" fill="#4A2FB0" text-anchor="middle" transform="rotate(60.2 1478.4 678.6)" >29</text>
<text x="1485.7" y="694.6" font-size="8.5" fill="#4A2FB0" text-anchor="middle" transform="rotate(66.4 1485.7 694.6)" >28</text>
<text x="1492.4" y="711.5" font-size="8.5" fill="#4A2FB0" text-anchor="middle" transform="rotate(72.8 1492.4 711.5)" >27</text>
<text x="1495.9" y="729.6" font-size="8.5" fill="#4A2FB0" text-anchor="middle" transform="rotate(79.2 1495.9 729.6)" >26</text>
<text x="1497.4" y="745" font-size="8.5" fill="#4A2FB0" text-anchor="middle" transform="rotate(84.7 1497.4 745)" >25</text>
<text x="1500.3" y="763.7" font-size="8" fill="#4A2FB0" text-anchor="middle" >24</text>
<text x="1501.2" y="783.5" font-size="8" fill="#4A2FB0" text-anchor="middle" >24A</text>
<text x="1498.8" y="801.6" font-size="8" fill="#4A2FB0" text-anchor="middle" >24B</text>
<text x="1491.5" y="820" font-size="8" fill="#4A2FB0" text-anchor="middle" >24C</text>
<text x="1507" y="668" font-size="9.5" fill="#2a1a08" text-anchor="middle" transform="rotate(62 1507 668)" textLength="58" lengthAdjust="spacingAndGlyphs" >1 Kanal Plots</text>
<text x="1494" y="668" font-size="9.5" fill="#2a1a08" text-anchor="middle" transform="rotate(62 1494 668)" textLength="44" lengthAdjust="spacingAndGlyphs" >(50' x 90')</text>
<text x="1564.5" y="686" font-size="10.5" fill="#2a2a2a" text-anchor="middle" transform="rotate(76 1564.5 686)" textLength="44" lengthAdjust="spacingAndGlyphs" >Street 19</text>
<text x="1467.5" y="693" font-size="10.5" fill="#2a2a2a" text-anchor="middle" transform="rotate(64 1467.5 693)" textLength="44" lengthAdjust="spacingAndGlyphs" >Street 20</text>
<text x="1377.5" y="697" font-size="10.5" fill="#2a2a2a" text-anchor="middle" transform="rotate(35 1377.5 697)" textLength="44" lengthAdjust="spacingAndGlyphs" >Street 21</text>
<polygon points="1512,551 1601,551 1560.3,577.9" fill="#159A48" stroke="#0b5a2a" stroke-width="0.5" />
<text x="1550" y="560" font-size="4.6" fill="#10301c" text-anchor="middle" >Green Area</text>
<text x="1550" y="567" font-size="4.6" fill="#10301c" text-anchor="middle" >(0.3 Acres)</text>
<path d="M1531 601.3 L1582.2 560.5 L1590 551 A327 327 0 0 1 1654.5 831 H1574.3 A249.5 249.5 0 0 0 1531 601.3 Z" fill="#BF7228" stroke="#2a1a08" stroke-width="0.8" />
<path d="M1560.3 577.9 A287 287 0 0 1 1613.3 831M1542.1 616.4L1573.1 595.3M1552.4 632.8L1584.9 614.2M1560.9 649L1594.7 632.8M1567.9 665L1602.8 651.1M1574.1 682.4L1609.9 671.2M1579.1 700.9L1615.6 692.4M1582.5 718.4L1619.5 712.6M1584.6 735.9L1622 732.7M1585.5 753.7L1623 753.2M1585 772.4L1622.4 774.8M1583.2 790.9L1620.3 796M1580.4 807L1617.2 814.5M1572.4 594.2L1605.3 571.6M1584 612.6L1618.6 592.5M1594.4 632.1L1630.4 614.7M1602.7 650.9L1639.8 636.1M1609.6 670.5L1647.8 658.4M1615.4 691.5L1654.4 682.3M1619.6 712.8L1659.1 706.7M1622 733.2L1661.9 729.9M1623 753.5L1663 753M1622.4 774.8L1662.4 777.2M1620.3 796.2L1659.9 801.7M1616.4 818.1L1655.5 826.7" fill="none" stroke="#2a1a08" stroke-width="0.8" />
<path d="M1655.5 826.7 A327 327 0 0 1 1654.5 831 L1615.6 821.9 A287 287 0 0 0 1616.4 818.1 Z" fill="#159A48" stroke="#0b5a2a" stroke-width="0.5" />
<polygon points="1616.4,818.1 1655.5,826.7 1654.5,831 1606.3,831" fill="#159A48" stroke="#0b5a2a" stroke-width="0.5" />
<text x="1634" y="828.5" font-size="4.4" fill="#10301c" text-anchor="middle" >0.6 Kanal</text>
<text x="1596" y="828.5" font-size="4.4" fill="#222" text-anchor="middle" >1.1 Kanal</text>
<text x="1544" y="605.5" font-size="8" fill="#4A2FB0" text-anchor="middle" transform="rotate(53.4 1544 605.5)" >37</text>
<text x="1590.1" y="570.5" font-size="8" fill="#4A2FB0" text-anchor="middle" transform="rotate(53.3 1590.1 570.5)" >39</text>
<text x="1602.3" y="590.9" font-size="8" fill="#4A2FB0" text-anchor="middle" transform="rotate(57.6 1602.3 590.9)" >38</text>
<text x="1557.1" y="621.2" font-size="7" fill="#4A2FB0" text-anchor="middle" transform="rotate(-32 1557.1 621.2)" >37A</text>
<text x="1566.8" y="638.1" font-size="7" fill="#4A2FB0" text-anchor="middle" transform="rotate(-27.7 1566.8 638.1)" >37B</text>
<text x="1576.1" y="654.7" font-size="7" fill="#4A2FB0" text-anchor="middle" transform="rotate(-23.6 1576.1 654.7)" >37C</text>
<text x="1583.4" y="671.3" font-size="7.8" fill="#4A2FB0" text-anchor="middle" >37D</text>
<text x="1588.6" y="691.7" font-size="7.8" fill="#4A2FB0" text-anchor="middle" >37E</text>
<text x="1592.1" y="710.6" font-size="7.8" fill="#4A2FB0" text-anchor="middle" >37F</text>
<text x="1596.5" y="728.7" font-size="7.8" fill="#4A2FB0" text-anchor="middle" >37G</text>
<text x="1598" y="747.1" font-size="7.8" fill="#4A2FB0" text-anchor="middle" >37H</text>
<text x="1595" y="766" font-size="7.8" fill="#4A2FB0" text-anchor="middle" >37I</text>
<text x="1595" y="786.4" font-size="7.8" fill="#4A2FB0" text-anchor="middle" >37J</text>
<text x="1593" y="804.5" font-size="7.8" fill="#4A2FB0" text-anchor="middle" >37K</text>
<text x="1589.2" y="820" font-size="7.8" fill="#4A2FB0" text-anchor="middle" >37L</text>
<text x="1612.5" y="612.5" font-size="7" fill="#4A2FB0" text-anchor="middle" transform="rotate(-28 1612.5 612.5)" >38A</text>
<text x="1621.9" y="634.3" font-size="7" fill="#4A2FB0" text-anchor="middle" transform="rotate(-23.6 1621.9 634.3)" >38B</text>
<text x="1628.6" y="654.7" font-size="7" fill="#4A2FB0" text-anchor="middle" transform="rotate(-19.7 1628.6 654.7)" >38C</text>
<text x="1637.3" y="677.1" font-size="7.8" fill="#4A2FB0" text-anchor="middle" >38D</text>
<text x="1642.3" y="700.4" font-size="7.8" fill="#4A2FB0" text-anchor="middle" >38E</text>
<text x="1644.6" y="723.8" font-size="7.8" fill="#4A2FB0" text-anchor="middle" >38F</text>
<text x="1645.2" y="744.7" font-size="7.8" fill="#4A2FB0" text-anchor="middle" >38G</text>
<text x="1649" y="767.5" font-size="7.8" fill="#4A2FB0" text-anchor="middle" >38H</text>
<text x="1646.1" y="790.8" font-size="7.8" fill="#4A2FB0" text-anchor="middle" >38I</text>
<text x="1646.1" y="814.7" font-size="7.8" fill="#4A2FB0" text-anchor="middle" >38J</text>
<text x="1619" y="692" font-size="9.5" fill="#2a1a08" text-anchor="middle" transform="rotate(76 1619 692)" textLength="58" lengthAdjust="spacingAndGlyphs" >1 Kanal Plots</text>
<text x="1606" y="688" font-size="9.5" fill="#2a1a08" text-anchor="middle" transform="rotate(76 1606 688)" textLength="44" lengthAdjust="spacingAndGlyphs" >(50' x 90')</text>
<polygon points="1477,551 1499,551 1541,594 1532.4,599.8" fill="#A9A4DB" stroke="#555" stroke-width="0.4" />
<polygon points="1499,551 1512,551 1548.5,588 1541,594" fill="#A84EA0" stroke="#4a2a6a" stroke-width="0.5" />
<path d="M1503.2 555.3L1512.2 550.8M1507.4 559.6L1516.4 555.1M1511.6 563.9L1520.6 559.4M1515.8 568.2L1524.8 563.7M1520 572.5L1529 568M1524.2 576.8L1533.2 572.3M1528.4 581.1L1537.4 576.6M1532.6 585.4L1541.6 580.9M1536.8 589.7L1545.8 585.2" fill="none" stroke="#3a1a5a" stroke-width="0.5" />
<polyline points="1440,548 1490,548 1499,556" fill="none" stroke="#444" stroke-width="0.5" />
<text x="1466" y="542" font-size="4.4" fill="#111" text-anchor="middle" font-weight="bold" textLength="40" lengthAdjust="spacingAndGlyphs" >Convenience Shops</text>
<text x="1466" y="547" font-size="3.8" fill="#111" text-anchor="middle" >(12' x 28')</text>
<path d="M1612.4 552.2 H1666.5 V647 Q1665 652 1662.5 649 L1612.4 552.2 Z" fill="#159A48" stroke="none" stroke-width="1" />
<path d="M1612.4 552.2 H1666.5 V647 Q1665 652 1662.5 648 A344 344 0 0 0 1612.4 552.2 Z" fill="#159A48" stroke="#0b5a2a" stroke-width="0.5" />
<text x="1643" y="561.5" font-size="4.6" fill="#10301c" text-anchor="middle" >Green Area</text>
<text x="1643" y="568.5" font-size="4.6" fill="#10301c" text-anchor="middle" >(0.4 Acres)</text>
<text x="1669.5" y="600" font-size="10.5" fill="#2a2a2a" text-anchor="middle" transform="rotate(90 1669.5 600)" textLength="44" lengthAdjust="spacingAndGlyphs" >Street 18</text>
<text x="1668" y="750" font-size="10.5" fill="#2a2a2a" text-anchor="middle" transform="rotate(90 1668 750)" textLength="44" lengthAdjust="spacingAndGlyphs" >Street 18</text>
<rect x="1683" y="551" width="39" height="280" fill="#BF7228" stroke="#20140a" stroke-width="0.8" />
<path d="M1683 572.5H1722M1683 594H1722M1683 615.6H1722M1683 637.1H1722M1683 658.6H1722M1683 680.1H1722M1683 701.6H1722M1683 723.2H1722M1683 744.7H1722M1683 766.2H1722M1683 787.7H1722M1683 809.2H1722" fill="none" stroke="#20140a" stroke-width="0.8" />
<text x="1693.5" y="567.5" font-size="8.2" fill="#4A2FB0" text-anchor="middle" >1</text>
<text x="1693.5" y="587" font-size="8.2" fill="#4A2FB0" text-anchor="middle" >2</text>
<text x="1693.5" y="608.5" font-size="8.2" fill="#4A2FB0" text-anchor="middle" >3</text>
<text x="1693.5" y="630.1" font-size="8.2" fill="#4A2FB0" text-anchor="middle" >4</text>
<text x="1693.5" y="651.6" font-size="8.2" fill="#4A2FB0" text-anchor="middle" >4A</text>
<text x="1693.5" y="673.1" font-size="8.2" fill="#4A2FB0" text-anchor="middle" >4B</text>
<text x="1693.5" y="694.6" font-size="8.2" fill="#4A2FB0" text-anchor="middle" >4C</text>
<text x="1693.5" y="716.1" font-size="8.2" fill="#4A2FB0" text-anchor="middle" >4D</text>
<text x="1693.5" y="737.7" font-size="8.2" fill="#4A2FB0" text-anchor="middle" >4E</text>
<text x="1693.5" y="759.2" font-size="8.2" fill="#4A2FB0" text-anchor="middle" >4F</text>
<text x="1693.5" y="780.7" font-size="8.2" fill="#4A2FB0" text-anchor="middle" >4G</text>
<text x="1693.5" y="802.2" font-size="8.2" fill="#4A2FB0" text-anchor="middle" >4H</text>
<text x="1693.5" y="823.7" font-size="8.2" fill="#4A2FB0" text-anchor="middle" >4I</text>
<text x="1703" y="558" font-size="4.6" fill="#222" text-anchor="middle" >1.2 Kanal</text>
<text x="1701" y="829" font-size="4.6" fill="#222" text-anchor="middle" >1.1 Kanal</text>
<text x="1708" y="708" font-size="8" fill="#2a1a08" text-anchor="middle" transform="rotate(90 1708 708)" textLength="92" lengthAdjust="spacingAndGlyphs" >1 Kanal Plots (50' x 90')</text>
<rect x="1722" y="551" width="7" height="280" fill="#159A48" stroke="#0b5a2a" stroke-width="0.4" />
<path d="M1477 551 H1729.5 V831.5 H1573.3 A248.5 248.5 0 0 0 1530.2 602 L1477 551" fill="none" stroke="#3547A9" stroke-width="3" stroke-dasharray="16 5"/>
<polyline points="1477,910.5 1605.5,910.5 1605.5,833" fill="none" stroke="#3547A9" stroke-width="3" stroke-dasharray="15 6"/>
<polyline points="1366,912 1282,912 1238,996" fill="none" stroke="#3547A9" stroke-width="3" stroke-dasharray="15 6"/>
<rect x="693.4" y="758.4" width="261.3" height="74.2" fill="#EE6A62" stroke="none" stroke-width="1" />
<rect x="696.8" y="761.8" width="254.5" height="67.4" fill="#24265F" stroke="none" stroke-width="1" />
<line x1="727.7" y1="762" x2="727.7" y2="829" stroke="#E8D44A" stroke-width="0.8" stroke-dasharray="3 2"/>
<line x1="759" y1="762" x2="759" y2="829" stroke="#E8D44A" stroke-width="0.8" stroke-dasharray="3 2"/>
<line x1="791.8" y1="762" x2="791.8" y2="829" stroke="#E8D44A" stroke-width="0.8" stroke-dasharray="3 2"/>
<line x1="823.8" y1="762" x2="823.8" y2="829" stroke="#E8D44A" stroke-width="0.8" stroke-dasharray="3 2"/>
<line x1="852.8" y1="762" x2="852.8" y2="829" stroke="#E8D44A" stroke-width="0.8" stroke-dasharray="3 2"/>
<line x1="882.2" y1="762" x2="882.2" y2="829" stroke="#E8D44A" stroke-width="0.8" stroke-dasharray="3 2"/>
<line x1="916.5" y1="762" x2="916.5" y2="829" stroke="#E8D44A" stroke-width="0.8" stroke-dasharray="3 2"/>
<text x="710.5" y="816.6" font-size="16.5" fill="#fff" text-anchor="middle" font-weight="bold" >4</text>
<text x="743" y="816.6" font-size="16.5" fill="#fff" text-anchor="middle" font-weight="bold" >5</text>
<text x="776.5" y="816.6" font-size="16.5" fill="#fff" text-anchor="middle" font-weight="bold" >6</text>
<text x="809.7" y="816.6" font-size="16.5" fill="#fff" text-anchor="middle" font-weight="bold" >7</text>
<text x="839.1" y="816.6" font-size="16.5" fill="#fff" text-anchor="middle" font-weight="bold" >8</text>
<text x="867.7" y="816.6" font-size="16.5" fill="#fff" text-anchor="middle" font-weight="bold" >9</text>
<text x="902" y="816.6" font-size="16.5" fill="#fff" text-anchor="middle" font-weight="bold" >10</text>
<text x="933" y="816.6" font-size="16.5" fill="#fff" text-anchor="middle" font-weight="bold" >11</text>
<text x="690.5" y="791" font-size="9.5" fill="#2a2a2a" text-anchor="middle" transform="rotate(-90 690.5 791)" textLength="36" lengthAdjust="spacingAndGlyphs" >Street 1</text>
<path d="M770 835 V1039.8 H943.8 V976 H964 L963.8 975.5 L976.7 974.2 L989.6 972.5 L1002.4 970.5 L1015.2 968.1 L1027.9 965.4 L1040.5 962.3 L1053 958.9 L1065.5 955.1 L1077.8 951 L1090 946.6 L1102.1 941.9 L1114.1 936.8 L1125.9 931.4 L1137.5 925.6 L1149 919.6 L1160.3 913.2 L1171.5 906.6 L1182.5 899.6 L1193.2 892.3 L1203.8 884.8 L1220 876 L1240 902 V855 H1386.6 L1414.3 834 H1557 A233.5 233.5 0 0 0 1445.9 551 H1343 L1345.7 552.5 A243.5 243.5 0 0 1 1008.4 644.3" fill="none" stroke="#E8242C" stroke-width="3" stroke-dasharray="19 4.5"/>
<path d="M960 1041 V992.3 L960 992.3 L973.8 991.5 L987.5 990.3 L1001.2 988.7 L1014.8 986.6 L1028.3 984.1 L1041.8 981.3 L1055.2 978 L1068.5 974.3 L1081.6 970.2 L1094.6 965.7 L1107.5 960.8 L1120.2 955.5 L1132.8 949.8 L1145.2 943.8 L1157.3 937.4 L1169.3 930.6 L1181.1 923.4 L1192.6 915.9 L1203.9 908 L1215 899.8 L1238 921 V1041 Z" fill="none" stroke="#3547A9" stroke-width="3" stroke-dasharray="16 5"/>
<polyline points="656,897 656,831 693,831" fill="none" stroke="#3547A9" stroke-width="2.4" stroke-dasharray="12 5"/>
<line x1="943.8" y1="1040" x2="960" y2="1040" stroke="#C33" stroke-width="0.8" />
<line x1="1240" y1="855" x2="1240" y2="1000" stroke="#C33" stroke-width="0.6" />
<line x1="1557" y1="834" x2="1730" y2="834" stroke="#C33" stroke-width="0.6" />
<text x="317" y="72.5" font-size="29" fill="#123F6B" text-anchor="start" font-weight="bold" textLength="188" lengthAdjust="spacingAndGlyphs" >Chahar Bagh</text>
<text x="317" y="105.5" font-size="29" fill="#123F6B" text-anchor="start" font-weight="bold" textLength="100" lengthAdjust="spacingAndGlyphs" >Phase I</text>
<rect x="426.5" y="105.5" width="196.5" height="54" fill="#fff" stroke="#111" stroke-width="1.5" />
<text x="456" y="127.5" font-size="16" fill="#222" text-anchor="start" textLength="44" lengthAdjust="spacingAndGlyphs" >Note:</text>
<text x="456" y="147.5" font-size="11.5" fill="#222" text-anchor="start" textLength="143" lengthAdjust="spacingAndGlyphs" >All Dimensions are in Feet.</text>
<path d="M359 169l4 0l-2 6zM358 178l6 -2l1 8l-7 2z" fill="#111" stroke="none" stroke-width="1" />
<rect x="426.5" y="173" width="196.5" height="308" fill="#fff" stroke="#111" stroke-width="1.5" />
<text x="528.5" y="190" font-size="17" fill="#222" text-anchor="middle" textLength="57" lengthAdjust="spacingAndGlyphs" >Legend</text>
<line x1="430" y1="198" x2="430" y2="481" stroke="#333" stroke-width="0.8" />
<line x1="505.5" y1="198" x2="505.5" y2="481" stroke="#222" stroke-width="1.2" />
<line x1="426.5" y1="198" x2="623" y2="198" stroke="#222" stroke-width="1.2" />
<rect x="431.2" y="199.8" width="73.3" height="22.1" fill="#fff" stroke="#999" stroke-width="0.8" />
<rect x="432.3" y="200.8" width="71.2" height="20.1" fill="#159A48" stroke="#444" stroke-width="0.5" />
<text x="562" y="208.7" font-size="10.2" fill="#2f2f2f" text-anchor="middle" >Green/Open</text>
<text x="562" y="221.1" font-size="10.2" fill="#2f2f2f" text-anchor="middle" >Area/Parks</text>
<line x1="426.5" y1="223.7" x2="623" y2="223.7" stroke="#222" stroke-width="1.2" />
<rect x="431.2" y="225.5" width="73.3" height="22.1" fill="#fff" stroke="#999" stroke-width="0.8" />
<rect x="432.3" y="226.5" width="71.2" height="20.1" fill="#DDB1D6" stroke="#444" stroke-width="0.5" />
<text x="562" y="240.2" font-size="11.4" fill="#2f2f2f" text-anchor="middle" textLength="78" lengthAdjust="spacingAndGlyphs" >Condominiums</text>
<line x1="426.5" y1="249.5" x2="623" y2="249.5" stroke="#222" stroke-width="1.2" />
<rect x="431.2" y="251.3" width="73.3" height="22.1" fill="#fff" stroke="#999" stroke-width="0.8" />
<rect x="432.3" y="252.3" width="71.2" height="20.1" fill="#9A9A38" stroke="#444" stroke-width="0.5" />
<text x="562" y="265.9" font-size="11.4" fill="#2f2f2f" text-anchor="middle" textLength="41" lengthAdjust="spacingAndGlyphs" >Mix Use</text>
<line x1="426.5" y1="275.2" x2="623" y2="275.2" stroke="#222" stroke-width="1.2" />
<rect x="431.2" y="277" width="73.3" height="22.1" fill="#fff" stroke="#999" stroke-width="0.8" />
<rect x="432.3" y="278" width="71.2" height="20.1" fill="#ABDBF3" stroke="#444" stroke-width="0.5" />
<text x="562" y="291.7" font-size="11.4" fill="#2f2f2f" text-anchor="middle" textLength="63" lengthAdjust="spacingAndGlyphs" >Commercial</text>
<line x1="426.5" y1="300.9" x2="623" y2="300.9" stroke="#222" stroke-width="1.2" />
<rect x="431.2" y="302.7" width="73.3" height="22.1" fill="#fff" stroke="#999" stroke-width="0.8" />
<rect x="432.3" y="303.7" width="71.2" height="20.1" fill="#F5A8AE" stroke="#444" stroke-width="0.5" />
<text x="562" y="317.4" font-size="11.4" fill="#2f2f2f" text-anchor="middle" textLength="76" lengthAdjust="spacingAndGlyphs" >Public Building</text>
<line x1="426.5" y1="326.6" x2="623" y2="326.6" stroke="#222" stroke-width="1.2" />
<rect x="431.2" y="328.4" width="73.3" height="22.1" fill="#fff" stroke="#999" stroke-width="0.8" />
<rect x="432.3" y="329.4" width="71.2" height="20.1" fill="#F49B1E" stroke="#444" stroke-width="0.5" />
<text x="562" y="337.3" font-size="9" fill="#2f2f2f" text-anchor="middle" >Residential</text>
<text x="562" y="348.9" font-size="9" fill="#2f2f2f" text-anchor="middle" >(10 Marla Plots)</text>
<line x1="426.5" y1="352.4" x2="623" y2="352.4" stroke="#222" stroke-width="1.2" />
<rect x="431.2" y="354.2" width="73.3" height="22.1" fill="#fff" stroke="#999" stroke-width="0.8" />
<rect x="432.3" y="355.2" width="71.2" height="20.1" fill="#BF7228" stroke="#444" stroke-width="0.5" />
<text x="562" y="363" font-size="9" fill="#2f2f2f" text-anchor="middle" >Residential</text>
<text x="562" y="374.6" font-size="9" fill="#2f2f2f" text-anchor="middle" >(1 Kanal Plots)</text>
<line x1="426.5" y1="378.1" x2="623" y2="378.1" stroke="#222" stroke-width="1.2" />
<rect x="431.2" y="379.9" width="73.3" height="22.1" fill="#fff" stroke="#999" stroke-width="0.8" />
<rect x="432.3" y="380.9" width="71.2" height="20.1" fill="#E05055" stroke="#444" stroke-width="0.5" />
<text x="562" y="394.6" font-size="11.4" fill="#2f2f2f" text-anchor="middle" textLength="62" lengthAdjust="spacingAndGlyphs" >Grid Station</text>
<line x1="426.5" y1="403.8" x2="623" y2="403.8" stroke="#222" stroke-width="1.2" />
<rect x="431.2" y="405.6" width="73.3" height="22.1" fill="#fff" stroke="#999" stroke-width="0.8" />
<rect x="432.3" y="406.6" width="71.2" height="20.1" fill="#F6EE7C" stroke="#444" stroke-width="0.5" />
<text x="562" y="420.3" font-size="11.4" fill="#2f2f2f" text-anchor="middle" textLength="73" lengthAdjust="spacingAndGlyphs" >Grand Mosque</text>
<line x1="426.5" y1="429.6" x2="623" y2="429.6" stroke="#222" stroke-width="1.2" />
<rect x="431.2" y="431.4" width="73.3" height="22.1" fill="#fff" stroke="#999" stroke-width="0.8" />
<rect x="432.3" y="432.4" width="71.2" height="20.1" fill="#80CCA5" stroke="#444" stroke-width="0.5" />
<text x="562" y="440.2" font-size="10.2" fill="#2f2f2f" text-anchor="middle" >Command &amp; Control</text>
<text x="562" y="452.6" font-size="10.2" fill="#2f2f2f" text-anchor="middle" >Center</text>
<line x1="426.5" y1="455.3" x2="623" y2="455.3" stroke="#222" stroke-width="1.2" />
<rect x="431.2" y="457.1" width="73.3" height="22.1" fill="#fff" stroke="#999" stroke-width="0.8" />
<rect x="432.3" y="458.1" width="71.2" height="20.1" fill="#A84EA0" stroke="#444" stroke-width="0.5" />
<text x="562" y="471.8" font-size="11.4" fill="#2f2f2f" text-anchor="middle" textLength="100" lengthAdjust="spacingAndGlyphs" >Convenience Shops</text>
<rect x="1466.5" y="941" width="277.5" height="114" fill="#fff" stroke="#111" stroke-width="1.5" />
<line x1="1466.5" y1="964.3" x2="1744" y2="964.3" stroke="#222" stroke-width="1" />
<line x1="1466.5" y1="981.4" x2="1744" y2="981.4" stroke="#222" stroke-width="1" />
<line x1="1466.5" y1="1006.4" x2="1744" y2="1006.4" stroke="#222" stroke-width="1" />
<line x1="1466.5" y1="1032.3" x2="1744" y2="1032.3" stroke="#222" stroke-width="1" />
<line x1="1509.2" y1="964.3" x2="1509.2" y2="1055" stroke="#222" stroke-width="1" />
<line x1="1602.9" y1="964.3" x2="1602.9" y2="1055" stroke="#222" stroke-width="1" />
<text x="1605" y="957" font-size="12.2" fill="#111" text-anchor="middle" font-weight="bold" textLength="249" lengthAdjust="spacingAndGlyphs" style="font-family:'Liberation Serif',serif" >ROADS CATEGORY AND RIGHT OF WAY</text>
<text x="1487.6" y="975.4" font-size="10" fill="#111" text-anchor="middle" font-weight="bold" style="font-family:'Liberation Serif',serif" >Sr. No.</text>
<text x="1556.6" y="975.2" font-size="10" fill="#111" text-anchor="middle" font-weight="bold" style="font-family:'Liberation Serif',serif" >Category</text>
<text x="1665.3" y="975.6" font-size="10" fill="#111" text-anchor="middle" font-weight="bold" style="font-family:'Liberation Serif',serif" >Right of Way (ROW)</text>
<text x="1487.3" y="997.7" font-size="9.5" fill="#222" text-anchor="middle" style="font-family:'Liberation Serif',serif" >1</text>
<text x="1556.6" y="996.7" font-size="9.5" fill="#222" text-anchor="middle" style="font-family:'Liberation Serif',serif" >Primary Road</text>
<text x="1665.3" y="998.7" font-size="9.5" fill="#222" text-anchor="middle" style="font-family:'Liberation Serif',serif" >200'</text>
<text x="1487.3" y="1022" font-size="9.5" fill="#222" text-anchor="middle" style="font-family:'Liberation Serif',serif" >2</text>
<text x="1556.6" y="1021" font-size="9.5" fill="#222" text-anchor="middle" style="font-family:'Liberation Serif',serif" >Secondary Road</text>
<text x="1665.3" y="1023" font-size="9.5" fill="#222" text-anchor="middle" style="font-family:'Liberation Serif',serif" >100'</text>
<text x="1487.3" y="1045.5" font-size="9.5" fill="#222" text-anchor="middle" style="font-family:'Liberation Serif',serif" >3</text>
<text x="1556.6" y="1044.5" font-size="9.5" fill="#222" text-anchor="middle" style="font-family:'Liberation Serif',serif" >Street</text>
<text x="1665.3" y="1046.5" font-size="9.5" fill="#222" text-anchor="middle" style="font-family:'Liberation Serif',serif" >40'</text>
<rect x="604" y="49.7" width="93" height="25.3" fill="#fff" stroke="#E8242C" stroke-width="3.3" stroke-dasharray="20 4.5" rx="2"/>
<text x="650.5" y="69.4" font-size="19.5" fill="#1a1a1a" text-anchor="middle" textLength="78" lengthAdjust="spacingAndGlyphs" >BLOCK B</text>
<rect x="855.3" y="49.7" width="92" height="25.3" fill="#fff" stroke="#E8242C" stroke-width="3.3" stroke-dasharray="20 4.5" rx="2"/>
<text x="901.3" y="69.4" font-size="19.5" fill="#1a1a1a" text-anchor="middle" textLength="78" lengthAdjust="spacingAndGlyphs" >BLOCK D</text>
<rect x="1109.5" y="58.8" width="92.2" height="25.4" fill="#fff" stroke="#E8242C" stroke-width="3.3" stroke-dasharray="20 4.5" rx="2"/>
<text x="1155.6" y="78.5" font-size="19.5" fill="#1a1a1a" text-anchor="middle" textLength="77" lengthAdjust="spacingAndGlyphs" >BLOCK F</text>
<rect x="1424.7" y="54.6" width="92.1" height="25.4" fill="#fff" stroke="#E8242C" stroke-width="3.3" stroke-dasharray="20 4.5" rx="2"/>
<text x="1470.8" y="74.3" font-size="19.5" fill="#1a1a1a" text-anchor="middle" textLength="78" lengthAdjust="spacingAndGlyphs" >BLOCK E</text>
<rect x="557.5" y="604.5" width="92" height="25" fill="#fff" stroke="#E8242C" stroke-width="3.3" stroke-dasharray="20 4.5" rx="2"/>
<text x="603.5" y="624" font-size="19.5" fill="#1a1a1a" text-anchor="middle" textLength="78" lengthAdjust="spacingAndGlyphs" >BLOCK A</text>
<rect x="1565.5" y="63.5" width="142.5" height="29" fill="#fff" stroke="#E8242C" stroke-width="3" stroke-dasharray="12 5" rx="2"/>
<text x="1636.8" y="84.3" font-size="17.5" fill="#173E70" text-anchor="middle" textLength="126" lengthAdjust="spacingAndGlyphs" >Alamgir Block II</text>
<rect x="1366" y="897.5" width="111" height="26" fill="#fff" stroke="#3547A9" stroke-width="3.3" stroke-dasharray="19 5" rx="2"/>
<text x="1421.5" y="917.5" font-size="19.5" fill="#1a1a1a" text-anchor="middle" textLength="96" lengthAdjust="spacingAndGlyphs" >D Extension</text>
<rect x="602.5" y="897" width="154" height="25.5" fill="#fff" stroke="#3547A9" stroke-width="2.6" stroke-dasharray="13 4.5" rx="2"/>
<text x="679.5" y="915.9" font-size="17" fill="#123F6B" text-anchor="middle" font-weight="bold" textLength="136" lengthAdjust="spacingAndGlyphs" >SOUQ DISTRICT</text>
<text x="214.5" y="965.5" font-size="20.5" fill="#123F6B" text-anchor="start" font-weight="bold" textLength="168" lengthAdjust="spacingAndGlyphs" >Dedicated Ring</text>
<text x="214.5" y="991.2" font-size="20.5" fill="#123F6B" text-anchor="start" font-weight="bold" textLength="203" lengthAdjust="spacingAndGlyphs" >Road  Interchange</text>
</svg>
</body></html>
